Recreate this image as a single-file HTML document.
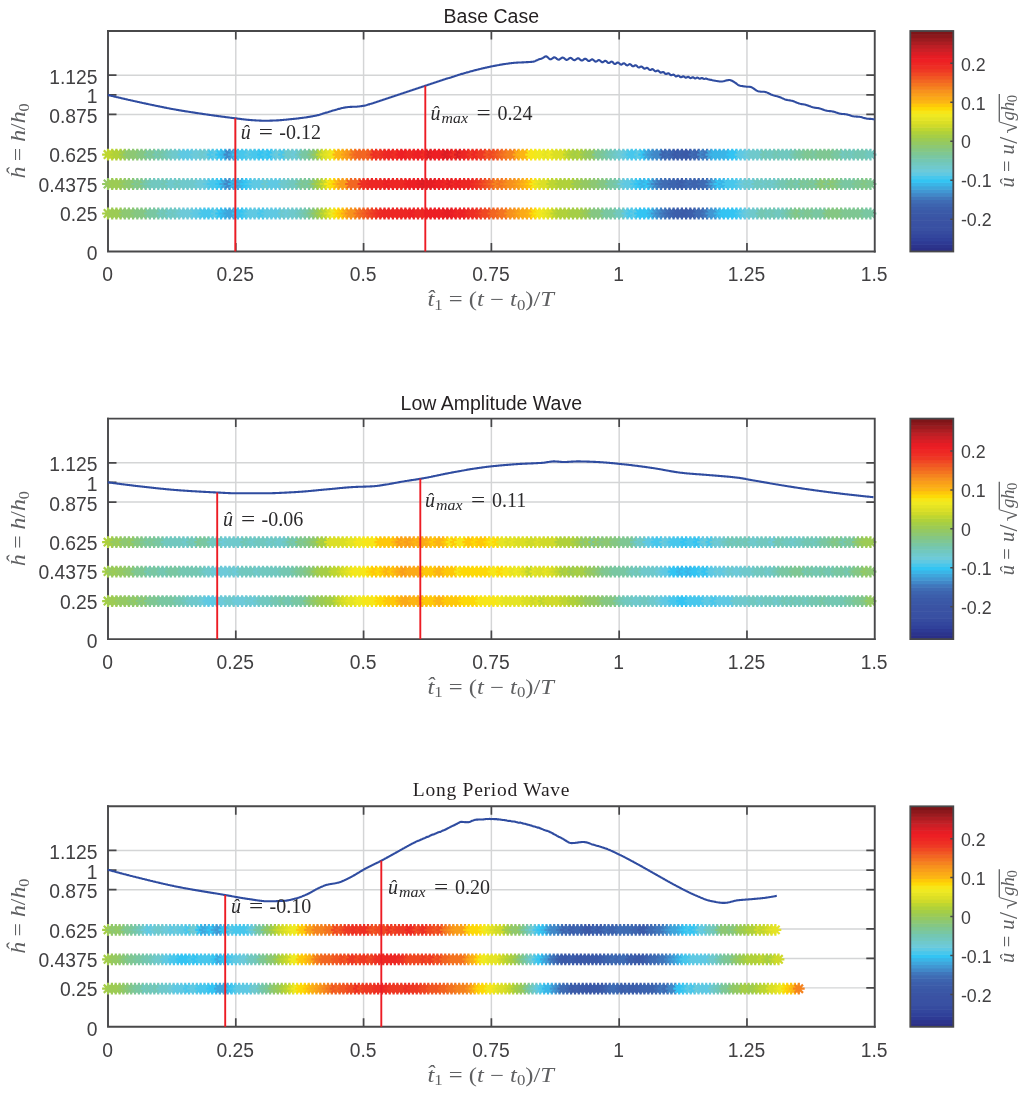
<!DOCTYPE html>
<html lang="en"><head><meta charset="utf-8"><title>Wave velocity profiles</title>
<style>html,body{margin:0;padding:0;background:#fff}svg{display:block}</style></head>
<body>
<svg width="1024" height="1093" viewBox="0 0 1024 1093">
<rect width="1024" height="1093" fill="#ffffff"/>
<g>
<path d="M235.79,31.0V251.5M363.58,31.0V251.5M491.38,31.0V251.5M619.17,31.0V251.5M746.96,31.0V251.5M108.0,212.55H874.8M108.0,183.11H874.8M108.0,153.68H874.8M108.0,114.43H874.8M108.0,94.80H874.8M108.0,75.18H874.8" stroke="#d4d5d6" stroke-width="1.45" fill="none"/>
<path d="M235.79,251.5v-8.5M235.79,31.0v8.5M363.58,251.5v-8.5M363.58,31.0v8.5M491.38,251.5v-8.5M491.38,31.0v8.5M619.17,251.5v-8.5M619.17,31.0v8.5M746.96,251.5v-8.5M746.96,31.0v8.5M108.0,212.55h8.5M874.8,212.55h-8.5M108.0,183.11h8.5M874.8,183.11h-8.5M108.0,153.68h8.5M874.8,153.68h-8.5M108.0,114.43h8.5M874.8,114.43h-8.5M108.0,94.80h8.5M874.8,94.80h-8.5M108.0,75.18h8.5M874.8,75.18h-8.5" stroke="#48484a" stroke-width="1.7" fill="none"/>
<path d="M108.00,31.00V251.50H874.75" fill="none" stroke="#48484a" stroke-width="1.9" stroke-linecap="square"/>
<g fill="none" stroke-width="2.2" stroke-linecap="butt">
<path stroke="#bed631" d="M102.1,154.6H113.9M108.0,148.7V160.5M103.8,150.4L112.2,158.7M103.8,158.7L112.2,150.4"/>
<path stroke="#bed631" d="M106.3,154.6H118.1M112.2,148.7V160.5M108.0,150.4L116.4,158.7M108.0,158.7L116.4,150.4"/>
<path stroke="#b0d13a" d="M110.5,154.6H122.3M116.4,148.7V160.5M112.2,150.4L120.6,158.7M112.2,158.7L120.6,150.4"/>
<path stroke="#b0d13a" d="M114.7,154.6H126.5M120.6,148.7V160.5M116.4,150.4L124.7,158.7M116.4,158.7L124.7,150.4"/>
<path stroke="#9ccb54" d="M118.9,154.6H130.7M124.8,148.7V160.5M120.6,150.4L128.9,158.7M120.6,158.7L128.9,150.4"/>
<path stroke="#8dc873" d="M123.0,154.6H134.8M128.9,148.7V160.5M124.8,150.4L133.1,158.7M124.8,158.7L133.1,150.4"/>
<path stroke="#8dc873" d="M127.2,154.6H139.0M133.1,148.7V160.5M129.0,150.4L137.3,158.7M129.0,158.7L137.3,150.4"/>
<path stroke="#8dc873" d="M131.4,154.6H143.2M137.3,148.7V160.5M133.2,150.4L141.5,158.7M133.2,158.7L141.5,150.4"/>
<path stroke="#85c783" d="M135.6,154.6H147.4M141.5,148.7V160.5M137.3,150.4L145.7,158.7M137.3,158.7L145.7,150.4"/>
<path stroke="#85c783" d="M139.8,154.6H151.6M145.7,148.7V160.5M141.5,150.4L149.9,158.7M141.5,158.7L149.9,150.4"/>
<path stroke="#79c7a2" d="M144.0,154.6H155.8M149.9,148.7V160.5M145.7,150.4L154.1,158.7M145.7,158.7L154.1,150.4"/>
<path stroke="#7fc793" d="M148.2,154.6H160.0M154.1,148.7V160.5M149.9,150.4L158.3,158.7M149.9,158.7L158.3,150.4"/>
<path stroke="#74c7b2" d="M152.4,154.6H164.2M158.3,148.7V160.5M154.1,150.4L162.4,158.7M154.1,158.7L162.4,150.4"/>
<path stroke="#79c7a2" d="M156.6,154.6H168.4M162.5,148.7V160.5M158.3,150.4L166.6,158.7M158.3,158.7L166.6,150.4"/>
<path stroke="#74c7b2" d="M160.8,154.6H172.6M166.7,148.7V160.5M162.5,150.4L170.8,158.7M162.5,158.7L170.8,150.4"/>
<path stroke="#71c8bf" d="M164.9,154.6H176.7M170.8,148.7V160.5M166.7,150.4L175.0,158.7M166.7,158.7L175.0,150.4"/>
<path stroke="#6fc9cc" d="M169.1,154.6H180.9M175.0,148.7V160.5M170.9,150.4L179.2,158.7M170.9,158.7L179.2,150.4"/>
<path stroke="#6fc9cc" d="M173.3,154.6H185.1M179.2,148.7V160.5M175.0,150.4L183.4,158.7M175.0,158.7L183.4,150.4"/>
<path stroke="#5fc9e3" d="M177.5,154.6H189.3M183.4,148.7V160.5M179.2,150.4L187.6,158.7M179.2,158.7L187.6,150.4"/>
<path stroke="#5fc9e3" d="M181.7,154.6H193.5M187.6,148.7V160.5M183.4,150.4L191.8,158.7M183.4,158.7L191.8,150.4"/>
<path stroke="#5fc9e3" d="M185.9,154.6H197.7M191.8,148.7V160.5M187.6,150.4L196.0,158.7M187.6,158.7L196.0,150.4"/>
<path stroke="#6dcad9" d="M190.1,154.6H201.9M196.0,148.7V160.5M191.8,150.4L200.1,158.7M191.8,158.7L200.1,150.4"/>
<path stroke="#6dcad9" d="M194.3,154.6H206.1M200.2,148.7V160.5M196.0,150.4L204.3,158.7M196.0,158.7L204.3,150.4"/>
<path stroke="#6fc9cc" d="M198.5,154.6H210.3M204.4,148.7V160.5M200.2,150.4L208.5,158.7M200.2,158.7L208.5,150.4"/>
<path stroke="#6dcad9" d="M202.6,154.6H214.4M208.5,148.7V160.5M204.4,150.4L212.7,158.7M204.4,158.7L212.7,150.4"/>
<path stroke="#48c7ec" d="M206.8,154.6H218.6M212.7,148.7V160.5M208.6,150.4L216.9,158.7M208.6,158.7L216.9,150.4"/>
<path stroke="#5fc9e3" d="M211.0,154.6H222.8M216.9,148.7V160.5M212.7,150.4L221.1,158.7M212.7,158.7L221.1,150.4"/>
<path stroke="#33c4f3" d="M215.2,154.6H227.0M221.1,148.7V160.5M216.9,150.4L225.3,158.7M216.9,158.7L225.3,150.4"/>
<path stroke="#3ab5e7" d="M219.4,154.6H231.2M225.3,148.7V160.5M221.1,150.4L229.5,158.7M221.1,158.7L229.5,150.4"/>
<path stroke="#4188c8" d="M223.6,154.6H235.4M229.5,148.7V160.5M225.3,150.4L233.7,158.7M225.3,158.7L233.7,150.4"/>
<path stroke="#3fa6dc" d="M227.8,154.6H239.6M233.7,148.7V160.5M229.5,150.4L237.9,158.7M229.5,158.7L237.9,150.4"/>
<path stroke="#33c4f3" d="M232.0,154.6H243.8M237.9,148.7V160.5M233.7,150.4L242.0,158.7M233.7,158.7L242.0,150.4"/>
<path stroke="#48c7ec" d="M236.2,154.6H248.0M242.1,148.7V160.5M237.9,150.4L246.2,158.7M237.9,158.7L246.2,150.4"/>
<path stroke="#48c7ec" d="M240.3,154.6H252.1M246.2,148.7V160.5M242.1,150.4L250.4,158.7M242.1,158.7L250.4,150.4"/>
<path stroke="#5fc9e3" d="M244.5,154.6H256.3M250.4,148.7V160.5M246.3,150.4L254.6,158.7M246.3,158.7L254.6,150.4"/>
<path stroke="#48c7ec" d="M248.7,154.6H260.5M254.6,148.7V160.5M250.5,150.4L258.8,158.7M250.5,158.7L258.8,150.4"/>
<path stroke="#48c7ec" d="M252.9,154.6H264.7M258.8,148.7V160.5M254.6,150.4L263.0,158.7M254.6,158.7L263.0,150.4"/>
<path stroke="#33c4f3" d="M257.1,154.6H268.9M263.0,148.7V160.5M258.8,150.4L267.2,158.7M258.8,158.7L267.2,150.4"/>
<path stroke="#48c7ec" d="M261.3,154.6H273.1M267.2,148.7V160.5M263.0,150.4L271.4,158.7M263.0,158.7L271.4,150.4"/>
<path stroke="#33c4f3" d="M265.5,154.6H277.3M271.4,148.7V160.5M267.2,150.4L275.6,158.7M267.2,158.7L275.6,150.4"/>
<path stroke="#5fc9e3" d="M269.7,154.6H281.5M275.6,148.7V160.5M271.4,150.4L279.7,158.7M271.4,158.7L279.7,150.4"/>
<path stroke="#6dcad9" d="M273.9,154.6H285.7M279.8,148.7V160.5M275.6,150.4L283.9,158.7M275.6,158.7L283.9,150.4"/>
<path stroke="#48c7ec" d="M278.1,154.6H289.9M284.0,148.7V160.5M279.8,150.4L288.1,158.7M279.8,158.7L288.1,150.4"/>
<path stroke="#6fc9cc" d="M282.2,154.6H294.0M288.1,148.7V160.5M284.0,150.4L292.3,158.7M284.0,158.7L292.3,150.4"/>
<path stroke="#6fc9cc" d="M286.4,154.6H298.2M292.3,148.7V160.5M288.2,150.4L296.5,158.7M288.2,158.7L296.5,150.4"/>
<path stroke="#6dcad9" d="M290.6,154.6H302.4M296.5,148.7V160.5M292.3,150.4L300.7,158.7M292.3,158.7L300.7,150.4"/>
<path stroke="#71c8bf" d="M294.8,154.6H306.6M300.7,148.7V160.5M296.5,150.4L304.9,158.7M296.5,158.7L304.9,150.4"/>
<path stroke="#79c7a2" d="M299.0,154.6H310.8M304.9,148.7V160.5M300.7,150.4L309.1,158.7M300.7,158.7L309.1,150.4"/>
<path stroke="#79c7a2" d="M303.2,154.6H315.0M309.1,148.7V160.5M304.9,150.4L313.3,158.7M304.9,158.7L313.3,150.4"/>
<path stroke="#85c783" d="M307.4,154.6H319.2M313.3,148.7V160.5M309.1,150.4L317.4,158.7M309.1,158.7L317.4,150.4"/>
<path stroke="#94c963" d="M311.6,154.6H323.4M317.5,148.7V160.5M313.3,150.4L321.6,158.7M313.3,158.7L321.6,150.4"/>
<path stroke="#bed631" d="M315.8,154.6H327.6M321.7,148.7V160.5M317.5,150.4L325.8,158.7M317.5,158.7L325.8,150.4"/>
<path stroke="#dbdf26" d="M319.9,154.6H331.7M325.8,148.7V160.5M321.7,150.4L330.0,158.7M321.7,158.7L330.0,150.4"/>
<path stroke="#e5e424" d="M324.1,154.6H335.9M330.0,148.7V160.5M325.9,150.4L334.2,158.7M325.9,158.7L334.2,150.4"/>
<path stroke="#f7e618" d="M328.3,154.6H340.1M334.2,148.7V160.5M330.0,150.4L338.4,158.7M330.0,158.7L338.4,150.4"/>
<path stroke="#fcb514" d="M332.5,154.6H344.3M338.4,148.7V160.5M334.2,150.4L342.6,158.7M334.2,158.7L342.6,150.4"/>
<path stroke="#fcb514" d="M336.7,154.6H348.5M342.6,148.7V160.5M338.4,150.4L346.8,158.7M338.4,158.7L346.8,150.4"/>
<path stroke="#f99e1a" d="M340.9,154.6H352.7M346.8,148.7V160.5M342.6,150.4L351.0,158.7M342.6,158.7L351.0,150.4"/>
<path stroke="#f7921d" d="M345.1,154.6H356.9M351.0,148.7V160.5M346.8,150.4L355.2,158.7M346.8,158.7L355.2,150.4"/>
<path stroke="#f47420" d="M349.3,154.6H361.1M355.2,148.7V160.5M351.0,150.4L359.3,158.7M351.0,158.7L359.3,150.4"/>
<path stroke="#f26622" d="M353.5,154.6H365.3M359.4,148.7V160.5M355.2,150.4L363.5,158.7M355.2,158.7L363.5,150.4"/>
<path stroke="#f26622" d="M357.6,154.6H369.4M363.5,148.7V160.5M359.4,150.4L367.7,158.7M359.4,158.7L367.7,150.4"/>
<path stroke="#f26622" d="M361.8,154.6H373.6M367.7,148.7V160.5M363.6,150.4L371.9,158.7M363.6,158.7L371.9,150.4"/>
<path stroke="#f15723" d="M366.0,154.6H377.8M371.9,148.7V160.5M367.8,150.4L376.1,158.7M367.8,158.7L376.1,150.4"/>
<path stroke="#ee2f24" d="M370.2,154.6H382.0M376.1,148.7V160.5M371.9,150.4L380.3,158.7M371.9,158.7L380.3,150.4"/>
<path stroke="#ee3924" d="M374.4,154.6H386.2M380.3,148.7V160.5M376.1,150.4L384.5,158.7M376.1,158.7L384.5,150.4"/>
<path stroke="#ee2f24" d="M378.6,154.6H390.4M384.5,148.7V160.5M380.3,150.4L388.7,158.7M380.3,158.7L388.7,150.4"/>
<path stroke="#ed2724" d="M382.8,154.6H394.6M388.7,148.7V160.5M384.5,150.4L392.9,158.7M384.5,158.7L392.9,150.4"/>
<path stroke="#ed2724" d="M387.0,154.6H398.8M392.9,148.7V160.5M388.7,150.4L397.0,158.7M388.7,158.7L397.0,150.4"/>
<path stroke="#ee2f24" d="M391.2,154.6H403.0M397.1,148.7V160.5M392.9,150.4L401.2,158.7M392.9,158.7L401.2,150.4"/>
<path stroke="#ed1f24" d="M395.4,154.6H407.2M401.3,148.7V160.5M397.1,150.4L405.4,158.7M397.1,158.7L405.4,150.4"/>
<path stroke="#ed1f24" d="M399.5,154.6H411.3M405.4,148.7V160.5M401.3,150.4L409.6,158.7M401.3,158.7L409.6,150.4"/>
<path stroke="#ed2724" d="M403.7,154.6H415.5M409.6,148.7V160.5M405.5,150.4L413.8,158.7M405.5,158.7L413.8,150.4"/>
<path stroke="#ed2724" d="M407.9,154.6H419.7M413.8,148.7V160.5M409.6,150.4L418.0,158.7M409.6,158.7L418.0,150.4"/>
<path stroke="#ed1f24" d="M412.1,154.6H423.9M418.0,148.7V160.5M413.8,150.4L422.2,158.7M413.8,158.7L422.2,150.4"/>
<path stroke="#ed1f24" d="M416.3,154.6H428.1M422.2,148.7V160.5M418.0,150.4L426.4,158.7M418.0,158.7L426.4,150.4"/>
<path stroke="#ee2f24" d="M420.5,154.6H432.3M426.4,148.7V160.5M422.2,150.4L430.6,158.7M422.2,158.7L430.6,150.4"/>
<path stroke="#d91e25" d="M424.7,154.6H436.5M430.6,148.7V160.5M426.4,150.4L434.7,158.7M426.4,158.7L434.7,150.4"/>
<path stroke="#ed1f24" d="M428.9,154.6H440.7M434.8,148.7V160.5M430.6,150.4L438.9,158.7M430.6,158.7L438.9,150.4"/>
<path stroke="#ed1f24" d="M433.1,154.6H444.9M439.0,148.7V160.5M434.8,150.4L443.1,158.7M434.8,158.7L443.1,150.4"/>
<path stroke="#ed1f24" d="M437.2,154.6H449.0M443.1,148.7V160.5M439.0,150.4L447.3,158.7M439.0,158.7L447.3,150.4"/>
<path stroke="#d91e25" d="M441.4,154.6H453.2M447.3,148.7V160.5M443.2,150.4L451.5,158.7M443.2,158.7L451.5,150.4"/>
<path stroke="#e61d24" d="M445.6,154.6H457.4M451.5,148.7V160.5M447.3,150.4L455.7,158.7M447.3,158.7L455.7,150.4"/>
<path stroke="#ee2f24" d="M449.8,154.6H461.6M455.7,148.7V160.5M451.5,150.4L459.9,158.7M451.5,158.7L459.9,150.4"/>
<path stroke="#d91e25" d="M454.0,154.6H465.8M459.9,148.7V160.5M455.7,150.4L464.1,158.7M455.7,158.7L464.1,150.4"/>
<path stroke="#ed2724" d="M458.2,154.6H470.0M464.1,148.7V160.5M459.9,150.4L468.3,158.7M459.9,158.7L468.3,150.4"/>
<path stroke="#ed2724" d="M462.4,154.6H474.2M468.3,148.7V160.5M464.1,150.4L472.5,158.7M464.1,158.7L472.5,150.4"/>
<path stroke="#ee3924" d="M466.6,154.6H478.4M472.5,148.7V160.5M468.3,150.4L476.6,158.7M468.3,158.7L476.6,150.4"/>
<path stroke="#ed2724" d="M470.8,154.6H482.6M476.7,148.7V160.5M472.5,150.4L480.8,158.7M472.5,158.7L480.8,150.4"/>
<path stroke="#ee3924" d="M474.9,154.6H486.7M480.8,148.7V160.5M476.7,150.4L485.0,158.7M476.7,158.7L485.0,150.4"/>
<path stroke="#ee3924" d="M479.1,154.6H490.9M485.0,148.7V160.5M480.9,150.4L489.2,158.7M480.9,158.7L489.2,150.4"/>
<path stroke="#f15723" d="M483.3,154.6H495.1M489.2,148.7V160.5M485.1,150.4L493.4,158.7M485.1,158.7L493.4,150.4"/>
<path stroke="#f04823" d="M487.5,154.6H499.3M493.4,148.7V160.5M489.2,150.4L497.6,158.7M489.2,158.7L497.6,150.4"/>
<path stroke="#f15723" d="M491.7,154.6H503.5M497.6,148.7V160.5M493.4,150.4L501.8,158.7M493.4,158.7L501.8,150.4"/>
<path stroke="#f26622" d="M495.9,154.6H507.7M501.8,148.7V160.5M497.6,150.4L506.0,158.7M497.6,158.7L506.0,150.4"/>
<path stroke="#f47420" d="M500.1,154.6H511.9M506.0,148.7V160.5M501.8,150.4L510.2,158.7M501.8,158.7L510.2,150.4"/>
<path stroke="#f5831f" d="M504.3,154.6H516.1M510.2,148.7V160.5M506.0,150.4L514.3,158.7M506.0,158.7L514.3,150.4"/>
<path stroke="#f5831f" d="M508.5,154.6H520.3M514.4,148.7V160.5M510.2,150.4L518.5,158.7M510.2,158.7L518.5,150.4"/>
<path stroke="#fbaa17" d="M512.7,154.6H524.5M518.6,148.7V160.5M514.4,150.4L522.7,158.7M514.4,158.7L522.7,150.4"/>
<path stroke="#fcb514" d="M516.8,154.6H528.6M522.7,148.7V160.5M518.6,150.4L526.9,158.7M518.6,158.7L526.9,150.4"/>
<path stroke="#fcb514" d="M521.0,154.6H532.8M526.9,148.7V160.5M522.8,150.4L531.1,158.7M522.8,158.7L531.1,150.4"/>
<path stroke="#f7e618" d="M525.2,154.6H537.0M531.1,148.7V160.5M526.9,150.4L535.3,158.7M526.9,158.7L535.3,150.4"/>
<path stroke="#f7e618" d="M529.4,154.6H541.2M535.3,148.7V160.5M531.1,150.4L539.5,158.7M531.1,158.7L539.5,150.4"/>
<path stroke="#efe921" d="M533.6,154.6H545.4M539.5,148.7V160.5M535.3,150.4L543.7,158.7M535.3,158.7L543.7,150.4"/>
<path stroke="#efe921" d="M537.8,154.6H549.6M543.7,148.7V160.5M539.5,150.4L547.9,158.7M539.5,158.7L547.9,150.4"/>
<path stroke="#e5e424" d="M542.0,154.6H553.8M547.9,148.7V160.5M543.7,150.4L552.0,158.7M543.7,158.7L552.0,150.4"/>
<path stroke="#efe921" d="M546.2,154.6H558.0M552.1,148.7V160.5M547.9,150.4L556.2,158.7M547.9,158.7L556.2,150.4"/>
<path stroke="#dbdf26" d="M550.4,154.6H562.2M556.3,148.7V160.5M552.1,150.4L560.4,158.7M552.1,158.7L560.4,150.4"/>
<path stroke="#dbdf26" d="M554.5,154.6H566.3M560.4,148.7V160.5M556.3,150.4L564.6,158.7M556.3,158.7L564.6,150.4"/>
<path stroke="#dbdf26" d="M558.7,154.6H570.5M564.6,148.7V160.5M560.5,150.4L568.8,158.7M560.5,158.7L568.8,150.4"/>
<path stroke="#bed631" d="M562.9,154.6H574.7M568.8,148.7V160.5M564.6,150.4L573.0,158.7M564.6,158.7L573.0,150.4"/>
<path stroke="#b0d13a" d="M567.1,154.6H578.9M573.0,148.7V160.5M568.8,150.4L577.2,158.7M568.8,158.7L577.2,150.4"/>
<path stroke="#a5ce46" d="M571.3,154.6H583.1M577.2,148.7V160.5M573.0,150.4L581.4,158.7M573.0,158.7L581.4,150.4"/>
<path stroke="#b0d13a" d="M575.5,154.6H587.3M581.4,148.7V160.5M577.2,150.4L585.6,158.7M577.2,158.7L585.6,150.4"/>
<path stroke="#9ccb54" d="M579.7,154.6H591.5M585.6,148.7V160.5M581.4,150.4L589.8,158.7M581.4,158.7L589.8,150.4"/>
<path stroke="#94c963" d="M583.9,154.6H595.7M589.8,148.7V160.5M585.6,150.4L593.9,158.7M585.6,158.7L593.9,150.4"/>
<path stroke="#94c963" d="M588.1,154.6H599.9M594.0,148.7V160.5M589.8,150.4L598.1,158.7M589.8,158.7L598.1,150.4"/>
<path stroke="#7fc793" d="M592.2,154.6H604.0M598.1,148.7V160.5M594.0,150.4L602.3,158.7M594.0,158.7L602.3,150.4"/>
<path stroke="#7fc793" d="M596.4,154.6H608.2M602.3,148.7V160.5M598.2,150.4L606.5,158.7M598.2,158.7L606.5,150.4"/>
<path stroke="#79c7a2" d="M600.6,154.6H612.4M606.5,148.7V160.5M602.4,150.4L610.7,158.7M602.4,158.7L610.7,150.4"/>
<path stroke="#74c7b2" d="M604.8,154.6H616.6M610.7,148.7V160.5M606.5,150.4L614.9,158.7M606.5,158.7L614.9,150.4"/>
<path stroke="#71c8bf" d="M609.0,154.6H620.8M614.9,148.7V160.5M610.7,150.4L619.1,158.7M610.7,158.7L619.1,150.4"/>
<path stroke="#6fc9cc" d="M613.2,154.6H625.0M619.1,148.7V160.5M614.9,150.4L623.3,158.7M614.9,158.7L623.3,150.4"/>
<path stroke="#6dcad9" d="M617.4,154.6H629.2M623.3,148.7V160.5M619.1,150.4L627.5,158.7M619.1,158.7L627.5,150.4"/>
<path stroke="#5fc9e3" d="M621.6,154.6H633.4M627.5,148.7V160.5M623.3,150.4L631.6,158.7M623.3,158.7L631.6,150.4"/>
<path stroke="#48c7ec" d="M625.8,154.6H637.6M631.7,148.7V160.5M627.5,150.4L635.8,158.7M627.5,158.7L635.8,150.4"/>
<path stroke="#48c7ec" d="M630.0,154.6H641.8M635.9,148.7V160.5M631.7,150.4L640.0,158.7M631.7,158.7L640.0,150.4"/>
<path stroke="#5fc9e3" d="M634.1,154.6H645.9M640.0,148.7V160.5M635.9,150.4L644.2,158.7M635.9,158.7L644.2,150.4"/>
<path stroke="#33c4f3" d="M638.3,154.6H650.1M644.2,148.7V160.5M640.1,150.4L648.4,158.7M640.1,158.7L648.4,150.4"/>
<path stroke="#3fa6dc" d="M642.5,154.6H654.3M648.4,148.7V160.5M644.2,150.4L652.6,158.7M644.2,158.7L652.6,150.4"/>
<path stroke="#4197d3" d="M646.7,154.6H658.5M652.6,148.7V160.5M648.4,150.4L656.8,158.7M648.4,158.7L656.8,150.4"/>
<path stroke="#4188c8" d="M650.9,154.6H662.7M656.8,148.7V160.5M652.6,150.4L661.0,158.7M652.6,158.7L661.0,150.4"/>
<path stroke="#4188c8" d="M655.1,154.6H666.9M661.0,148.7V160.5M656.8,150.4L665.2,158.7M656.8,158.7L665.2,150.4"/>
<path stroke="#3d64af" d="M659.3,154.6H671.1M665.2,148.7V160.5M661.0,150.4L669.3,158.7M661.0,158.7L669.3,150.4"/>
<path stroke="#3f6cb4" d="M663.5,154.6H675.3M669.4,148.7V160.5M665.2,150.4L673.5,158.7M665.2,158.7L673.5,150.4"/>
<path stroke="#3d64af" d="M667.7,154.6H679.5M673.6,148.7V160.5M669.4,150.4L677.7,158.7M669.4,158.7L677.7,150.4"/>
<path stroke="#3b5aa8" d="M671.8,154.6H683.6M677.7,148.7V160.5M673.6,150.4L681.9,158.7M673.6,158.7L681.9,150.4"/>
<path stroke="#3c5eab" d="M676.0,154.6H687.8M681.9,148.7V160.5M677.8,150.4L686.1,158.7M677.8,158.7L686.1,150.4"/>
<path stroke="#3b5aa8" d="M680.2,154.6H692.0M686.1,148.7V160.5M681.9,150.4L690.3,158.7M681.9,158.7L690.3,150.4"/>
<path stroke="#3b5aa8" d="M684.4,154.6H696.2M690.3,148.7V160.5M686.1,150.4L694.5,158.7M686.1,158.7L694.5,150.4"/>
<path stroke="#3f6cb4" d="M688.6,154.6H700.4M694.5,148.7V160.5M690.3,150.4L698.7,158.7M690.3,158.7L698.7,150.4"/>
<path stroke="#3d64af" d="M692.8,154.6H704.6M698.7,148.7V160.5M694.5,150.4L702.9,158.7M694.5,158.7L702.9,150.4"/>
<path stroke="#4188c8" d="M697.0,154.6H708.8M702.9,148.7V160.5M698.7,150.4L707.1,158.7M698.7,158.7L707.1,150.4"/>
<path stroke="#4077bc" d="M701.2,154.6H713.0M707.1,148.7V160.5M702.9,150.4L711.2,158.7M702.9,158.7L711.2,150.4"/>
<path stroke="#3fa6dc" d="M705.4,154.6H717.2M711.3,148.7V160.5M707.1,150.4L715.4,158.7M707.1,158.7L715.4,150.4"/>
<path stroke="#3ab5e7" d="M709.5,154.6H721.3M715.4,148.7V160.5M711.3,150.4L719.6,158.7M711.3,158.7L719.6,150.4"/>
<path stroke="#3ab5e7" d="M713.7,154.6H725.5M719.6,148.7V160.5M715.5,150.4L723.8,158.7M715.5,158.7L723.8,150.4"/>
<path stroke="#3ab5e7" d="M717.9,154.6H729.7M723.8,148.7V160.5M719.7,150.4L728.0,158.7M719.7,158.7L728.0,150.4"/>
<path stroke="#3ab5e7" d="M722.1,154.6H733.9M728.0,148.7V160.5M723.8,150.4L732.2,158.7M723.8,158.7L732.2,150.4"/>
<path stroke="#33c4f3" d="M726.3,154.6H738.1M732.2,148.7V160.5M728.0,150.4L736.4,158.7M728.0,158.7L736.4,150.4"/>
<path stroke="#33c4f3" d="M730.5,154.6H742.3M736.4,148.7V160.5M732.2,150.4L740.6,158.7M732.2,158.7L740.6,150.4"/>
<path stroke="#5fc9e3" d="M734.7,154.6H746.5M740.6,148.7V160.5M736.4,150.4L744.8,158.7M736.4,158.7L744.8,150.4"/>
<path stroke="#5fc9e3" d="M738.9,154.6H750.7M744.8,148.7V160.5M740.6,150.4L748.9,158.7M740.6,158.7L748.9,150.4"/>
<path stroke="#6dcad9" d="M743.1,154.6H754.9M749.0,148.7V160.5M744.8,150.4L753.1,158.7M744.8,158.7L753.1,150.4"/>
<path stroke="#6fc9cc" d="M747.3,154.6H759.1M753.2,148.7V160.5M749.0,150.4L757.3,158.7M749.0,158.7L757.3,150.4"/>
<path stroke="#6fc9cc" d="M751.4,154.6H763.2M757.3,148.7V160.5M753.2,150.4L761.5,158.7M753.2,158.7L761.5,150.4"/>
<path stroke="#6fc9cc" d="M755.6,154.6H767.4M761.5,148.7V160.5M757.4,150.4L765.7,158.7M757.4,158.7L765.7,150.4"/>
<path stroke="#74c7b2" d="M759.8,154.6H771.6M765.7,148.7V160.5M761.5,150.4L769.9,158.7M761.5,158.7L769.9,150.4"/>
<path stroke="#71c8bf" d="M764.0,154.6H775.8M769.9,148.7V160.5M765.7,150.4L774.1,158.7M765.7,158.7L774.1,150.4"/>
<path stroke="#71c8bf" d="M768.2,154.6H780.0M774.1,148.7V160.5M769.9,150.4L778.3,158.7M769.9,158.7L778.3,150.4"/>
<path stroke="#74c7b2" d="M772.4,154.6H784.2M778.3,148.7V160.5M774.1,150.4L782.5,158.7M774.1,158.7L782.5,150.4"/>
<path stroke="#71c8bf" d="M776.6,154.6H788.4M782.5,148.7V160.5M778.3,150.4L786.6,158.7M778.3,158.7L786.6,150.4"/>
<path stroke="#71c8bf" d="M780.8,154.6H792.6M786.7,148.7V160.5M782.5,150.4L790.8,158.7M782.5,158.7L790.8,150.4"/>
<path stroke="#71c8bf" d="M785.0,154.6H796.8M790.9,148.7V160.5M786.7,150.4L795.0,158.7M786.7,158.7L795.0,150.4"/>
<path stroke="#74c7b2" d="M789.1,154.6H800.9M795.0,148.7V160.5M790.9,150.4L799.2,158.7M790.9,158.7L799.2,150.4"/>
<path stroke="#79c7a2" d="M793.3,154.6H805.1M799.2,148.7V160.5M795.1,150.4L803.4,158.7M795.1,158.7L803.4,150.4"/>
<path stroke="#79c7a2" d="M797.5,154.6H809.3M803.4,148.7V160.5M799.2,150.4L807.6,158.7M799.2,158.7L807.6,150.4"/>
<path stroke="#7fc793" d="M801.7,154.6H813.5M807.6,148.7V160.5M803.4,150.4L811.8,158.7M803.4,158.7L811.8,150.4"/>
<path stroke="#7fc793" d="M805.9,154.6H817.7M811.8,148.7V160.5M807.6,150.4L816.0,158.7M807.6,158.7L816.0,150.4"/>
<path stroke="#79c7a2" d="M810.1,154.6H821.9M816.0,148.7V160.5M811.8,150.4L820.2,158.7M811.8,158.7L820.2,150.4"/>
<path stroke="#7fc793" d="M814.3,154.6H826.1M820.2,148.7V160.5M816.0,150.4L824.4,158.7M816.0,158.7L824.4,150.4"/>
<path stroke="#7fc793" d="M818.5,154.6H830.3M824.4,148.7V160.5M820.2,150.4L828.5,158.7M820.2,158.7L828.5,150.4"/>
<path stroke="#7fc793" d="M822.7,154.6H834.5M828.6,148.7V160.5M824.4,150.4L832.7,158.7M824.4,158.7L832.7,150.4"/>
<path stroke="#7fc793" d="M826.8,154.6H838.6M832.7,148.7V160.5M828.6,150.4L836.9,158.7M828.6,158.7L836.9,150.4"/>
<path stroke="#79c7a2" d="M831.0,154.6H842.8M836.9,148.7V160.5M832.8,150.4L841.1,158.7M832.8,158.7L841.1,150.4"/>
<path stroke="#79c7a2" d="M835.2,154.6H847.0M841.1,148.7V160.5M837.0,150.4L845.3,158.7M837.0,158.7L845.3,150.4"/>
<path stroke="#71c8bf" d="M839.4,154.6H851.2M845.3,148.7V160.5M841.1,150.4L849.5,158.7M841.1,158.7L849.5,150.4"/>
<path stroke="#74c7b2" d="M843.6,154.6H855.4M849.5,148.7V160.5M845.3,150.4L853.7,158.7M845.3,158.7L853.7,150.4"/>
<path stroke="#71c8bf" d="M847.8,154.6H859.6M853.7,148.7V160.5M849.5,150.4L857.9,158.7M849.5,158.7L857.9,150.4"/>
<path stroke="#74c7b2" d="M852.0,154.6H863.8M857.9,148.7V160.5M853.7,150.4L862.1,158.7M853.7,158.7L862.1,150.4"/>
<path stroke="#74c7b2" d="M856.2,154.6H868.0M862.1,148.7V160.5M857.9,150.4L866.2,158.7M857.9,158.7L866.2,150.4"/>
<path stroke="#74c7b2" d="M860.4,154.6H872.2M866.3,148.7V160.5M862.1,150.4L870.4,158.7M862.1,158.7L870.4,150.4"/>
<path stroke="#71c8bf" d="M864.6,154.6H876.4M870.5,148.7V160.5M866.3,150.4L874.6,158.7M866.3,158.7L874.6,150.4"/>
<path stroke="#94c963" d="M102.1,184.0H113.9M108.0,178.1V189.9M103.8,179.8L112.2,188.2M103.8,188.2L112.2,179.8"/>
<path stroke="#9ccb54" d="M106.3,184.0H118.1M112.2,178.1V189.9M108.0,179.8L116.4,188.2M108.0,188.2L116.4,179.8"/>
<path stroke="#9ccb54" d="M110.5,184.0H122.3M116.4,178.1V189.9M112.2,179.8L120.6,188.2M112.2,188.2L120.6,179.8"/>
<path stroke="#9ccb54" d="M114.7,184.0H126.5M120.6,178.1V189.9M116.4,179.8L124.7,188.2M116.4,188.2L124.7,179.8"/>
<path stroke="#94c963" d="M118.9,184.0H130.7M124.8,178.1V189.9M120.6,179.8L128.9,188.2M120.6,188.2L128.9,179.8"/>
<path stroke="#8dc873" d="M123.0,184.0H134.8M128.9,178.1V189.9M124.8,179.8L133.1,188.2M124.8,188.2L133.1,179.8"/>
<path stroke="#8dc873" d="M127.2,184.0H139.0M133.1,178.1V189.9M129.0,179.8L137.3,188.2M129.0,188.2L137.3,179.8"/>
<path stroke="#7fc793" d="M131.4,184.0H143.2M137.3,178.1V189.9M133.2,179.8L141.5,188.2M133.2,188.2L141.5,179.8"/>
<path stroke="#85c783" d="M135.6,184.0H147.4M141.5,178.1V189.9M137.3,179.8L145.7,188.2M137.3,188.2L145.7,179.8"/>
<path stroke="#79c7a2" d="M139.8,184.0H151.6M145.7,178.1V189.9M141.5,179.8L149.9,188.2M141.5,188.2L149.9,179.8"/>
<path stroke="#74c7b2" d="M144.0,184.0H155.8M149.9,178.1V189.9M145.7,179.8L154.1,188.2M145.7,188.2L154.1,179.8"/>
<path stroke="#71c8bf" d="M148.2,184.0H160.0M154.1,178.1V189.9M149.9,179.8L158.3,188.2M149.9,188.2L158.3,179.8"/>
<path stroke="#71c8bf" d="M152.4,184.0H164.2M158.3,178.1V189.9M154.1,179.8L162.4,188.2M154.1,188.2L162.4,179.8"/>
<path stroke="#71c8bf" d="M156.6,184.0H168.4M162.5,178.1V189.9M158.3,179.8L166.6,188.2M158.3,188.2L166.6,179.8"/>
<path stroke="#74c7b2" d="M160.8,184.0H172.6M166.7,178.1V189.9M162.5,179.8L170.8,188.2M162.5,188.2L170.8,179.8"/>
<path stroke="#6fc9cc" d="M164.9,184.0H176.7M170.8,178.1V189.9M166.7,179.8L175.0,188.2M166.7,188.2L175.0,179.8"/>
<path stroke="#6fc9cc" d="M169.1,184.0H180.9M175.0,178.1V189.9M170.9,179.8L179.2,188.2M170.9,188.2L179.2,179.8"/>
<path stroke="#71c8bf" d="M173.3,184.0H185.1M179.2,178.1V189.9M175.0,179.8L183.4,188.2M175.0,188.2L183.4,179.8"/>
<path stroke="#6fc9cc" d="M177.5,184.0H189.3M183.4,178.1V189.9M179.2,179.8L187.6,188.2M179.2,188.2L187.6,179.8"/>
<path stroke="#6fc9cc" d="M181.7,184.0H193.5M187.6,178.1V189.9M183.4,179.8L191.8,188.2M183.4,188.2L191.8,179.8"/>
<path stroke="#6fc9cc" d="M185.9,184.0H197.7M191.8,178.1V189.9M187.6,179.8L196.0,188.2M187.6,188.2L196.0,179.8"/>
<path stroke="#6fc9cc" d="M190.1,184.0H201.9M196.0,178.1V189.9M191.8,179.8L200.1,188.2M191.8,188.2L200.1,179.8"/>
<path stroke="#6dcad9" d="M194.3,184.0H206.1M200.2,178.1V189.9M196.0,179.8L204.3,188.2M196.0,188.2L204.3,179.8"/>
<path stroke="#6dcad9" d="M198.5,184.0H210.3M204.4,178.1V189.9M200.2,179.8L208.5,188.2M200.2,188.2L208.5,179.8"/>
<path stroke="#5fc9e3" d="M202.6,184.0H214.4M208.5,178.1V189.9M204.4,179.8L212.7,188.2M204.4,188.2L212.7,179.8"/>
<path stroke="#48c7ec" d="M206.8,184.0H218.6M212.7,178.1V189.9M208.6,179.8L216.9,188.2M208.6,188.2L216.9,179.8"/>
<path stroke="#48c7ec" d="M211.0,184.0H222.8M216.9,178.1V189.9M212.7,179.8L221.1,188.2M212.7,188.2L221.1,179.8"/>
<path stroke="#33c4f3" d="M215.2,184.0H227.0M221.1,178.1V189.9M216.9,179.8L225.3,188.2M216.9,188.2L225.3,179.8"/>
<path stroke="#3fa6dc" d="M219.4,184.0H231.2M225.3,178.1V189.9M221.1,179.8L229.5,188.2M221.1,188.2L229.5,179.8"/>
<path stroke="#4188c8" d="M223.6,184.0H235.4M229.5,178.1V189.9M225.3,179.8L233.7,188.2M225.3,188.2L233.7,179.8"/>
<path stroke="#3ab5e7" d="M227.8,184.0H239.6M233.7,178.1V189.9M229.5,179.8L237.9,188.2M229.5,188.2L237.9,179.8"/>
<path stroke="#3fa6dc" d="M232.0,184.0H243.8M237.9,178.1V189.9M233.7,179.8L242.0,188.2M233.7,188.2L242.0,179.8"/>
<path stroke="#3ab5e7" d="M236.2,184.0H248.0M242.1,178.1V189.9M237.9,179.8L246.2,188.2M237.9,188.2L246.2,179.8"/>
<path stroke="#33c4f3" d="M240.3,184.0H252.1M246.2,178.1V189.9M242.1,179.8L250.4,188.2M242.1,188.2L250.4,179.8"/>
<path stroke="#48c7ec" d="M244.5,184.0H256.3M250.4,178.1V189.9M246.3,179.8L254.6,188.2M246.3,188.2L254.6,179.8"/>
<path stroke="#5fc9e3" d="M248.7,184.0H260.5M254.6,178.1V189.9M250.5,179.8L258.8,188.2M250.5,188.2L258.8,179.8"/>
<path stroke="#5fc9e3" d="M252.9,184.0H264.7M258.8,178.1V189.9M254.6,179.8L263.0,188.2M254.6,188.2L263.0,179.8"/>
<path stroke="#5fc9e3" d="M257.1,184.0H268.9M263.0,178.1V189.9M258.8,179.8L267.2,188.2M258.8,188.2L267.2,179.8"/>
<path stroke="#6fc9cc" d="M261.3,184.0H273.1M267.2,178.1V189.9M263.0,179.8L271.4,188.2M263.0,188.2L271.4,179.8"/>
<path stroke="#5fc9e3" d="M265.5,184.0H277.3M271.4,178.1V189.9M267.2,179.8L275.6,188.2M267.2,188.2L275.6,179.8"/>
<path stroke="#5fc9e3" d="M269.7,184.0H281.5M275.6,178.1V189.9M271.4,179.8L279.7,188.2M271.4,188.2L279.7,179.8"/>
<path stroke="#5fc9e3" d="M273.9,184.0H285.7M279.8,178.1V189.9M275.6,179.8L283.9,188.2M275.6,188.2L283.9,179.8"/>
<path stroke="#6fc9cc" d="M278.1,184.0H289.9M284.0,178.1V189.9M279.8,179.8L288.1,188.2M279.8,188.2L288.1,179.8"/>
<path stroke="#6fc9cc" d="M282.2,184.0H294.0M288.1,178.1V189.9M284.0,179.8L292.3,188.2M284.0,188.2L292.3,179.8"/>
<path stroke="#71c8bf" d="M286.4,184.0H298.2M292.3,178.1V189.9M288.2,179.8L296.5,188.2M288.2,188.2L296.5,179.8"/>
<path stroke="#71c8bf" d="M290.6,184.0H302.4M296.5,178.1V189.9M292.3,179.8L300.7,188.2M292.3,188.2L300.7,179.8"/>
<path stroke="#79c7a2" d="M294.8,184.0H306.6M300.7,178.1V189.9M296.5,179.8L304.9,188.2M296.5,188.2L304.9,179.8"/>
<path stroke="#7fc793" d="M299.0,184.0H310.8M304.9,178.1V189.9M300.7,179.8L309.1,188.2M300.7,188.2L309.1,179.8"/>
<path stroke="#79c7a2" d="M303.2,184.0H315.0M309.1,178.1V189.9M304.9,179.8L313.3,188.2M304.9,188.2L313.3,179.8"/>
<path stroke="#85c783" d="M307.4,184.0H319.2M313.3,178.1V189.9M309.1,179.8L317.4,188.2M309.1,188.2L317.4,179.8"/>
<path stroke="#9ccb54" d="M311.6,184.0H323.4M317.5,178.1V189.9M313.3,179.8L321.6,188.2M313.3,188.2L321.6,179.8"/>
<path stroke="#b0d13a" d="M315.8,184.0H327.6M321.7,178.1V189.9M317.5,179.8L325.8,188.2M317.5,188.2L325.8,179.8"/>
<path stroke="#cfda2a" d="M319.9,184.0H331.7M325.8,178.1V189.9M321.7,179.8L330.0,188.2M321.7,188.2L330.0,179.8"/>
<path stroke="#f7e618" d="M324.1,184.0H335.9M330.0,178.1V189.9M325.9,179.8L334.2,188.2M325.9,188.2L334.2,179.8"/>
<path stroke="#fdd907" d="M328.3,184.0H340.1M334.2,178.1V189.9M330.0,179.8L338.4,188.2M330.0,188.2L338.4,179.8"/>
<path stroke="#fcb514" d="M332.5,184.0H344.3M338.4,178.1V189.9M334.2,179.8L342.6,188.2M334.2,188.2L342.6,179.8"/>
<path stroke="#f99e1a" d="M336.7,184.0H348.5M342.6,178.1V189.9M338.4,179.8L346.8,188.2M338.4,188.2L346.8,179.8"/>
<path stroke="#f99e1a" d="M340.9,184.0H352.7M346.8,178.1V189.9M342.6,179.8L351.0,188.2M342.6,188.2L351.0,179.8"/>
<path stroke="#f26622" d="M345.1,184.0H356.9M351.0,178.1V189.9M346.8,179.8L355.2,188.2M346.8,188.2L355.2,179.8"/>
<path stroke="#f26622" d="M349.3,184.0H361.1M355.2,178.1V189.9M351.0,179.8L359.3,188.2M351.0,188.2L359.3,179.8"/>
<path stroke="#f26622" d="M353.5,184.0H365.3M359.4,178.1V189.9M355.2,179.8L363.5,188.2M355.2,188.2L363.5,179.8"/>
<path stroke="#ee2f24" d="M357.6,184.0H369.4M363.5,178.1V189.9M359.4,179.8L367.7,188.2M359.4,188.2L367.7,179.8"/>
<path stroke="#ee2f24" d="M361.8,184.0H373.6M367.7,178.1V189.9M363.6,179.8L371.9,188.2M363.6,188.2L371.9,179.8"/>
<path stroke="#ed2724" d="M366.0,184.0H377.8M371.9,178.1V189.9M367.8,179.8L376.1,188.2M367.8,188.2L376.1,179.8"/>
<path stroke="#ed2724" d="M370.2,184.0H382.0M376.1,178.1V189.9M371.9,179.8L380.3,188.2M371.9,188.2L380.3,179.8"/>
<path stroke="#ed2724" d="M374.4,184.0H386.2M380.3,178.1V189.9M376.1,179.8L384.5,188.2M376.1,188.2L384.5,179.8"/>
<path stroke="#ed2724" d="M378.6,184.0H390.4M384.5,178.1V189.9M380.3,179.8L388.7,188.2M380.3,188.2L388.7,179.8"/>
<path stroke="#ed1f24" d="M382.8,184.0H394.6M388.7,178.1V189.9M384.5,179.8L392.9,188.2M384.5,188.2L392.9,179.8"/>
<path stroke="#ed2724" d="M387.0,184.0H398.8M392.9,178.1V189.9M388.7,179.8L397.0,188.2M388.7,188.2L397.0,179.8"/>
<path stroke="#ed2724" d="M391.2,184.0H403.0M397.1,178.1V189.9M392.9,179.8L401.2,188.2M392.9,188.2L401.2,179.8"/>
<path stroke="#ed2724" d="M395.4,184.0H407.2M401.3,178.1V189.9M397.1,179.8L405.4,188.2M397.1,188.2L405.4,179.8"/>
<path stroke="#ed2724" d="M399.5,184.0H411.3M405.4,178.1V189.9M401.3,179.8L409.6,188.2M401.3,188.2L409.6,179.8"/>
<path stroke="#ed1f24" d="M403.7,184.0H415.5M409.6,178.1V189.9M405.5,179.8L413.8,188.2M405.5,188.2L413.8,179.8"/>
<path stroke="#ed1f24" d="M407.9,184.0H419.7M413.8,178.1V189.9M409.6,179.8L418.0,188.2M409.6,188.2L418.0,179.8"/>
<path stroke="#ed1f24" d="M412.1,184.0H423.9M418.0,178.1V189.9M413.8,179.8L422.2,188.2M413.8,188.2L422.2,179.8"/>
<path stroke="#e61d24" d="M416.3,184.0H428.1M422.2,178.1V189.9M418.0,179.8L426.4,188.2M418.0,188.2L426.4,179.8"/>
<path stroke="#d91e25" d="M420.5,184.0H432.3M426.4,178.1V189.9M422.2,179.8L430.6,188.2M422.2,188.2L430.6,179.8"/>
<path stroke="#e61d24" d="M424.7,184.0H436.5M430.6,178.1V189.9M426.4,179.8L434.7,188.2M426.4,188.2L434.7,179.8"/>
<path stroke="#e61d24" d="M428.9,184.0H440.7M434.8,178.1V189.9M430.6,179.8L438.9,188.2M430.6,188.2L438.9,179.8"/>
<path stroke="#ed1f24" d="M433.1,184.0H444.9M439.0,178.1V189.9M434.8,179.8L443.1,188.2M434.8,188.2L443.1,179.8"/>
<path stroke="#ed1f24" d="M437.2,184.0H449.0M443.1,178.1V189.9M439.0,179.8L447.3,188.2M439.0,188.2L447.3,179.8"/>
<path stroke="#ed2724" d="M441.4,184.0H453.2M447.3,178.1V189.9M443.2,179.8L451.5,188.2M443.2,188.2L451.5,179.8"/>
<path stroke="#e61d24" d="M445.6,184.0H457.4M451.5,178.1V189.9M447.3,179.8L455.7,188.2M447.3,188.2L455.7,179.8"/>
<path stroke="#ed2724" d="M449.8,184.0H461.6M455.7,178.1V189.9M451.5,179.8L459.9,188.2M451.5,188.2L459.9,179.8"/>
<path stroke="#ed1f24" d="M454.0,184.0H465.8M459.9,178.1V189.9M455.7,179.8L464.1,188.2M455.7,188.2L464.1,179.8"/>
<path stroke="#ed2724" d="M458.2,184.0H470.0M464.1,178.1V189.9M459.9,179.8L468.3,188.2M459.9,188.2L468.3,179.8"/>
<path stroke="#ed2724" d="M462.4,184.0H474.2M468.3,178.1V189.9M464.1,179.8L472.5,188.2M464.1,188.2L472.5,179.8"/>
<path stroke="#ed2724" d="M466.6,184.0H478.4M472.5,178.1V189.9M468.3,179.8L476.6,188.2M468.3,188.2L476.6,179.8"/>
<path stroke="#ee2f24" d="M470.8,184.0H482.6M476.7,178.1V189.9M472.5,179.8L480.8,188.2M472.5,188.2L480.8,179.8"/>
<path stroke="#ee3924" d="M474.9,184.0H486.7M480.8,178.1V189.9M476.7,179.8L485.0,188.2M476.7,188.2L485.0,179.8"/>
<path stroke="#f04823" d="M479.1,184.0H490.9M485.0,178.1V189.9M480.9,179.8L489.2,188.2M480.9,188.2L489.2,179.8"/>
<path stroke="#f15723" d="M483.3,184.0H495.1M489.2,178.1V189.9M485.1,179.8L493.4,188.2M485.1,188.2L493.4,179.8"/>
<path stroke="#f26622" d="M487.5,184.0H499.3M493.4,178.1V189.9M489.2,179.8L497.6,188.2M489.2,188.2L497.6,179.8"/>
<path stroke="#f5831f" d="M491.7,184.0H503.5M497.6,178.1V189.9M493.4,179.8L501.8,188.2M493.4,188.2L501.8,179.8"/>
<path stroke="#f47420" d="M495.9,184.0H507.7M501.8,178.1V189.9M497.6,179.8L506.0,188.2M497.6,188.2L506.0,179.8"/>
<path stroke="#f5831f" d="M500.1,184.0H511.9M506.0,178.1V189.9M501.8,179.8L510.2,188.2M501.8,188.2L510.2,179.8"/>
<path stroke="#f7921d" d="M504.3,184.0H516.1M510.2,178.1V189.9M506.0,179.8L514.3,188.2M506.0,188.2L514.3,179.8"/>
<path stroke="#f7921d" d="M508.5,184.0H520.3M514.4,178.1V189.9M510.2,179.8L518.5,188.2M510.2,188.2L518.5,179.8"/>
<path stroke="#f99e1a" d="M512.7,184.0H524.5M518.6,178.1V189.9M514.4,179.8L522.7,188.2M514.4,188.2L522.7,179.8"/>
<path stroke="#fbaa17" d="M516.8,184.0H528.6M522.7,178.1V189.9M518.6,179.8L526.9,188.2M518.6,188.2L526.9,179.8"/>
<path stroke="#fcb514" d="M521.0,184.0H532.8M526.9,178.1V189.9M522.8,179.8L531.1,188.2M522.8,188.2L531.1,179.8"/>
<path stroke="#fec809" d="M525.2,184.0H537.0M531.1,178.1V189.9M526.9,179.8L535.3,188.2M526.9,188.2L535.3,179.8"/>
<path stroke="#f7e618" d="M529.4,184.0H541.2M535.3,178.1V189.9M531.1,179.8L539.5,188.2M531.1,188.2L539.5,179.8"/>
<path stroke="#e5e424" d="M533.6,184.0H545.4M539.5,178.1V189.9M535.3,179.8L543.7,188.2M535.3,188.2L543.7,179.8"/>
<path stroke="#dbdf26" d="M537.8,184.0H549.6M543.7,178.1V189.9M539.5,179.8L547.9,188.2M539.5,188.2L547.9,179.8"/>
<path stroke="#dbdf26" d="M542.0,184.0H553.8M547.9,178.1V189.9M543.7,179.8L552.0,188.2M543.7,188.2L552.0,179.8"/>
<path stroke="#bed631" d="M546.2,184.0H558.0M552.1,178.1V189.9M547.9,179.8L556.2,188.2M547.9,188.2L556.2,179.8"/>
<path stroke="#bed631" d="M550.4,184.0H562.2M556.3,178.1V189.9M552.1,179.8L560.4,188.2M552.1,188.2L560.4,179.8"/>
<path stroke="#b0d13a" d="M554.5,184.0H566.3M560.4,178.1V189.9M556.3,179.8L564.6,188.2M556.3,188.2L564.6,179.8"/>
<path stroke="#b0d13a" d="M558.7,184.0H570.5M564.6,178.1V189.9M560.5,179.8L568.8,188.2M560.5,188.2L568.8,179.8"/>
<path stroke="#b0d13a" d="M562.9,184.0H574.7M568.8,178.1V189.9M564.6,179.8L573.0,188.2M564.6,188.2L573.0,179.8"/>
<path stroke="#b0d13a" d="M567.1,184.0H578.9M573.0,178.1V189.9M568.8,179.8L577.2,188.2M568.8,188.2L577.2,179.8"/>
<path stroke="#9ccb54" d="M571.3,184.0H583.1M577.2,178.1V189.9M573.0,179.8L581.4,188.2M573.0,188.2L581.4,179.8"/>
<path stroke="#9ccb54" d="M575.5,184.0H587.3M581.4,178.1V189.9M577.2,179.8L585.6,188.2M577.2,188.2L585.6,179.8"/>
<path stroke="#94c963" d="M579.7,184.0H591.5M585.6,178.1V189.9M581.4,179.8L589.8,188.2M581.4,188.2L589.8,179.8"/>
<path stroke="#94c963" d="M583.9,184.0H595.7M589.8,178.1V189.9M585.6,179.8L593.9,188.2M585.6,188.2L593.9,179.8"/>
<path stroke="#8dc873" d="M588.1,184.0H599.9M594.0,178.1V189.9M589.8,179.8L598.1,188.2M589.8,188.2L598.1,179.8"/>
<path stroke="#8dc873" d="M592.2,184.0H604.0M598.1,178.1V189.9M594.0,179.8L602.3,188.2M594.0,188.2L602.3,179.8"/>
<path stroke="#85c783" d="M596.4,184.0H608.2M602.3,178.1V189.9M598.2,179.8L606.5,188.2M598.2,188.2L606.5,179.8"/>
<path stroke="#85c783" d="M600.6,184.0H612.4M606.5,178.1V189.9M602.4,179.8L610.7,188.2M602.4,188.2L610.7,179.8"/>
<path stroke="#79c7a2" d="M604.8,184.0H616.6M610.7,178.1V189.9M606.5,179.8L614.9,188.2M606.5,188.2L614.9,179.8"/>
<path stroke="#79c7a2" d="M609.0,184.0H620.8M614.9,178.1V189.9M610.7,179.8L619.1,188.2M610.7,188.2L619.1,179.8"/>
<path stroke="#74c7b2" d="M613.2,184.0H625.0M619.1,178.1V189.9M614.9,179.8L623.3,188.2M614.9,188.2L623.3,179.8"/>
<path stroke="#6dcad9" d="M617.4,184.0H629.2M623.3,178.1V189.9M619.1,179.8L627.5,188.2M619.1,188.2L627.5,179.8"/>
<path stroke="#5fc9e3" d="M621.6,184.0H633.4M627.5,178.1V189.9M623.3,179.8L631.6,188.2M623.3,188.2L631.6,179.8"/>
<path stroke="#5fc9e3" d="M625.8,184.0H637.6M631.7,178.1V189.9M627.5,179.8L635.8,188.2M627.5,188.2L635.8,179.8"/>
<path stroke="#48c7ec" d="M630.0,184.0H641.8M635.9,178.1V189.9M631.7,179.8L640.0,188.2M631.7,188.2L640.0,179.8"/>
<path stroke="#33c4f3" d="M634.1,184.0H645.9M640.0,178.1V189.9M635.9,179.8L644.2,188.2M635.9,188.2L644.2,179.8"/>
<path stroke="#3ab5e7" d="M638.3,184.0H650.1M644.2,178.1V189.9M640.1,179.8L648.4,188.2M640.1,188.2L648.4,179.8"/>
<path stroke="#33c4f3" d="M642.5,184.0H654.3M648.4,178.1V189.9M644.2,179.8L652.6,188.2M644.2,188.2L652.6,179.8"/>
<path stroke="#3fa6dc" d="M646.7,184.0H658.5M652.6,178.1V189.9M648.4,179.8L656.8,188.2M648.4,188.2L656.8,179.8"/>
<path stroke="#4188c8" d="M650.9,184.0H662.7M656.8,178.1V189.9M652.6,179.8L661.0,188.2M652.6,188.2L661.0,179.8"/>
<path stroke="#4077bc" d="M655.1,184.0H666.9M661.0,178.1V189.9M656.8,179.8L665.2,188.2M656.8,188.2L665.2,179.8"/>
<path stroke="#3f6cb4" d="M659.3,184.0H671.1M665.2,178.1V189.9M661.0,179.8L669.3,188.2M661.0,188.2L669.3,179.8"/>
<path stroke="#3f6cb4" d="M663.5,184.0H675.3M669.4,178.1V189.9M665.2,179.8L673.5,188.2M665.2,188.2L673.5,179.8"/>
<path stroke="#3d64af" d="M667.7,184.0H679.5M673.6,178.1V189.9M669.4,179.8L677.7,188.2M669.4,188.2L677.7,179.8"/>
<path stroke="#3d64af" d="M671.8,184.0H683.6M677.7,178.1V189.9M673.6,179.8L681.9,188.2M673.6,188.2L681.9,179.8"/>
<path stroke="#3c5eab" d="M676.0,184.0H687.8M681.9,178.1V189.9M677.8,179.8L686.1,188.2M677.8,188.2L686.1,179.8"/>
<path stroke="#3d64af" d="M680.2,184.0H692.0M686.1,178.1V189.9M681.9,179.8L690.3,188.2M681.9,188.2L690.3,179.8"/>
<path stroke="#3f6cb4" d="M684.4,184.0H696.2M690.3,178.1V189.9M686.1,179.8L694.5,188.2M686.1,188.2L694.5,179.8"/>
<path stroke="#3d64af" d="M688.6,184.0H700.4M694.5,178.1V189.9M690.3,179.8L698.7,188.2M690.3,188.2L698.7,179.8"/>
<path stroke="#3d64af" d="M692.8,184.0H704.6M698.7,178.1V189.9M694.5,179.8L702.9,188.2M694.5,188.2L702.9,179.8"/>
<path stroke="#3f6cb4" d="M697.0,184.0H708.8M702.9,178.1V189.9M698.7,179.8L707.1,188.2M698.7,188.2L707.1,179.8"/>
<path stroke="#3f6cb4" d="M701.2,184.0H713.0M707.1,178.1V189.9M702.9,179.8L711.2,188.2M702.9,188.2L711.2,179.8"/>
<path stroke="#4188c8" d="M705.4,184.0H717.2M711.3,178.1V189.9M707.1,179.8L715.4,188.2M707.1,188.2L715.4,179.8"/>
<path stroke="#3fa6dc" d="M709.5,184.0H721.3M715.4,178.1V189.9M711.3,179.8L719.6,188.2M711.3,188.2L719.6,179.8"/>
<path stroke="#33c4f3" d="M713.7,184.0H725.5M719.6,178.1V189.9M715.5,179.8L723.8,188.2M715.5,188.2L723.8,179.8"/>
<path stroke="#3ab5e7" d="M717.9,184.0H729.7M723.8,178.1V189.9M719.7,179.8L728.0,188.2M719.7,188.2L728.0,179.8"/>
<path stroke="#48c7ec" d="M722.1,184.0H733.9M728.0,178.1V189.9M723.8,179.8L732.2,188.2M723.8,188.2L732.2,179.8"/>
<path stroke="#48c7ec" d="M726.3,184.0H738.1M732.2,178.1V189.9M728.0,179.8L736.4,188.2M728.0,188.2L736.4,179.8"/>
<path stroke="#48c7ec" d="M730.5,184.0H742.3M736.4,178.1V189.9M732.2,179.8L740.6,188.2M732.2,188.2L740.6,179.8"/>
<path stroke="#5fc9e3" d="M734.7,184.0H746.5M740.6,178.1V189.9M736.4,179.8L744.8,188.2M736.4,188.2L744.8,179.8"/>
<path stroke="#6dcad9" d="M738.9,184.0H750.7M744.8,178.1V189.9M740.6,179.8L748.9,188.2M740.6,188.2L748.9,179.8"/>
<path stroke="#6fc9cc" d="M743.1,184.0H754.9M749.0,178.1V189.9M744.8,179.8L753.1,188.2M744.8,188.2L753.1,179.8"/>
<path stroke="#6dcad9" d="M747.3,184.0H759.1M753.2,178.1V189.9M749.0,179.8L757.3,188.2M749.0,188.2L757.3,179.8"/>
<path stroke="#71c8bf" d="M751.4,184.0H763.2M757.3,178.1V189.9M753.2,179.8L761.5,188.2M753.2,188.2L761.5,179.8"/>
<path stroke="#71c8bf" d="M755.6,184.0H767.4M761.5,178.1V189.9M757.4,179.8L765.7,188.2M757.4,188.2L765.7,179.8"/>
<path stroke="#6fc9cc" d="M759.8,184.0H771.6M765.7,178.1V189.9M761.5,179.8L769.9,188.2M761.5,188.2L769.9,179.8"/>
<path stroke="#71c8bf" d="M764.0,184.0H775.8M769.9,178.1V189.9M765.7,179.8L774.1,188.2M765.7,188.2L774.1,179.8"/>
<path stroke="#6fc9cc" d="M768.2,184.0H780.0M774.1,178.1V189.9M769.9,179.8L778.3,188.2M769.9,188.2L778.3,179.8"/>
<path stroke="#71c8bf" d="M772.4,184.0H784.2M778.3,178.1V189.9M774.1,179.8L782.5,188.2M774.1,188.2L782.5,179.8"/>
<path stroke="#74c7b2" d="M776.6,184.0H788.4M782.5,178.1V189.9M778.3,179.8L786.6,188.2M778.3,188.2L786.6,179.8"/>
<path stroke="#74c7b2" d="M780.8,184.0H792.6M786.7,178.1V189.9M782.5,179.8L790.8,188.2M782.5,188.2L790.8,179.8"/>
<path stroke="#79c7a2" d="M785.0,184.0H796.8M790.9,178.1V189.9M786.7,179.8L795.0,188.2M786.7,188.2L795.0,179.8"/>
<path stroke="#79c7a2" d="M789.1,184.0H800.9M795.0,178.1V189.9M790.9,179.8L799.2,188.2M790.9,188.2L799.2,179.8"/>
<path stroke="#74c7b2" d="M793.3,184.0H805.1M799.2,178.1V189.9M795.1,179.8L803.4,188.2M795.1,188.2L803.4,179.8"/>
<path stroke="#7fc793" d="M797.5,184.0H809.3M803.4,178.1V189.9M799.2,179.8L807.6,188.2M799.2,188.2L807.6,179.8"/>
<path stroke="#79c7a2" d="M801.7,184.0H813.5M807.6,178.1V189.9M803.4,179.8L811.8,188.2M803.4,188.2L811.8,179.8"/>
<path stroke="#7fc793" d="M805.9,184.0H817.7M811.8,178.1V189.9M807.6,179.8L816.0,188.2M807.6,188.2L816.0,179.8"/>
<path stroke="#79c7a2" d="M810.1,184.0H821.9M816.0,178.1V189.9M811.8,179.8L820.2,188.2M811.8,188.2L820.2,179.8"/>
<path stroke="#85c783" d="M814.3,184.0H826.1M820.2,178.1V189.9M816.0,179.8L824.4,188.2M816.0,188.2L824.4,179.8"/>
<path stroke="#8dc873" d="M818.5,184.0H830.3M824.4,178.1V189.9M820.2,179.8L828.5,188.2M820.2,188.2L828.5,179.8"/>
<path stroke="#7fc793" d="M822.7,184.0H834.5M828.6,178.1V189.9M824.4,179.8L832.7,188.2M824.4,188.2L832.7,179.8"/>
<path stroke="#8dc873" d="M826.8,184.0H838.6M832.7,178.1V189.9M828.6,179.8L836.9,188.2M828.6,188.2L836.9,179.8"/>
<path stroke="#85c783" d="M831.0,184.0H842.8M836.9,178.1V189.9M832.8,179.8L841.1,188.2M832.8,188.2L841.1,179.8"/>
<path stroke="#7fc793" d="M835.2,184.0H847.0M841.1,178.1V189.9M837.0,179.8L845.3,188.2M837.0,188.2L845.3,179.8"/>
<path stroke="#79c7a2" d="M839.4,184.0H851.2M845.3,178.1V189.9M841.1,179.8L849.5,188.2M841.1,188.2L849.5,179.8"/>
<path stroke="#79c7a2" d="M843.6,184.0H855.4M849.5,178.1V189.9M845.3,179.8L853.7,188.2M845.3,188.2L853.7,179.8"/>
<path stroke="#79c7a2" d="M847.8,184.0H859.6M853.7,178.1V189.9M849.5,179.8L857.9,188.2M849.5,188.2L857.9,179.8"/>
<path stroke="#7fc793" d="M852.0,184.0H863.8M857.9,178.1V189.9M853.7,179.8L862.1,188.2M853.7,188.2L862.1,179.8"/>
<path stroke="#7fc793" d="M856.2,184.0H868.0M862.1,178.1V189.9M857.9,179.8L866.2,188.2M857.9,188.2L866.2,179.8"/>
<path stroke="#85c783" d="M860.4,184.0H872.2M866.3,178.1V189.9M862.1,179.8L870.4,188.2M862.1,188.2L870.4,179.8"/>
<path stroke="#7fc793" d="M864.6,184.0H876.4M870.5,178.1V189.9M866.3,179.8L874.6,188.2M866.3,188.2L874.6,179.8"/>
<path stroke="#a5ce46" d="M102.1,213.5H113.9M108.0,207.6V219.4M103.8,209.3L112.2,217.6M103.8,217.6L112.2,209.3"/>
<path stroke="#9ccb54" d="M106.3,213.5H118.1M112.2,207.6V219.4M108.0,209.3L116.4,217.6M108.0,217.6L116.4,209.3"/>
<path stroke="#9ccb54" d="M110.5,213.5H122.3M116.4,207.6V219.4M112.2,209.3L120.6,217.6M112.2,217.6L120.6,209.3"/>
<path stroke="#9ccb54" d="M114.7,213.5H126.5M120.6,207.6V219.4M116.4,209.3L124.7,217.6M116.4,217.6L124.7,209.3"/>
<path stroke="#8dc873" d="M118.9,213.5H130.7M124.8,207.6V219.4M120.6,209.3L128.9,217.6M120.6,217.6L128.9,209.3"/>
<path stroke="#8dc873" d="M123.0,213.5H134.8M128.9,207.6V219.4M124.8,209.3L133.1,217.6M124.8,217.6L133.1,209.3"/>
<path stroke="#8dc873" d="M127.2,213.5H139.0M133.1,207.6V219.4M129.0,209.3L137.3,217.6M129.0,217.6L137.3,209.3"/>
<path stroke="#85c783" d="M131.4,213.5H143.2M137.3,207.6V219.4M133.2,209.3L141.5,217.6M133.2,217.6L141.5,209.3"/>
<path stroke="#85c783" d="M135.6,213.5H147.4M141.5,207.6V219.4M137.3,209.3L145.7,217.6M137.3,217.6L145.7,209.3"/>
<path stroke="#85c783" d="M139.8,213.5H151.6M145.7,207.6V219.4M141.5,209.3L149.9,217.6M141.5,217.6L149.9,209.3"/>
<path stroke="#79c7a2" d="M144.0,213.5H155.8M149.9,207.6V219.4M145.7,209.3L154.1,217.6M145.7,217.6L154.1,209.3"/>
<path stroke="#79c7a2" d="M148.2,213.5H160.0M154.1,207.6V219.4M149.9,209.3L158.3,217.6M149.9,217.6L158.3,209.3"/>
<path stroke="#79c7a2" d="M152.4,213.5H164.2M158.3,207.6V219.4M154.1,209.3L162.4,217.6M154.1,217.6L162.4,209.3"/>
<path stroke="#71c8bf" d="M156.6,213.5H168.4M162.5,207.6V219.4M158.3,209.3L166.6,217.6M158.3,217.6L166.6,209.3"/>
<path stroke="#74c7b2" d="M160.8,213.5H172.6M166.7,207.6V219.4M162.5,209.3L170.8,217.6M162.5,217.6L170.8,209.3"/>
<path stroke="#6fc9cc" d="M164.9,213.5H176.7M170.8,207.6V219.4M166.7,209.3L175.0,217.6M166.7,217.6L175.0,209.3"/>
<path stroke="#71c8bf" d="M169.1,213.5H180.9M175.0,207.6V219.4M170.9,209.3L179.2,217.6M170.9,217.6L179.2,209.3"/>
<path stroke="#6fc9cc" d="M173.3,213.5H185.1M179.2,207.6V219.4M175.0,209.3L183.4,217.6M175.0,217.6L183.4,209.3"/>
<path stroke="#6dcad9" d="M177.5,213.5H189.3M183.4,207.6V219.4M179.2,209.3L187.6,217.6M179.2,217.6L187.6,209.3"/>
<path stroke="#6dcad9" d="M181.7,213.5H193.5M187.6,207.6V219.4M183.4,209.3L191.8,217.6M183.4,217.6L191.8,209.3"/>
<path stroke="#6dcad9" d="M185.9,213.5H197.7M191.8,207.6V219.4M187.6,209.3L196.0,217.6M187.6,217.6L196.0,209.3"/>
<path stroke="#5fc9e3" d="M190.1,213.5H201.9M196.0,207.6V219.4M191.8,209.3L200.1,217.6M191.8,217.6L200.1,209.3"/>
<path stroke="#5fc9e3" d="M194.3,213.5H206.1M200.2,207.6V219.4M196.0,209.3L204.3,217.6M196.0,217.6L204.3,209.3"/>
<path stroke="#48c7ec" d="M198.5,213.5H210.3M204.4,207.6V219.4M200.2,209.3L208.5,217.6M200.2,217.6L208.5,209.3"/>
<path stroke="#48c7ec" d="M202.6,213.5H214.4M208.5,207.6V219.4M204.4,209.3L212.7,217.6M204.4,217.6L212.7,209.3"/>
<path stroke="#48c7ec" d="M206.8,213.5H218.6M212.7,207.6V219.4M208.6,209.3L216.9,217.6M208.6,217.6L216.9,209.3"/>
<path stroke="#5fc9e3" d="M211.0,213.5H222.8M216.9,207.6V219.4M212.7,209.3L221.1,217.6M212.7,217.6L221.1,209.3"/>
<path stroke="#33c4f3" d="M215.2,213.5H227.0M221.1,207.6V219.4M216.9,209.3L225.3,217.6M216.9,217.6L225.3,209.3"/>
<path stroke="#3ab5e7" d="M219.4,213.5H231.2M225.3,207.6V219.4M221.1,209.3L229.5,217.6M221.1,217.6L229.5,209.3"/>
<path stroke="#3fa6dc" d="M223.6,213.5H235.4M229.5,207.6V219.4M225.3,209.3L233.7,217.6M225.3,217.6L233.7,209.3"/>
<path stroke="#3fa6dc" d="M227.8,213.5H239.6M233.7,207.6V219.4M229.5,209.3L237.9,217.6M229.5,217.6L237.9,209.3"/>
<path stroke="#33c4f3" d="M232.0,213.5H243.8M237.9,207.6V219.4M233.7,209.3L242.0,217.6M233.7,217.6L242.0,209.3"/>
<path stroke="#33c4f3" d="M236.2,213.5H248.0M242.1,207.6V219.4M237.9,209.3L246.2,217.6M237.9,217.6L246.2,209.3"/>
<path stroke="#48c7ec" d="M240.3,213.5H252.1M246.2,207.6V219.4M242.1,209.3L250.4,217.6M242.1,217.6L250.4,209.3"/>
<path stroke="#5fc9e3" d="M244.5,213.5H256.3M250.4,207.6V219.4M246.3,209.3L254.6,217.6M246.3,217.6L254.6,209.3"/>
<path stroke="#5fc9e3" d="M248.7,213.5H260.5M254.6,207.6V219.4M250.5,209.3L258.8,217.6M250.5,217.6L258.8,209.3"/>
<path stroke="#5fc9e3" d="M252.9,213.5H264.7M258.8,207.6V219.4M254.6,209.3L263.0,217.6M254.6,217.6L263.0,209.3"/>
<path stroke="#48c7ec" d="M257.1,213.5H268.9M263.0,207.6V219.4M258.8,209.3L267.2,217.6M258.8,217.6L267.2,209.3"/>
<path stroke="#5fc9e3" d="M261.3,213.5H273.1M267.2,207.6V219.4M263.0,209.3L271.4,217.6M263.0,217.6L271.4,209.3"/>
<path stroke="#5fc9e3" d="M265.5,213.5H277.3M271.4,207.6V219.4M267.2,209.3L275.6,217.6M267.2,217.6L275.6,209.3"/>
<path stroke="#5fc9e3" d="M269.7,213.5H281.5M275.6,207.6V219.4M271.4,209.3L279.7,217.6M271.4,217.6L279.7,209.3"/>
<path stroke="#5fc9e3" d="M273.9,213.5H285.7M279.8,207.6V219.4M275.6,209.3L283.9,217.6M275.6,217.6L283.9,209.3"/>
<path stroke="#6fc9cc" d="M278.1,213.5H289.9M284.0,207.6V219.4M279.8,209.3L288.1,217.6M279.8,217.6L288.1,209.3"/>
<path stroke="#6dcad9" d="M282.2,213.5H294.0M288.1,207.6V219.4M284.0,209.3L292.3,217.6M284.0,217.6L292.3,209.3"/>
<path stroke="#6fc9cc" d="M286.4,213.5H298.2M292.3,207.6V219.4M288.2,209.3L296.5,217.6M288.2,217.6L296.5,209.3"/>
<path stroke="#6fc9cc" d="M290.6,213.5H302.4M296.5,207.6V219.4M292.3,209.3L300.7,217.6M292.3,217.6L300.7,209.3"/>
<path stroke="#71c8bf" d="M294.8,213.5H306.6M300.7,207.6V219.4M296.5,209.3L304.9,217.6M296.5,217.6L304.9,209.3"/>
<path stroke="#74c7b2" d="M299.0,213.5H310.8M304.9,207.6V219.4M300.7,209.3L309.1,217.6M300.7,217.6L309.1,209.3"/>
<path stroke="#79c7a2" d="M303.2,213.5H315.0M309.1,207.6V219.4M304.9,209.3L313.3,217.6M304.9,217.6L313.3,209.3"/>
<path stroke="#85c783" d="M307.4,213.5H319.2M313.3,207.6V219.4M309.1,209.3L317.4,217.6M309.1,217.6L317.4,209.3"/>
<path stroke="#94c963" d="M311.6,213.5H323.4M317.5,207.6V219.4M313.3,209.3L321.6,217.6M313.3,217.6L321.6,209.3"/>
<path stroke="#a5ce46" d="M315.8,213.5H327.6M321.7,207.6V219.4M317.5,209.3L325.8,217.6M317.5,217.6L325.8,209.3"/>
<path stroke="#bed631" d="M319.9,213.5H331.7M325.8,207.6V219.4M321.7,209.3L330.0,217.6M321.7,217.6L330.0,209.3"/>
<path stroke="#dbdf26" d="M324.1,213.5H335.9M330.0,207.6V219.4M325.9,209.3L334.2,217.6M325.9,217.6L334.2,209.3"/>
<path stroke="#efe921" d="M328.3,213.5H340.1M334.2,207.6V219.4M330.0,209.3L338.4,217.6M330.0,217.6L338.4,209.3"/>
<path stroke="#fdd907" d="M332.5,213.5H344.3M338.4,207.6V219.4M334.2,209.3L342.6,217.6M334.2,217.6L342.6,209.3"/>
<path stroke="#fec809" d="M336.7,213.5H348.5M342.6,207.6V219.4M338.4,209.3L346.8,217.6M338.4,217.6L346.8,209.3"/>
<path stroke="#fbaa17" d="M340.9,213.5H352.7M346.8,207.6V219.4M342.6,209.3L351.0,217.6M342.6,217.6L351.0,209.3"/>
<path stroke="#f7921d" d="M345.1,213.5H356.9M351.0,207.6V219.4M346.8,209.3L355.2,217.6M346.8,217.6L355.2,209.3"/>
<path stroke="#f7921d" d="M349.3,213.5H361.1M355.2,207.6V219.4M351.0,209.3L359.3,217.6M351.0,217.6L359.3,209.3"/>
<path stroke="#f47420" d="M353.5,213.5H365.3M359.4,207.6V219.4M355.2,209.3L363.5,217.6M355.2,217.6L363.5,209.3"/>
<path stroke="#f26622" d="M357.6,213.5H369.4M363.5,207.6V219.4M359.4,209.3L367.7,217.6M359.4,217.6L367.7,209.3"/>
<path stroke="#f15723" d="M361.8,213.5H373.6M367.7,207.6V219.4M363.6,209.3L371.9,217.6M363.6,217.6L371.9,209.3"/>
<path stroke="#f04823" d="M366.0,213.5H377.8M371.9,207.6V219.4M367.8,209.3L376.1,217.6M367.8,217.6L376.1,209.3"/>
<path stroke="#ee3924" d="M370.2,213.5H382.0M376.1,207.6V219.4M371.9,209.3L380.3,217.6M371.9,217.6L380.3,209.3"/>
<path stroke="#ee2f24" d="M374.4,213.5H386.2M380.3,207.6V219.4M376.1,209.3L384.5,217.6M376.1,217.6L384.5,209.3"/>
<path stroke="#ed2724" d="M378.6,213.5H390.4M384.5,207.6V219.4M380.3,209.3L388.7,217.6M380.3,217.6L388.7,209.3"/>
<path stroke="#ed2724" d="M382.8,213.5H394.6M388.7,207.6V219.4M384.5,209.3L392.9,217.6M384.5,217.6L392.9,209.3"/>
<path stroke="#ed2724" d="M387.0,213.5H398.8M392.9,207.6V219.4M388.7,209.3L397.0,217.6M388.7,217.6L397.0,209.3"/>
<path stroke="#ed2724" d="M391.2,213.5H403.0M397.1,207.6V219.4M392.9,209.3L401.2,217.6M392.9,217.6L401.2,209.3"/>
<path stroke="#ed2724" d="M395.4,213.5H407.2M401.3,207.6V219.4M397.1,209.3L405.4,217.6M397.1,217.6L405.4,209.3"/>
<path stroke="#ed2724" d="M399.5,213.5H411.3M405.4,207.6V219.4M401.3,209.3L409.6,217.6M401.3,217.6L409.6,209.3"/>
<path stroke="#ed2724" d="M403.7,213.5H415.5M409.6,207.6V219.4M405.5,209.3L413.8,217.6M405.5,217.6L413.8,209.3"/>
<path stroke="#ed1f24" d="M407.9,213.5H419.7M413.8,207.6V219.4M409.6,209.3L418.0,217.6M409.6,217.6L418.0,209.3"/>
<path stroke="#ed2724" d="M412.1,213.5H423.9M418.0,207.6V219.4M413.8,209.3L422.2,217.6M413.8,217.6L422.2,209.3"/>
<path stroke="#ed2724" d="M416.3,213.5H428.1M422.2,207.6V219.4M418.0,209.3L426.4,217.6M418.0,217.6L426.4,209.3"/>
<path stroke="#ed2724" d="M420.5,213.5H432.3M426.4,207.6V219.4M422.2,209.3L430.6,217.6M422.2,217.6L430.6,209.3"/>
<path stroke="#ed1f24" d="M424.7,213.5H436.5M430.6,207.6V219.4M426.4,209.3L434.7,217.6M426.4,217.6L434.7,209.3"/>
<path stroke="#ed1f24" d="M428.9,213.5H440.7M434.8,207.6V219.4M430.6,209.3L438.9,217.6M430.6,217.6L438.9,209.3"/>
<path stroke="#ed1f24" d="M433.1,213.5H444.9M439.0,207.6V219.4M434.8,209.3L443.1,217.6M434.8,217.6L443.1,209.3"/>
<path stroke="#ed1f24" d="M437.2,213.5H449.0M443.1,207.6V219.4M439.0,209.3L447.3,217.6M439.0,217.6L447.3,209.3"/>
<path stroke="#e61d24" d="M441.4,213.5H453.2M447.3,207.6V219.4M443.2,209.3L451.5,217.6M443.2,217.6L451.5,209.3"/>
<path stroke="#e61d24" d="M445.6,213.5H457.4M451.5,207.6V219.4M447.3,209.3L455.7,217.6M447.3,217.6L455.7,209.3"/>
<path stroke="#ed1f24" d="M449.8,213.5H461.6M455.7,207.6V219.4M451.5,209.3L459.9,217.6M451.5,217.6L459.9,209.3"/>
<path stroke="#ed2724" d="M454.0,213.5H465.8M459.9,207.6V219.4M455.7,209.3L464.1,217.6M455.7,217.6L464.1,209.3"/>
<path stroke="#ed1f24" d="M458.2,213.5H470.0M464.1,207.6V219.4M459.9,209.3L468.3,217.6M459.9,217.6L468.3,209.3"/>
<path stroke="#ed2724" d="M462.4,213.5H474.2M468.3,207.6V219.4M464.1,209.3L472.5,217.6M464.1,217.6L472.5,209.3"/>
<path stroke="#ee2f24" d="M466.6,213.5H478.4M472.5,207.6V219.4M468.3,209.3L476.6,217.6M468.3,217.6L476.6,209.3"/>
<path stroke="#ee2f24" d="M470.8,213.5H482.6M476.7,207.6V219.4M472.5,209.3L480.8,217.6M472.5,217.6L480.8,209.3"/>
<path stroke="#ee3924" d="M474.9,213.5H486.7M480.8,207.6V219.4M476.7,209.3L485.0,217.6M476.7,217.6L485.0,209.3"/>
<path stroke="#f04823" d="M479.1,213.5H490.9M485.0,207.6V219.4M480.9,209.3L489.2,217.6M480.9,217.6L489.2,209.3"/>
<path stroke="#f04823" d="M483.3,213.5H495.1M489.2,207.6V219.4M485.1,209.3L493.4,217.6M485.1,217.6L493.4,209.3"/>
<path stroke="#f26622" d="M487.5,213.5H499.3M493.4,207.6V219.4M489.2,209.3L497.6,217.6M489.2,217.6L497.6,209.3"/>
<path stroke="#f26622" d="M491.7,213.5H503.5M497.6,207.6V219.4M493.4,209.3L501.8,217.6M493.4,217.6L501.8,209.3"/>
<path stroke="#f47420" d="M495.9,213.5H507.7M501.8,207.6V219.4M497.6,209.3L506.0,217.6M497.6,217.6L506.0,209.3"/>
<path stroke="#f47420" d="M500.1,213.5H511.9M506.0,207.6V219.4M501.8,209.3L510.2,217.6M501.8,217.6L510.2,209.3"/>
<path stroke="#f7921d" d="M504.3,213.5H516.1M510.2,207.6V219.4M506.0,209.3L514.3,217.6M506.0,217.6L514.3,209.3"/>
<path stroke="#f7921d" d="M508.5,213.5H520.3M514.4,207.6V219.4M510.2,209.3L518.5,217.6M510.2,217.6L518.5,209.3"/>
<path stroke="#f99e1a" d="M512.7,213.5H524.5M518.6,207.6V219.4M514.4,209.3L522.7,217.6M514.4,217.6L522.7,209.3"/>
<path stroke="#fbaa17" d="M516.8,213.5H528.6M522.7,207.6V219.4M518.6,209.3L526.9,217.6M518.6,217.6L526.9,209.3"/>
<path stroke="#fbaa17" d="M521.0,213.5H532.8M526.9,207.6V219.4M522.8,209.3L531.1,217.6M522.8,217.6L531.1,209.3"/>
<path stroke="#fcb514" d="M525.2,213.5H537.0M531.1,207.6V219.4M526.9,209.3L535.3,217.6M526.9,217.6L535.3,209.3"/>
<path stroke="#fdd907" d="M529.4,213.5H541.2M535.3,207.6V219.4M531.1,209.3L539.5,217.6M531.1,217.6L539.5,209.3"/>
<path stroke="#f7e618" d="M533.6,213.5H545.4M539.5,207.6V219.4M535.3,209.3L543.7,217.6M535.3,217.6L543.7,209.3"/>
<path stroke="#efe921" d="M537.8,213.5H549.6M543.7,207.6V219.4M539.5,209.3L547.9,217.6M539.5,217.6L547.9,209.3"/>
<path stroke="#e5e424" d="M542.0,213.5H553.8M547.9,207.6V219.4M543.7,209.3L552.0,217.6M543.7,217.6L552.0,209.3"/>
<path stroke="#dbdf26" d="M546.2,213.5H558.0M552.1,207.6V219.4M547.9,209.3L556.2,217.6M547.9,217.6L556.2,209.3"/>
<path stroke="#bed631" d="M550.4,213.5H562.2M556.3,207.6V219.4M552.1,209.3L560.4,217.6M552.1,217.6L560.4,209.3"/>
<path stroke="#b0d13a" d="M554.5,213.5H566.3M560.4,207.6V219.4M556.3,209.3L564.6,217.6M556.3,217.6L564.6,209.3"/>
<path stroke="#b0d13a" d="M558.7,213.5H570.5M564.6,207.6V219.4M560.5,209.3L568.8,217.6M560.5,217.6L568.8,209.3"/>
<path stroke="#b0d13a" d="M562.9,213.5H574.7M568.8,207.6V219.4M564.6,209.3L573.0,217.6M564.6,217.6L573.0,209.3"/>
<path stroke="#a5ce46" d="M567.1,213.5H578.9M573.0,207.6V219.4M568.8,209.3L577.2,217.6M568.8,217.6L577.2,209.3"/>
<path stroke="#a5ce46" d="M571.3,213.5H583.1M577.2,207.6V219.4M573.0,209.3L581.4,217.6M573.0,217.6L581.4,209.3"/>
<path stroke="#a5ce46" d="M575.5,213.5H587.3M581.4,207.6V219.4M577.2,209.3L585.6,217.6M577.2,217.6L585.6,209.3"/>
<path stroke="#9ccb54" d="M579.7,213.5H591.5M585.6,207.6V219.4M581.4,209.3L589.8,217.6M581.4,217.6L589.8,209.3"/>
<path stroke="#94c963" d="M583.9,213.5H595.7M589.8,207.6V219.4M585.6,209.3L593.9,217.6M585.6,217.6L593.9,209.3"/>
<path stroke="#85c783" d="M588.1,213.5H599.9M594.0,207.6V219.4M589.8,209.3L598.1,217.6M589.8,217.6L598.1,209.3"/>
<path stroke="#85c783" d="M592.2,213.5H604.0M598.1,207.6V219.4M594.0,209.3L602.3,217.6M594.0,217.6L602.3,209.3"/>
<path stroke="#85c783" d="M596.4,213.5H608.2M602.3,207.6V219.4M598.2,209.3L606.5,217.6M598.2,217.6L606.5,209.3"/>
<path stroke="#79c7a2" d="M600.6,213.5H612.4M606.5,207.6V219.4M602.4,209.3L610.7,217.6M602.4,217.6L610.7,209.3"/>
<path stroke="#79c7a2" d="M604.8,213.5H616.6M610.7,207.6V219.4M606.5,209.3L614.9,217.6M606.5,217.6L614.9,209.3"/>
<path stroke="#79c7a2" d="M609.0,213.5H620.8M614.9,207.6V219.4M610.7,209.3L619.1,217.6M610.7,217.6L619.1,209.3"/>
<path stroke="#71c8bf" d="M613.2,213.5H625.0M619.1,207.6V219.4M614.9,209.3L623.3,217.6M614.9,217.6L623.3,209.3"/>
<path stroke="#71c8bf" d="M617.4,213.5H629.2M623.3,207.6V219.4M619.1,209.3L627.5,217.6M619.1,217.6L627.5,209.3"/>
<path stroke="#5fc9e3" d="M621.6,213.5H633.4M627.5,207.6V219.4M623.3,209.3L631.6,217.6M623.3,217.6L631.6,209.3"/>
<path stroke="#48c7ec" d="M625.8,213.5H637.6M631.7,207.6V219.4M627.5,209.3L635.8,217.6M627.5,217.6L635.8,209.3"/>
<path stroke="#5fc9e3" d="M630.0,213.5H641.8M635.9,207.6V219.4M631.7,209.3L640.0,217.6M631.7,217.6L640.0,209.3"/>
<path stroke="#33c4f3" d="M634.1,213.5H645.9M640.0,207.6V219.4M635.9,209.3L644.2,217.6M635.9,217.6L644.2,209.3"/>
<path stroke="#33c4f3" d="M638.3,213.5H650.1M644.2,207.6V219.4M640.1,209.3L648.4,217.6M640.1,217.6L648.4,209.3"/>
<path stroke="#33c4f3" d="M642.5,213.5H654.3M648.4,207.6V219.4M644.2,209.3L652.6,217.6M644.2,217.6L652.6,209.3"/>
<path stroke="#3ab5e7" d="M646.7,213.5H658.5M652.6,207.6V219.4M648.4,209.3L656.8,217.6M648.4,217.6L656.8,209.3"/>
<path stroke="#4197d3" d="M650.9,213.5H662.7M656.8,207.6V219.4M652.6,209.3L661.0,217.6M652.6,217.6L661.0,209.3"/>
<path stroke="#4188c8" d="M655.1,213.5H666.9M661.0,207.6V219.4M656.8,209.3L665.2,217.6M656.8,217.6L665.2,209.3"/>
<path stroke="#4077bc" d="M659.3,213.5H671.1M665.2,207.6V219.4M661.0,209.3L669.3,217.6M661.0,217.6L669.3,209.3"/>
<path stroke="#3f6cb4" d="M663.5,213.5H675.3M669.4,207.6V219.4M665.2,209.3L673.5,217.6M665.2,217.6L673.5,209.3"/>
<path stroke="#3d64af" d="M667.7,213.5H679.5M673.6,207.6V219.4M669.4,209.3L677.7,217.6M669.4,217.6L677.7,209.3"/>
<path stroke="#3c5eab" d="M671.8,213.5H683.6M677.7,207.6V219.4M673.6,209.3L681.9,217.6M673.6,217.6L681.9,209.3"/>
<path stroke="#3c5eab" d="M676.0,213.5H687.8M681.9,207.6V219.4M677.8,209.3L686.1,217.6M677.8,217.6L686.1,209.3"/>
<path stroke="#3b5aa8" d="M680.2,213.5H692.0M686.1,207.6V219.4M681.9,209.3L690.3,217.6M681.9,217.6L690.3,209.3"/>
<path stroke="#3c5eab" d="M684.4,213.5H696.2M690.3,207.6V219.4M686.1,209.3L694.5,217.6M686.1,217.6L694.5,209.3"/>
<path stroke="#3c5eab" d="M688.6,213.5H700.4M694.5,207.6V219.4M690.3,209.3L698.7,217.6M690.3,217.6L698.7,209.3"/>
<path stroke="#3f6cb4" d="M692.8,213.5H704.6M698.7,207.6V219.4M694.5,209.3L702.9,217.6M694.5,217.6L702.9,209.3"/>
<path stroke="#3f6cb4" d="M697.0,213.5H708.8M702.9,207.6V219.4M698.7,209.3L707.1,217.6M698.7,217.6L707.1,209.3"/>
<path stroke="#4077bc" d="M701.2,213.5H713.0M707.1,207.6V219.4M702.9,209.3L711.2,217.6M702.9,217.6L711.2,209.3"/>
<path stroke="#4197d3" d="M705.4,213.5H717.2M711.3,207.6V219.4M707.1,209.3L715.4,217.6M707.1,217.6L715.4,209.3"/>
<path stroke="#4197d3" d="M709.5,213.5H721.3M715.4,207.6V219.4M711.3,209.3L719.6,217.6M711.3,217.6L719.6,209.3"/>
<path stroke="#3ab5e7" d="M713.7,213.5H725.5M719.6,207.6V219.4M715.5,209.3L723.8,217.6M715.5,217.6L723.8,209.3"/>
<path stroke="#33c4f3" d="M717.9,213.5H729.7M723.8,207.6V219.4M719.7,209.3L728.0,217.6M719.7,217.6L728.0,209.3"/>
<path stroke="#33c4f3" d="M722.1,213.5H733.9M728.0,207.6V219.4M723.8,209.3L732.2,217.6M723.8,217.6L732.2,209.3"/>
<path stroke="#33c4f3" d="M726.3,213.5H738.1M732.2,207.6V219.4M728.0,209.3L736.4,217.6M728.0,217.6L736.4,209.3"/>
<path stroke="#33c4f3" d="M730.5,213.5H742.3M736.4,207.6V219.4M732.2,209.3L740.6,217.6M732.2,217.6L740.6,209.3"/>
<path stroke="#48c7ec" d="M734.7,213.5H746.5M740.6,207.6V219.4M736.4,209.3L744.8,217.6M736.4,217.6L744.8,209.3"/>
<path stroke="#5fc9e3" d="M738.9,213.5H750.7M744.8,207.6V219.4M740.6,209.3L748.9,217.6M740.6,217.6L748.9,209.3"/>
<path stroke="#6dcad9" d="M743.1,213.5H754.9M749.0,207.6V219.4M744.8,209.3L753.1,217.6M744.8,217.6L753.1,209.3"/>
<path stroke="#6fc9cc" d="M747.3,213.5H759.1M753.2,207.6V219.4M749.0,209.3L757.3,217.6M749.0,217.6L757.3,209.3"/>
<path stroke="#6fc9cc" d="M751.4,213.5H763.2M757.3,207.6V219.4M753.2,209.3L761.5,217.6M753.2,217.6L761.5,209.3"/>
<path stroke="#74c7b2" d="M755.6,213.5H767.4M761.5,207.6V219.4M757.4,209.3L765.7,217.6M757.4,217.6L765.7,209.3"/>
<path stroke="#74c7b2" d="M759.8,213.5H771.6M765.7,207.6V219.4M761.5,209.3L769.9,217.6M761.5,217.6L769.9,209.3"/>
<path stroke="#71c8bf" d="M764.0,213.5H775.8M769.9,207.6V219.4M765.7,209.3L774.1,217.6M765.7,217.6L774.1,209.3"/>
<path stroke="#74c7b2" d="M768.2,213.5H780.0M774.1,207.6V219.4M769.9,209.3L778.3,217.6M769.9,217.6L778.3,209.3"/>
<path stroke="#71c8bf" d="M772.4,213.5H784.2M778.3,207.6V219.4M774.1,209.3L782.5,217.6M774.1,217.6L782.5,209.3"/>
<path stroke="#71c8bf" d="M776.6,213.5H788.4M782.5,207.6V219.4M778.3,209.3L786.6,217.6M778.3,217.6L786.6,209.3"/>
<path stroke="#74c7b2" d="M780.8,213.5H792.6M786.7,207.6V219.4M782.5,209.3L790.8,217.6M782.5,217.6L790.8,209.3"/>
<path stroke="#79c7a2" d="M785.0,213.5H796.8M790.9,207.6V219.4M786.7,209.3L795.0,217.6M786.7,217.6L795.0,209.3"/>
<path stroke="#7fc793" d="M789.1,213.5H800.9M795.0,207.6V219.4M790.9,209.3L799.2,217.6M790.9,217.6L799.2,209.3"/>
<path stroke="#85c783" d="M793.3,213.5H805.1M799.2,207.6V219.4M795.1,209.3L803.4,217.6M795.1,217.6L803.4,209.3"/>
<path stroke="#79c7a2" d="M797.5,213.5H809.3M803.4,207.6V219.4M799.2,209.3L807.6,217.6M799.2,217.6L807.6,209.3"/>
<path stroke="#7fc793" d="M801.7,213.5H813.5M807.6,207.6V219.4M803.4,209.3L811.8,217.6M803.4,217.6L811.8,209.3"/>
<path stroke="#7fc793" d="M805.9,213.5H817.7M811.8,207.6V219.4M807.6,209.3L816.0,217.6M807.6,217.6L816.0,209.3"/>
<path stroke="#79c7a2" d="M810.1,213.5H821.9M816.0,207.6V219.4M811.8,209.3L820.2,217.6M811.8,217.6L820.2,209.3"/>
<path stroke="#79c7a2" d="M814.3,213.5H826.1M820.2,207.6V219.4M816.0,209.3L824.4,217.6M816.0,217.6L824.4,209.3"/>
<path stroke="#79c7a2" d="M818.5,213.5H830.3M824.4,207.6V219.4M820.2,209.3L828.5,217.6M820.2,217.6L828.5,209.3"/>
<path stroke="#85c783" d="M822.7,213.5H834.5M828.6,207.6V219.4M824.4,209.3L832.7,217.6M824.4,217.6L832.7,209.3"/>
<path stroke="#85c783" d="M826.8,213.5H838.6M832.7,207.6V219.4M828.6,209.3L836.9,217.6M828.6,217.6L836.9,209.3"/>
<path stroke="#85c783" d="M831.0,213.5H842.8M836.9,207.6V219.4M832.8,209.3L841.1,217.6M832.8,217.6L841.1,209.3"/>
<path stroke="#85c783" d="M835.2,213.5H847.0M841.1,207.6V219.4M837.0,209.3L845.3,217.6M837.0,217.6L845.3,209.3"/>
<path stroke="#7fc793" d="M839.4,213.5H851.2M845.3,207.6V219.4M841.1,209.3L849.5,217.6M841.1,217.6L849.5,209.3"/>
<path stroke="#7fc793" d="M843.6,213.5H855.4M849.5,207.6V219.4M845.3,209.3L853.7,217.6M845.3,217.6L853.7,209.3"/>
<path stroke="#7fc793" d="M847.8,213.5H859.6M853.7,207.6V219.4M849.5,209.3L857.9,217.6M849.5,217.6L857.9,209.3"/>
<path stroke="#7fc793" d="M852.0,213.5H863.8M857.9,207.6V219.4M853.7,209.3L862.1,217.6M853.7,217.6L862.1,209.3"/>
<path stroke="#7fc793" d="M856.2,213.5H868.0M862.1,207.6V219.4M857.9,209.3L866.2,217.6M857.9,217.6L866.2,209.3"/>
<path stroke="#79c7a2" d="M860.4,213.5H872.2M866.3,207.6V219.4M862.1,209.3L870.4,217.6M862.1,217.6L870.4,209.3"/>
<path stroke="#79c7a2" d="M864.6,213.5H876.4M870.5,207.6V219.4M866.3,209.3L874.6,217.6M866.3,217.6L874.6,209.3"/>
</g>
<path d="M108.00,31.00H874.75V251.50" fill="none" stroke="#48484a" stroke-width="1.9" stroke-linecap="square"/>
<path d="M108.0,95.00 L108.8,95.18 L109.5,95.36 L110.2,95.54 L111.0,95.72 L111.8,95.90 L112.5,96.08 L113.2,96.26 L114.0,96.44 L114.8,96.62 L115.5,96.79 L116.2,96.97 L117.0,97.15 L117.8,97.32 L118.5,97.50 L119.2,97.67 L120.0,97.85 L120.8,98.02 L121.5,98.20 L122.2,98.37 L123.0,98.54 L123.8,98.71 L124.5,98.89 L125.2,99.06 L126.0,99.23 L126.8,99.40 L127.5,99.57 L128.2,99.74 L129.0,99.91 L129.8,100.08 L130.5,100.25 L131.2,100.41 L132.0,100.58 L132.8,100.75 L133.5,100.92 L134.2,101.09 L135.0,101.25 L135.8,101.42 L136.5,101.59 L137.2,101.75 L138.0,101.92 L138.8,102.08 L139.5,102.25 L140.2,102.41 L141.0,102.57 L141.8,102.74 L142.5,102.90 L143.2,103.06 L144.0,103.22 L144.8,103.39 L145.5,103.55 L146.2,103.71 L147.0,103.87 L147.8,104.03 L148.5,104.18 L149.2,104.34 L150.0,104.50 L150.8,104.66 L151.5,104.81 L152.2,104.97 L153.0,105.13 L153.8,105.29 L154.5,105.44 L155.2,105.60 L156.0,105.76 L156.8,105.91 L157.5,106.07 L158.2,106.23 L159.0,106.38 L159.8,106.54 L160.5,106.69 L161.2,106.84 L162.0,107.00 L162.8,107.15 L163.5,107.30 L164.2,107.45 L165.0,107.60 L165.8,107.75 L166.5,107.90 L167.2,108.05 L168.0,108.19 L168.8,108.34 L169.5,108.48 L170.2,108.63 L171.0,108.77 L171.8,108.91 L172.5,109.05 L173.2,109.18 L174.0,109.32 L174.8,109.46 L175.5,109.59 L176.2,109.72 L177.0,109.85 L177.8,109.98 L178.5,110.11 L179.2,110.24 L180.0,110.37 L180.8,110.49 L181.5,110.62 L182.2,110.74 L183.0,110.86 L183.8,110.99 L184.5,111.11 L185.2,111.23 L186.0,111.35 L186.8,111.47 L187.5,111.59 L188.2,111.71 L189.0,111.82 L189.8,111.94 L190.5,112.06 L191.2,112.17 L192.0,112.29 L192.8,112.41 L193.5,112.52 L194.2,112.63 L195.0,112.75 L195.8,112.86 L196.5,112.98 L197.2,113.09 L198.0,113.20 L198.8,113.31 L199.5,113.43 L200.2,113.54 L201.0,113.65 L201.8,113.76 L202.5,113.87 L203.2,113.98 L204.0,114.09 L204.8,114.20 L205.5,114.31 L206.2,114.42 L207.0,114.53 L207.8,114.63 L208.5,114.74 L209.2,114.85 L210.0,114.96 L210.8,115.06 L211.5,115.17 L212.2,115.27 L213.0,115.38 L213.8,115.48 L214.5,115.59 L215.2,115.69 L216.0,115.79 L216.8,115.90 L217.5,116.00 L218.2,116.10 L219.0,116.20 L219.8,116.30 L220.5,116.40 L221.2,116.50 L222.0,116.60 L222.8,116.70 L223.5,116.80 L224.2,116.90 L225.0,117.00 L225.8,117.10 L226.5,117.19 L227.2,117.29 L228.0,117.39 L228.8,117.48 L229.5,117.58 L230.2,117.67 L231.0,117.76 L231.8,117.85 L232.5,117.95 L233.2,118.04 L234.0,118.13 L234.8,118.22 L235.5,118.31 L236.2,118.40 L237.0,118.50 L237.8,118.60 L238.5,118.70 L239.2,118.80 L240.0,118.89 L240.8,118.99 L241.5,119.09 L242.2,119.19 L243.0,119.28 L243.8,119.38 L244.5,119.47 L245.2,119.55 L246.0,119.64 L246.8,119.72 L247.5,119.79 L248.2,119.86 L249.0,119.92 L249.8,119.98 L250.5,120.04 L251.2,120.09 L252.0,120.14 L252.8,120.19 L253.5,120.25 L254.2,120.30 L255.0,120.35 L255.8,120.40 L256.5,120.45 L257.2,120.49 L258.0,120.53 L258.8,120.57 L259.5,120.61 L260.2,120.64 L261.0,120.67 L261.8,120.70 L262.5,120.72 L263.2,120.73 L264.0,120.74 L264.8,120.75 L265.5,120.75 L266.2,120.74 L267.0,120.74 L267.8,120.72 L268.5,120.71 L269.2,120.69 L270.0,120.67 L270.8,120.65 L271.5,120.63 L272.2,120.60 L273.0,120.57 L273.8,120.55 L274.5,120.52 L275.2,120.49 L276.0,120.46 L276.8,120.42 L277.5,120.38 L278.2,120.33 L279.0,120.28 L279.8,120.22 L280.5,120.16 L281.2,120.10 L282.0,120.03 L282.8,119.96 L283.5,119.89 L284.2,119.82 L285.0,119.75 L285.8,119.67 L286.5,119.60 L287.2,119.52 L288.0,119.45 L288.8,119.37 L289.5,119.30 L290.2,119.23 L291.0,119.15 L291.8,119.08 L292.5,119.00 L293.2,118.92 L294.0,118.85 L294.8,118.77 L295.5,118.68 L296.2,118.60 L297.0,118.52 L297.8,118.43 L298.5,118.34 L299.2,118.25 L300.0,118.16 L300.8,118.07 L301.5,117.97 L302.2,117.88 L303.0,117.78 L303.8,117.67 L304.5,117.57 L305.2,117.46 L306.0,117.36 L306.8,117.24 L307.5,117.13 L308.2,117.01 L309.0,116.89 L309.8,116.77 L310.5,116.64 L311.2,116.51 L312.0,116.38 L312.8,116.24 L313.5,116.09 L314.2,115.95 L315.0,115.79 L315.8,115.64 L316.5,115.47 L317.2,115.31 L318.0,115.13 L318.8,114.94 L319.5,114.73 L320.2,114.50 L321.0,114.27 L321.8,114.03 L322.5,113.79 L323.2,113.55 L324.0,113.31 L324.8,113.08 L325.5,112.85 L326.2,112.62 L327.0,112.39 L327.8,112.16 L328.5,111.93 L329.2,111.70 L330.0,111.47 L330.8,111.24 L331.5,111.01 L332.2,110.79 L333.0,110.57 L333.8,110.35 L334.5,110.14 L335.2,109.93 L336.0,109.72 L336.8,109.51 L337.5,109.30 L338.2,109.09 L339.0,108.88 L339.8,108.67 L340.5,108.47 L341.2,108.28 L342.0,108.10 L342.8,107.93 L343.5,107.77 L344.2,107.63 L345.0,107.50 L345.8,107.38 L346.5,107.27 L347.2,107.17 L348.0,107.07 L348.8,106.99 L349.5,106.93 L350.2,106.89 L351.0,106.86 L351.8,106.83 L352.5,106.81 L353.2,106.79 L354.0,106.77 L354.8,106.75 L355.5,106.72 L356.2,106.69 L357.0,106.64 L357.8,106.57 L358.5,106.50 L359.2,106.42 L360.0,106.32 L360.8,106.22 L361.5,106.11 L362.2,106.00 L363.0,105.88 L363.8,105.75 L364.5,105.61 L365.2,105.44 L366.0,105.26 L366.8,105.05 L367.5,104.84 L368.2,104.61 L369.0,104.37 L369.8,104.13 L370.5,103.88 L371.2,103.64 L372.0,103.40 L372.8,103.17 L373.5,102.94 L374.2,102.71 L375.0,102.48 L375.8,102.24 L376.5,102.00 L377.2,101.76 L378.0,101.51 L378.8,101.27 L379.5,101.02 L380.2,100.77 L381.0,100.52 L381.8,100.27 L382.5,100.02 L383.2,99.76 L384.0,99.51 L384.8,99.26 L385.5,99.01 L386.2,98.75 L387.0,98.50 L387.8,98.25 L388.5,98.00 L389.2,97.75 L390.0,97.50 L390.8,97.25 L391.5,97.00 L392.2,96.75 L393.0,96.51 L393.8,96.26 L394.5,96.01 L395.2,95.76 L396.0,95.51 L396.8,95.26 L397.5,95.01 L398.2,94.76 L399.0,94.51 L399.8,94.26 L400.5,94.01 L401.2,93.76 L402.0,93.50 L402.8,93.25 L403.5,93.00 L404.2,92.75 L405.0,92.50 L405.8,92.25 L406.5,92.00 L407.2,91.74 L408.0,91.49 L408.8,91.24 L409.5,90.98 L410.2,90.73 L411.0,90.47 L411.8,90.22 L412.5,89.96 L413.2,89.71 L414.0,89.45 L414.8,89.20 L415.5,88.94 L416.2,88.69 L417.0,88.44 L417.8,88.18 L418.5,87.93 L419.2,87.67 L420.0,87.42 L420.8,87.17 L421.5,86.92 L422.2,86.67 L423.0,86.42 L423.8,86.17 L424.5,85.92 L425.2,85.67 L426.0,85.42 L426.8,85.17 L427.5,84.92 L428.2,84.68 L429.0,84.43 L429.8,84.18 L430.5,83.94 L431.2,83.69 L432.0,83.45 L432.8,83.20 L433.5,82.96 L434.2,82.71 L435.0,82.47 L435.8,82.23 L436.5,81.98 L437.2,81.74 L438.0,81.50 L438.8,81.25 L439.5,81.01 L440.2,80.77 L441.0,80.53 L441.8,80.29 L442.5,80.05 L443.2,79.81 L444.0,79.57 L444.8,79.33 L445.5,79.09 L446.2,78.85 L447.0,78.61 L447.8,78.37 L448.5,78.13 L449.2,77.89 L450.0,77.65 L450.8,77.40 L451.5,77.16 L452.2,76.92 L453.0,76.68 L453.8,76.44 L454.5,76.20 L455.2,75.97 L456.0,75.73 L456.8,75.49 L457.5,75.26 L458.2,75.02 L459.0,74.79 L459.8,74.56 L460.5,74.33 L461.2,74.10 L462.0,73.88 L462.8,73.66 L463.5,73.43 L464.2,73.22 L465.0,73.00 L465.8,72.79 L466.5,72.57 L467.2,72.36 L468.0,72.15 L468.8,71.94 L469.5,71.73 L470.2,71.53 L471.0,71.32 L471.8,71.12 L472.5,70.92 L473.2,70.72 L474.0,70.52 L474.8,70.32 L475.5,70.13 L476.2,69.94 L477.0,69.74 L477.8,69.56 L478.5,69.37 L479.2,69.18 L480.0,69.00 L480.8,68.82 L481.5,68.64 L482.2,68.46 L483.0,68.29 L483.8,68.11 L484.5,67.94 L485.2,67.77 L486.0,67.60 L486.8,67.44 L487.5,67.27 L488.2,67.11 L489.0,66.96 L489.8,66.80 L490.5,66.65 L491.2,66.50 L492.0,66.34 L492.8,66.19 L493.5,66.04 L494.2,65.90 L495.0,65.75 L495.8,65.60 L496.5,65.46 L497.2,65.32 L498.0,65.18 L498.8,65.04 L499.5,64.90 L500.2,64.77 L501.0,64.64 L501.8,64.51 L502.5,64.39 L503.2,64.27 L504.0,64.15 L504.8,64.04 L505.5,63.93 L506.2,63.82 L507.0,63.70 L507.8,63.60 L508.5,63.49 L509.2,63.38 L510.0,63.28 L510.8,63.18 L511.5,63.09 L512.2,63.00 L513.0,62.92 L513.8,62.85 L514.5,62.79 L515.2,62.73 L516.0,62.68 L516.8,62.64 L517.5,62.60 L518.2,62.56 L519.0,62.53 L519.8,62.49 L520.5,62.46 L521.2,62.43 L522.0,62.40 L522.8,62.36 L523.5,62.33 L524.2,62.29 L525.0,62.25 L525.8,62.21 L526.5,62.17 L527.2,62.13 L528.0,62.09 L528.8,62.05 L529.5,62.01 L530.2,61.96 L531.0,61.90 L531.8,61.83 L532.5,61.75 L533.2,61.62 L534.0,61.42 L534.8,61.17 L535.5,60.87 L536.2,60.55 L537.0,60.22 L537.8,59.90 L538.5,59.56 L539.2,59.30 L540.0,59.08 L540.8,58.88 L541.5,58.64 L542.2,58.32 L543.0,57.88 L543.8,57.35 L544.5,56.83 L545.2,56.46 L546.0,56.34 L546.8,56.55 L547.5,57.08 L548.2,57.84 L549.0,58.60 L549.8,59.14 L550.5,59.34 L551.2,59.17 L552.0,58.70 L552.8,58.11 L553.5,57.60 L554.2,57.36 L555.0,57.45 L555.8,57.87 L556.5,58.48 L557.2,59.11 L558.0,59.55 L558.8,59.68 L559.5,59.45 L560.2,58.95 L561.0,58.34 L561.8,57.82 L562.5,57.58 L563.2,57.70 L564.0,58.16 L564.8,58.81 L565.5,59.44 L566.2,59.84 L567.0,59.88 L567.8,59.55 L568.5,58.98 L569.2,58.37 L570.0,57.96 L570.8,57.90 L571.5,58.23 L572.2,58.84 L573.0,59.52 L573.8,60.03 L574.5,60.19 L575.2,59.95 L576.0,59.41 L576.8,58.79 L577.5,58.34 L578.2,58.25 L579.0,58.58 L579.8,59.21 L580.5,59.91 L581.2,60.42 L582.0,60.55 L582.8,60.25 L583.5,59.67 L584.2,59.08 L585.0,58.73 L585.8,58.80 L586.5,59.30 L587.2,60.02 L588.0,60.70 L588.8,61.05 L589.5,60.95 L590.2,60.46 L591.0,59.84 L591.8,59.39 L592.5,59.35 L593.2,59.78 L594.0,60.51 L594.8,61.23 L595.5,61.65 L596.2,61.58 L597.0,61.10 L597.8,60.47 L598.5,60.04 L599.2,60.06 L600.0,60.56 L600.8,61.34 L601.5,62.03 L602.2,62.33 L603.0,62.13 L603.8,61.58 L604.5,61.00 L605.2,60.75 L606.0,60.99 L606.8,61.66 L607.5,62.45 L608.2,63.00 L609.0,63.07 L609.8,62.68 L610.5,62.09 L611.2,61.67 L612.0,61.70 L612.8,62.22 L613.5,63.00 L614.2,63.67 L615.0,63.91 L615.8,63.66 L616.5,63.09 L617.2,62.58 L618.0,62.47 L618.8,62.87 L619.5,63.61 L620.2,64.31 L621.0,64.65 L621.8,64.47 L622.5,63.94 L623.2,63.41 L624.0,63.26 L624.8,63.61 L625.5,64.34 L626.2,65.06 L627.0,65.41 L627.8,65.25 L628.5,64.74 L629.2,64.26 L630.0,64.15 L630.8,64.57 L631.5,65.32 L632.2,66.04 L633.0,66.35 L633.8,66.16 L634.5,65.67 L635.2,65.27 L636.0,65.31 L636.8,65.86 L637.5,66.66 L638.2,67.31 L639.0,67.49 L639.8,67.19 L640.5,66.71 L641.2,66.47 L642.0,66.72 L642.8,67.41 L643.5,68.19 L644.2,68.67 L645.0,68.62 L645.8,68.21 L646.5,67.82 L647.2,67.83 L648.0,68.36 L648.8,69.16 L649.5,69.82 L650.2,70.00 L651.0,69.71 L651.8,69.28 L652.5,69.14 L653.2,69.52 L654.0,70.28 L654.8,71.01 L655.5,71.33 L656.2,71.15 L657.0,70.73 L657.8,70.53 L658.5,70.82 L659.2,71.54 L660.0,72.31 L660.8,72.70 L661.5,72.58 L662.2,72.18 L663.0,71.96 L663.8,72.23 L664.5,72.94 L665.2,73.69 L666.0,74.05 L666.8,73.90 L667.5,73.48 L668.2,73.28 L669.0,73.59 L669.8,74.32 L670.5,75.03 L671.2,75.30 L672.0,75.07 L672.8,74.67 L673.5,74.57 L674.2,75.00 L675.0,75.75 L675.8,76.34 L676.5,76.42 L677.2,76.05 L678.0,75.67 L678.8,75.71 L679.5,76.25 L680.2,76.93 L681.0,77.25 L681.8,77.04 L682.5,76.55 L683.2,76.29 L684.0,76.57 L684.8,77.20 L685.5,77.70 L686.2,77.69 L687.0,77.24 L687.8,76.83 L688.5,76.88 L689.2,77.41 L690.0,78.00 L690.8,78.15 L691.5,77.79 L692.2,77.32 L693.0,77.23 L693.8,77.67 L694.5,78.28 L695.2,78.52 L696.0,78.22 L696.8,77.72 L697.5,77.55 L698.2,77.93 L699.0,78.52 L699.8,78.80 L700.5,78.52 L701.2,78.07 L702.0,77.96 L702.8,78.30 L703.5,78.77 L704.2,78.97 L705.0,78.83 L705.8,78.63 L706.5,78.67 L707.2,78.97 L708.0,79.32 L708.8,79.53 L709.5,79.61 L710.2,79.69 L711.0,79.88 L711.8,80.10 L712.5,80.27 L713.2,80.44 L714.0,80.58 L714.8,80.71 L715.5,80.83 L716.2,80.95 L717.0,81.07 L717.8,81.19 L718.5,81.29 L719.2,81.38 L720.0,81.45 L720.8,81.49 L721.5,81.50 L722.2,81.44 L723.0,81.33 L723.8,81.17 L724.5,80.99 L725.2,80.78 L726.0,80.58 L726.8,80.39 L727.5,80.22 L728.2,80.09 L729.0,80.02 L729.8,80.01 L730.5,80.16 L731.2,80.44 L732.0,80.80 L732.8,81.22 L733.5,81.62 L734.2,82.02 L735.0,82.52 L735.8,83.08 L736.5,83.67 L737.2,84.25 L738.0,84.79 L738.8,85.26 L739.5,85.60 L740.2,85.80 L741.0,85.95 L741.8,86.06 L742.5,86.16 L743.2,86.26 L744.0,86.36 L744.8,86.46 L745.5,86.55 L746.2,86.62 L747.0,86.68 L747.8,86.73 L748.5,86.77 L749.2,86.81 L750.0,86.86 L750.8,86.99 L751.5,87.23 L752.2,87.58 L753.0,88.04 L753.8,88.57 L754.5,89.13 L755.2,89.69 L756.0,90.21 L756.8,90.66 L757.5,91.01 L758.2,91.25 L759.0,91.44 L759.8,91.56 L760.5,91.64 L761.2,91.68 L762.0,91.70 L762.8,91.72 L763.5,91.75 L764.2,91.82 L765.0,91.95 L765.8,92.13 L766.5,92.36 L767.2,92.65 L768.0,92.97 L768.8,93.33 L769.5,93.70 L770.2,94.06 L771.0,94.42 L771.8,94.75 L772.5,95.04 L773.2,95.31 L774.0,95.54 L774.8,95.74 L775.5,95.92 L776.2,96.10 L777.0,96.28 L777.8,96.48 L778.5,96.70 L779.2,96.94 L780.0,97.21 L780.8,97.52 L781.5,97.84 L782.2,98.18 L783.0,98.52 L783.8,98.85 L784.5,99.16 L785.2,99.43 L786.0,99.67 L786.8,99.87 L787.5,100.03 L788.2,100.17 L789.0,100.29 L789.8,100.40 L790.5,100.52 L791.2,100.66 L792.0,100.83 L792.8,101.04 L793.5,101.28 L794.2,101.56 L795.0,101.86 L795.8,102.18 L796.5,102.51 L797.2,102.82 L798.0,103.12 L798.8,103.38 L799.5,103.61 L800.2,103.81 L801.0,103.96 L801.8,104.09 L802.5,104.21 L803.2,104.32 L804.0,104.43 L804.8,104.57 L805.5,104.73 L806.2,104.93 L807.0,105.16 L807.8,105.42 L808.5,105.71 L809.2,106.01 L810.0,106.32 L810.8,106.61 L811.5,106.89 L812.2,107.13 L813.0,107.33 L813.8,107.50 L814.5,107.64 L815.2,107.75 L816.0,107.84 L816.8,107.92 L817.5,108.01 L818.2,108.13 L819.0,108.26 L819.8,108.44 L820.5,108.64 L821.2,108.88 L822.0,109.15 L822.8,109.43 L823.5,109.71 L824.2,109.98 L825.0,110.24 L825.8,110.46 L826.5,110.65 L827.2,110.80 L828.0,110.92 L828.8,111.01 L829.5,111.09 L830.2,111.16 L831.0,111.23 L831.8,111.33 L832.5,111.45 L833.2,111.61 L834.0,111.80 L834.8,112.02 L835.5,112.26 L836.2,112.52 L837.0,112.78 L837.8,113.03 L838.5,113.27 L839.2,113.47 L840.0,113.64 L840.8,113.77 L841.5,113.87 L842.2,113.95 L843.0,114.00 L843.8,114.06 L844.5,114.12 L845.2,114.20 L846.0,114.30 L846.8,114.44 L847.5,114.61 L848.2,114.82 L849.0,115.04 L849.8,115.29 L850.5,115.53 L851.2,115.76 L852.0,115.98 L852.8,116.16 L853.5,116.31 L854.2,116.43 L855.0,116.51 L855.8,116.56 L856.5,116.60 L857.2,116.64 L858.0,116.68 L858.8,116.74 L859.5,116.82 L860.2,116.94 L861.0,117.09 L861.8,117.28 L862.5,117.48 L863.2,117.70 L864.0,117.93 L864.8,118.14 L865.5,118.33 L866.2,118.50 L867.0,118.63 L867.8,118.73 L868.5,118.79 L869.2,118.83 L870.0,118.86 L870.8,118.88 L871.5,118.95 L872.2,119.04 L873.0,119.17 L873.8,119.32 L874.5,119.47" stroke="#2f4ca0" stroke-width="2.1" fill="none" stroke-linejoin="round"/>
<path d="M235.3,118.3V251.5" stroke="#ed1c24" stroke-width="1.9" fill="none"/>
<path d="M425.3,85.8V251.5" stroke="#ed1c24" stroke-width="1.9" fill="none"/>
<text x="107.5" y="281.3" font-family='"Liberation Sans", Arial, Helvetica, sans-serif' font-size="19.3" fill="#414042" text-anchor="middle" >0</text>
<text x="235.3" y="281.3" font-family='"Liberation Sans", Arial, Helvetica, sans-serif' font-size="19.3" fill="#414042" text-anchor="middle" >0.25</text>
<text x="363.1" y="281.3" font-family='"Liberation Sans", Arial, Helvetica, sans-serif' font-size="19.3" fill="#414042" text-anchor="middle" >0.5</text>
<text x="490.9" y="281.3" font-family='"Liberation Sans", Arial, Helvetica, sans-serif' font-size="19.3" fill="#414042" text-anchor="middle" >0.75</text>
<text x="618.7" y="281.3" font-family='"Liberation Sans", Arial, Helvetica, sans-serif' font-size="19.3" fill="#414042" text-anchor="middle" >1</text>
<text x="746.5" y="281.3" font-family='"Liberation Sans", Arial, Helvetica, sans-serif' font-size="19.3" fill="#414042" text-anchor="middle" >1.25</text>
<text x="874.2" y="281.3" font-family='"Liberation Sans", Arial, Helvetica, sans-serif' font-size="19.3" fill="#414042" text-anchor="middle" >1.5</text>
<text x="97.5" y="260.3" font-family='"Liberation Sans", Arial, Helvetica, sans-serif' font-size="19.3" fill="#414042" text-anchor="end" >0</text>
<text x="97.5" y="221.1" font-family='"Liberation Sans", Arial, Helvetica, sans-serif' font-size="19.3" fill="#414042" text-anchor="end" >0.25</text>
<text x="97.5" y="191.6" font-family='"Liberation Sans", Arial, Helvetica, sans-serif' font-size="19.3" fill="#414042" text-anchor="end" >0.4375</text>
<text x="97.5" y="162.2" font-family='"Liberation Sans", Arial, Helvetica, sans-serif' font-size="19.3" fill="#414042" text-anchor="end" >0.625</text>
<text x="97.5" y="122.9" font-family='"Liberation Sans", Arial, Helvetica, sans-serif' font-size="19.3" fill="#414042" text-anchor="end" >0.875</text>
<text x="97.5" y="103.3" font-family='"Liberation Sans", Arial, Helvetica, sans-serif' font-size="19.3" fill="#414042" text-anchor="end" >1</text>
<text x="97.5" y="83.7" font-family='"Liberation Sans", Arial, Helvetica, sans-serif' font-size="19.3" fill="#414042" text-anchor="end" >1.125</text>
<text x="491.3" y="22.8" font-family='"Liberation Sans", Arial, Helvetica, sans-serif' font-size="19.5" fill="#231f20" text-anchor="middle" >Base Case</text>
<text x="427.5" y="306.2" font-family='"Liberation Serif", "Times New Roman", serif' font-size="20.5" fill="#5f6062" textLength="126.5" lengthAdjust="spacingAndGlyphs"><tspan font-style="italic">t&#x302;</tspan><tspan font-size="14" dy="3.5">1</tspan><tspan dy="-3.5"> = (</tspan><tspan font-style="italic">t</tspan> &#x2212; <tspan font-style="italic">t</tspan><tspan font-size="14" dy="3.5">0</tspan><tspan dy="-3.5">)/</tspan><tspan font-style="italic">T</tspan></text>
<g transform="translate(25.2,141.2) rotate(-90)">
<text x="-37.8" y="0" font-family='"Liberation Serif", "Times New Roman", serif' font-size="20.5" fill="#5f6062" textLength="75.7" lengthAdjust="spacingAndGlyphs"><tspan font-style="italic">h&#x302;</tspan> = <tspan font-style="italic">h</tspan>/<tspan font-style="italic">h</tspan><tspan font-size="14" dy="3.5">0</tspan></text>
</g>
<text font-family='"Liberation Serif", "Times New Roman", serif' font-size="20.0" fill="#2b2a2c"><tspan x="240.7" y="138.7" font-style="italic">û</tspan><tspan x="258.7" y="138.7" textLength="14.2" lengthAdjust="spacingAndGlyphs">=</tspan><tspan x="279.3" y="138.7">-0.12</tspan></text>
<text font-family='"Liberation Serif", "Times New Roman", serif' font-size="20.0" fill="#2b2a2c"><tspan x="430.5" y="119.5" font-style="italic">û</tspan><tspan x="441.5" y="122.8" font-style="italic" font-size="15.2" textLength="26.5" lengthAdjust="spacingAndGlyphs">max</tspan><tspan x="476.5" y="119.5" textLength="14.2" lengthAdjust="spacingAndGlyphs">=</tspan><tspan x="497.5" y="119.5">0.24</tspan></text>
<rect x="910.3" y="247.75" width="43.0" height="4.05" fill="#2b2f87"/>
<rect x="910.3" y="244.31" width="43.0" height="4.05" fill="#2c348c"/>
<rect x="910.3" y="240.86" width="43.0" height="4.05" fill="#2e3a94"/>
<rect x="910.3" y="237.42" width="43.0" height="4.05" fill="#30419a"/>
<rect x="910.3" y="233.97" width="43.0" height="4.05" fill="#33469d"/>
<rect x="910.3" y="230.53" width="43.0" height="4.05" fill="#364b9f"/>
<rect x="910.3" y="227.08" width="43.0" height="4.05" fill="#3950a2"/>
<rect x="910.3" y="223.64" width="43.0" height="4.05" fill="#3951a3"/>
<rect x="910.3" y="220.19" width="43.0" height="4.05" fill="#3a52a3"/>
<rect x="910.3" y="216.75" width="43.0" height="4.05" fill="#3a54a4"/>
<rect x="910.3" y="213.30" width="43.0" height="4.05" fill="#3a57a6"/>
<rect x="910.3" y="209.86" width="43.0" height="4.05" fill="#3b5aa8"/>
<rect x="910.3" y="206.41" width="43.0" height="4.05" fill="#3c5eab"/>
<rect x="910.3" y="202.97" width="43.0" height="4.05" fill="#3d64af"/>
<rect x="910.3" y="199.52" width="43.0" height="4.05" fill="#3f6cb4"/>
<rect x="910.3" y="196.07" width="43.0" height="4.05" fill="#4077bc"/>
<rect x="910.3" y="192.63" width="43.0" height="4.05" fill="#4188c8"/>
<rect x="910.3" y="189.18" width="43.0" height="4.05" fill="#4197d3"/>
<rect x="910.3" y="185.74" width="43.0" height="4.05" fill="#3fa6dc"/>
<rect x="910.3" y="182.29" width="43.0" height="4.05" fill="#3ab5e7"/>
<rect x="910.3" y="178.85" width="43.0" height="4.05" fill="#33c4f3"/>
<rect x="910.3" y="175.40" width="43.0" height="4.05" fill="#48c7ec"/>
<rect x="910.3" y="171.96" width="43.0" height="4.05" fill="#5fc9e3"/>
<rect x="910.3" y="168.51" width="43.0" height="4.05" fill="#6dcad9"/>
<rect x="910.3" y="165.07" width="43.0" height="4.05" fill="#6fc9cc"/>
<rect x="910.3" y="161.62" width="43.0" height="4.05" fill="#71c8bf"/>
<rect x="910.3" y="158.18" width="43.0" height="4.05" fill="#74c7b2"/>
<rect x="910.3" y="154.73" width="43.0" height="4.05" fill="#79c7a2"/>
<rect x="910.3" y="151.29" width="43.0" height="4.05" fill="#7fc793"/>
<rect x="910.3" y="147.84" width="43.0" height="4.05" fill="#85c783"/>
<rect x="910.3" y="144.40" width="43.0" height="4.05" fill="#8dc873"/>
<rect x="910.3" y="140.95" width="43.0" height="4.05" fill="#94c963"/>
<rect x="910.3" y="137.50" width="43.0" height="4.05" fill="#9ccb54"/>
<rect x="910.3" y="134.06" width="43.0" height="4.05" fill="#a5ce46"/>
<rect x="910.3" y="130.61" width="43.0" height="4.05" fill="#b0d13a"/>
<rect x="910.3" y="127.17" width="43.0" height="4.05" fill="#bed631"/>
<rect x="910.3" y="123.72" width="43.0" height="4.05" fill="#cfda2a"/>
<rect x="910.3" y="120.28" width="43.0" height="4.05" fill="#dbdf26"/>
<rect x="910.3" y="116.83" width="43.0" height="4.05" fill="#e5e424"/>
<rect x="910.3" y="113.39" width="43.0" height="4.05" fill="#efe921"/>
<rect x="910.3" y="109.94" width="43.0" height="4.05" fill="#f7e618"/>
<rect x="910.3" y="106.50" width="43.0" height="4.05" fill="#fdd907"/>
<rect x="910.3" y="103.05" width="43.0" height="4.05" fill="#fec809"/>
<rect x="910.3" y="99.61" width="43.0" height="4.05" fill="#fcb514"/>
<rect x="910.3" y="96.16" width="43.0" height="4.05" fill="#fbaa17"/>
<rect x="910.3" y="92.72" width="43.0" height="4.05" fill="#f99e1a"/>
<rect x="910.3" y="89.27" width="43.0" height="4.05" fill="#f7921d"/>
<rect x="910.3" y="85.83" width="43.0" height="4.05" fill="#f5831f"/>
<rect x="910.3" y="82.38" width="43.0" height="4.05" fill="#f47420"/>
<rect x="910.3" y="78.93" width="43.0" height="4.05" fill="#f26622"/>
<rect x="910.3" y="75.49" width="43.0" height="4.05" fill="#f15723"/>
<rect x="910.3" y="72.04" width="43.0" height="4.05" fill="#f04823"/>
<rect x="910.3" y="68.60" width="43.0" height="4.05" fill="#ee3924"/>
<rect x="910.3" y="65.15" width="43.0" height="4.05" fill="#ee2f24"/>
<rect x="910.3" y="61.71" width="43.0" height="4.05" fill="#ed2724"/>
<rect x="910.3" y="58.26" width="43.0" height="4.05" fill="#ed1f24"/>
<rect x="910.3" y="54.82" width="43.0" height="4.05" fill="#e61d24"/>
<rect x="910.3" y="51.37" width="43.0" height="4.05" fill="#d91e25"/>
<rect x="910.3" y="47.93" width="43.0" height="4.05" fill="#cb1f26"/>
<rect x="910.3" y="44.48" width="43.0" height="4.05" fill="#bd1f25"/>
<rect x="910.3" y="41.04" width="43.0" height="4.05" fill="#ac1d22"/>
<rect x="910.3" y="37.59" width="43.0" height="4.05" fill="#9b1b1f"/>
<rect x="910.3" y="34.15" width="43.0" height="4.05" fill="#8c181c"/>
<rect x="910.3" y="30.70" width="43.0" height="4.05" fill="#7e1518"/>
<text x="960.9" y="226.4" font-family='"Liberation Sans", Arial, Helvetica, sans-serif' font-size="17.8" fill="#414042" text-anchor="start" >-0.2</text>
<text x="960.9" y="187.4" font-family='"Liberation Sans", Arial, Helvetica, sans-serif' font-size="17.8" fill="#414042" text-anchor="start" >-0.1</text>
<text x="960.9" y="148.4" font-family='"Liberation Sans", Arial, Helvetica, sans-serif' font-size="17.8" fill="#414042" text-anchor="start" >0</text>
<text x="960.9" y="109.5" font-family='"Liberation Sans", Arial, Helvetica, sans-serif' font-size="17.8" fill="#414042" text-anchor="start" >0.1</text>
<text x="960.9" y="70.5" font-family='"Liberation Sans", Arial, Helvetica, sans-serif' font-size="17.8" fill="#414042" text-anchor="start" >0.2</text>
<path d="M953.3,219.17h-3M953.3,180.21h-3M953.3,141.25h-3M953.3,102.29h-3M953.3,63.33h-3" stroke="#48484a" stroke-width="1.5" fill="none"/>
<rect x="910.30" y="31.00" width="43.00" height="220.50" fill="none" stroke="#48484a" stroke-width="1.8"/>
<g transform="translate(1013.6,141.2) rotate(-90)">
<text font-family='"Liberation Serif", "Times New Roman", serif' font-size="20.5" fill="#5f6062"><tspan x="-46.4" y="0" font-style="italic">u&#x302;</tspan><tspan x="-30.8" y="0">=</tspan><tspan x="-13.2" y="0" font-style="italic">u</tspan><tspan x="-2.6" y="3.2" font-size="25.5">/</tspan><tspan x="7.6" y="3.0" font-size="22">&#x221A;</tspan><tspan x="20.8" y="0" font-size="18.8" font-style="italic">g</tspan><tspan x="29.9" y="0" font-size="18.8" font-style="italic">h</tspan><tspan x="39.0" y="3.5" font-size="14.5">0</tspan></text>
<path d="M19.4,-14.3H47.2" stroke="#5f6062" stroke-width="1.3" fill="none"/>
</g>
</g>
<g>
<path d="M235.79,418.6V639.1M363.58,418.6V639.1M491.38,418.6V639.1M619.17,418.6V639.1M746.96,418.6V639.1M108.0,600.15H874.8M108.0,570.71H874.8M108.0,541.28H874.8M108.0,502.03H874.8M108.0,482.40H874.8M108.0,462.78H874.8" stroke="#d4d5d6" stroke-width="1.45" fill="none"/>
<path d="M235.79,639.1v-8.5M235.79,418.6v8.5M363.58,639.1v-8.5M363.58,418.6v8.5M491.38,639.1v-8.5M491.38,418.6v8.5M619.17,639.1v-8.5M619.17,418.6v8.5M746.96,639.1v-8.5M746.96,418.6v8.5M108.0,600.15h8.5M874.8,600.15h-8.5M108.0,570.71h8.5M874.8,570.71h-8.5M108.0,541.28h8.5M874.8,541.28h-8.5M108.0,502.03h8.5M874.8,502.03h-8.5M108.0,482.40h8.5M874.8,482.40h-8.5M108.0,462.78h8.5M874.8,462.78h-8.5" stroke="#48484a" stroke-width="1.7" fill="none"/>
<path d="M108.00,418.60V639.10H874.75" fill="none" stroke="#48484a" stroke-width="1.9" stroke-linecap="square"/>
<g fill="none" stroke-width="2.2" stroke-linecap="butt">
<path stroke="#b0d13a" d="M102.1,542.2H113.9M108.0,536.3V548.1M103.8,538.0L112.2,546.3M103.8,546.3L112.2,538.0"/>
<path stroke="#a5ce46" d="M106.3,542.2H118.1M112.2,536.3V548.1M108.0,538.0L116.4,546.3M108.0,546.3L116.4,538.0"/>
<path stroke="#94c963" d="M110.5,542.2H122.3M116.4,536.3V548.1M112.2,538.0L120.6,546.3M112.2,546.3L120.6,538.0"/>
<path stroke="#9ccb54" d="M114.7,542.2H126.5M120.6,536.3V548.1M116.4,538.0L124.7,546.3M116.4,546.3L124.7,538.0"/>
<path stroke="#8dc873" d="M118.9,542.2H130.7M124.8,536.3V548.1M120.6,538.0L128.9,546.3M120.6,546.3L128.9,538.0"/>
<path stroke="#8dc873" d="M123.0,542.2H134.8M128.9,536.3V548.1M124.8,538.0L133.1,546.3M124.8,546.3L133.1,538.0"/>
<path stroke="#94c963" d="M127.2,542.2H139.0M133.1,536.3V548.1M129.0,538.0L137.3,546.3M129.0,546.3L137.3,538.0"/>
<path stroke="#85c783" d="M131.4,542.2H143.2M137.3,536.3V548.1M133.2,538.0L141.5,546.3M133.2,546.3L141.5,538.0"/>
<path stroke="#85c783" d="M135.6,542.2H147.4M141.5,536.3V548.1M137.3,538.0L145.7,546.3M137.3,546.3L145.7,538.0"/>
<path stroke="#7fc793" d="M139.8,542.2H151.6M145.7,536.3V548.1M141.5,538.0L149.9,546.3M141.5,546.3L149.9,538.0"/>
<path stroke="#79c7a2" d="M144.0,542.2H155.8M149.9,536.3V548.1M145.7,538.0L154.1,546.3M145.7,546.3L154.1,538.0"/>
<path stroke="#7fc793" d="M148.2,542.2H160.0M154.1,536.3V548.1M149.9,538.0L158.3,546.3M149.9,546.3L158.3,538.0"/>
<path stroke="#79c7a2" d="M152.4,542.2H164.2M158.3,536.3V548.1M154.1,538.0L162.4,546.3M154.1,546.3L162.4,538.0"/>
<path stroke="#79c7a2" d="M156.6,542.2H168.4M162.5,536.3V548.1M158.3,538.0L166.6,546.3M158.3,546.3L166.6,538.0"/>
<path stroke="#71c8bf" d="M160.8,542.2H172.6M166.7,536.3V548.1M162.5,538.0L170.8,546.3M162.5,546.3L170.8,538.0"/>
<path stroke="#71c8bf" d="M164.9,542.2H176.7M170.8,536.3V548.1M166.7,538.0L175.0,546.3M166.7,546.3L175.0,538.0"/>
<path stroke="#71c8bf" d="M169.1,542.2H180.9M175.0,536.3V548.1M170.9,538.0L179.2,546.3M170.9,546.3L179.2,538.0"/>
<path stroke="#71c8bf" d="M173.3,542.2H185.1M179.2,536.3V548.1M175.0,538.0L183.4,546.3M175.0,546.3L183.4,538.0"/>
<path stroke="#71c8bf" d="M177.5,542.2H189.3M183.4,536.3V548.1M179.2,538.0L187.6,546.3M179.2,546.3L187.6,538.0"/>
<path stroke="#6fc9cc" d="M181.7,542.2H193.5M187.6,536.3V548.1M183.4,538.0L191.8,546.3M183.4,546.3L191.8,538.0"/>
<path stroke="#74c7b2" d="M185.9,542.2H197.7M191.8,536.3V548.1M187.6,538.0L196.0,546.3M187.6,546.3L196.0,538.0"/>
<path stroke="#71c8bf" d="M190.1,542.2H201.9M196.0,536.3V548.1M191.8,538.0L200.1,546.3M191.8,546.3L200.1,538.0"/>
<path stroke="#7fc793" d="M194.3,542.2H206.1M200.2,536.3V548.1M196.0,538.0L204.3,546.3M196.0,546.3L204.3,538.0"/>
<path stroke="#79c7a2" d="M198.5,542.2H210.3M204.4,536.3V548.1M200.2,538.0L208.5,546.3M200.2,546.3L208.5,538.0"/>
<path stroke="#79c7a2" d="M202.6,542.2H214.4M208.5,536.3V548.1M204.4,538.0L212.7,546.3M204.4,546.3L212.7,538.0"/>
<path stroke="#71c8bf" d="M206.8,542.2H218.6M212.7,536.3V548.1M208.6,538.0L216.9,546.3M208.6,546.3L216.9,538.0"/>
<path stroke="#71c8bf" d="M211.0,542.2H222.8M216.9,536.3V548.1M212.7,538.0L221.1,546.3M212.7,546.3L221.1,538.0"/>
<path stroke="#71c8bf" d="M215.2,542.2H227.0M221.1,536.3V548.1M216.9,538.0L225.3,546.3M216.9,546.3L225.3,538.0"/>
<path stroke="#6dcad9" d="M219.4,542.2H231.2M225.3,536.3V548.1M221.1,538.0L229.5,546.3M221.1,546.3L229.5,538.0"/>
<path stroke="#6fc9cc" d="M223.6,542.2H235.4M229.5,536.3V548.1M225.3,538.0L233.7,546.3M225.3,546.3L233.7,538.0"/>
<path stroke="#6fc9cc" d="M227.8,542.2H239.6M233.7,536.3V548.1M229.5,538.0L237.9,546.3M229.5,546.3L237.9,538.0"/>
<path stroke="#6fc9cc" d="M232.0,542.2H243.8M237.9,536.3V548.1M233.7,538.0L242.0,546.3M233.7,546.3L242.0,538.0"/>
<path stroke="#6fc9cc" d="M236.2,542.2H248.0M242.1,536.3V548.1M237.9,538.0L246.2,546.3M237.9,546.3L246.2,538.0"/>
<path stroke="#74c7b2" d="M240.3,542.2H252.1M246.2,536.3V548.1M242.1,538.0L250.4,546.3M242.1,546.3L250.4,538.0"/>
<path stroke="#71c8bf" d="M244.5,542.2H256.3M250.4,536.3V548.1M246.3,538.0L254.6,546.3M246.3,546.3L254.6,538.0"/>
<path stroke="#6fc9cc" d="M248.7,542.2H260.5M254.6,536.3V548.1M250.5,538.0L258.8,546.3M250.5,546.3L258.8,538.0"/>
<path stroke="#71c8bf" d="M252.9,542.2H264.7M258.8,536.3V548.1M254.6,538.0L263.0,546.3M254.6,546.3L263.0,538.0"/>
<path stroke="#71c8bf" d="M257.1,542.2H268.9M263.0,536.3V548.1M258.8,538.0L267.2,546.3M258.8,546.3L267.2,538.0"/>
<path stroke="#71c8bf" d="M261.3,542.2H273.1M267.2,536.3V548.1M263.0,538.0L271.4,546.3M263.0,546.3L271.4,538.0"/>
<path stroke="#6fc9cc" d="M265.5,542.2H277.3M271.4,536.3V548.1M267.2,538.0L275.6,546.3M267.2,546.3L275.6,538.0"/>
<path stroke="#71c8bf" d="M269.7,542.2H281.5M275.6,536.3V548.1M271.4,538.0L279.7,546.3M271.4,546.3L279.7,538.0"/>
<path stroke="#6fc9cc" d="M273.9,542.2H285.7M279.8,536.3V548.1M275.6,538.0L283.9,546.3M275.6,546.3L283.9,538.0"/>
<path stroke="#6fc9cc" d="M278.1,542.2H289.9M284.0,536.3V548.1M279.8,538.0L288.1,546.3M279.8,546.3L288.1,538.0"/>
<path stroke="#71c8bf" d="M282.2,542.2H294.0M288.1,536.3V548.1M284.0,538.0L292.3,546.3M284.0,546.3L292.3,538.0"/>
<path stroke="#79c7a2" d="M286.4,542.2H298.2M292.3,536.3V548.1M288.2,538.0L296.5,546.3M288.2,546.3L296.5,538.0"/>
<path stroke="#74c7b2" d="M290.6,542.2H302.4M296.5,536.3V548.1M292.3,538.0L300.7,546.3M292.3,546.3L300.7,538.0"/>
<path stroke="#85c783" d="M294.8,542.2H306.6M300.7,536.3V548.1M296.5,538.0L304.9,546.3M296.5,546.3L304.9,538.0"/>
<path stroke="#7fc793" d="M299.0,542.2H310.8M304.9,536.3V548.1M300.7,538.0L309.1,546.3M300.7,546.3L309.1,538.0"/>
<path stroke="#85c783" d="M303.2,542.2H315.0M309.1,536.3V548.1M304.9,538.0L313.3,546.3M304.9,546.3L313.3,538.0"/>
<path stroke="#8dc873" d="M307.4,542.2H319.2M313.3,536.3V548.1M309.1,538.0L317.4,546.3M309.1,546.3L317.4,538.0"/>
<path stroke="#94c963" d="M311.6,542.2H323.4M317.5,536.3V548.1M313.3,538.0L321.6,546.3M313.3,546.3L321.6,538.0"/>
<path stroke="#b0d13a" d="M315.8,542.2H327.6M321.7,536.3V548.1M317.5,538.0L325.8,546.3M317.5,546.3L325.8,538.0"/>
<path stroke="#a5ce46" d="M319.9,542.2H331.7M325.8,536.3V548.1M321.7,538.0L330.0,546.3M321.7,546.3L330.0,538.0"/>
<path stroke="#dbdf26" d="M324.1,542.2H335.9M330.0,536.3V548.1M325.9,538.0L334.2,546.3M325.9,546.3L334.2,538.0"/>
<path stroke="#dbdf26" d="M328.3,542.2H340.1M334.2,536.3V548.1M330.0,538.0L338.4,546.3M330.0,546.3L338.4,538.0"/>
<path stroke="#dbdf26" d="M332.5,542.2H344.3M338.4,536.3V548.1M334.2,538.0L342.6,546.3M334.2,546.3L342.6,538.0"/>
<path stroke="#dbdf26" d="M336.7,542.2H348.5M342.6,536.3V548.1M338.4,538.0L346.8,546.3M338.4,546.3L346.8,538.0"/>
<path stroke="#dbdf26" d="M340.9,542.2H352.7M346.8,536.3V548.1M342.6,538.0L351.0,546.3M342.6,546.3L351.0,538.0"/>
<path stroke="#e5e424" d="M345.1,542.2H356.9M351.0,536.3V548.1M346.8,538.0L355.2,546.3M346.8,546.3L355.2,538.0"/>
<path stroke="#e5e424" d="M349.3,542.2H361.1M355.2,536.3V548.1M351.0,538.0L359.3,546.3M351.0,546.3L359.3,538.0"/>
<path stroke="#f7e618" d="M353.5,542.2H365.3M359.4,536.3V548.1M355.2,538.0L363.5,546.3M355.2,546.3L363.5,538.0"/>
<path stroke="#efe921" d="M357.6,542.2H369.4M363.5,536.3V548.1M359.4,538.0L367.7,546.3M359.4,546.3L367.7,538.0"/>
<path stroke="#f7e618" d="M361.8,542.2H373.6M367.7,536.3V548.1M363.6,538.0L371.9,546.3M363.6,546.3L371.9,538.0"/>
<path stroke="#f7e618" d="M366.0,542.2H377.8M371.9,536.3V548.1M367.8,538.0L376.1,546.3M367.8,546.3L376.1,538.0"/>
<path stroke="#f7e618" d="M370.2,542.2H382.0M376.1,536.3V548.1M371.9,538.0L380.3,546.3M371.9,546.3L380.3,538.0"/>
<path stroke="#fec809" d="M374.4,542.2H386.2M380.3,536.3V548.1M376.1,538.0L384.5,546.3M376.1,546.3L384.5,538.0"/>
<path stroke="#fec809" d="M378.6,542.2H390.4M384.5,536.3V548.1M380.3,538.0L388.7,546.3M380.3,546.3L388.7,538.0"/>
<path stroke="#fec809" d="M382.8,542.2H394.6M388.7,536.3V548.1M384.5,538.0L392.9,546.3M384.5,546.3L392.9,538.0"/>
<path stroke="#fec809" d="M387.0,542.2H398.8M392.9,536.3V548.1M388.7,538.0L397.0,546.3M388.7,546.3L397.0,538.0"/>
<path stroke="#fcb514" d="M391.2,542.2H403.0M397.1,536.3V548.1M392.9,538.0L401.2,546.3M392.9,546.3L401.2,538.0"/>
<path stroke="#f99e1a" d="M395.4,542.2H407.2M401.3,536.3V548.1M397.1,538.0L405.4,546.3M397.1,546.3L405.4,538.0"/>
<path stroke="#fbaa17" d="M399.5,542.2H411.3M405.4,536.3V548.1M401.3,538.0L409.6,546.3M401.3,546.3L409.6,538.0"/>
<path stroke="#f99e1a" d="M403.7,542.2H415.5M409.6,536.3V548.1M405.5,538.0L413.8,546.3M405.5,546.3L413.8,538.0"/>
<path stroke="#fbaa17" d="M407.9,542.2H419.7M413.8,536.3V548.1M409.6,538.0L418.0,546.3M409.6,546.3L418.0,538.0"/>
<path stroke="#fcb514" d="M412.1,542.2H423.9M418.0,536.3V548.1M413.8,538.0L422.2,546.3M413.8,546.3L422.2,538.0"/>
<path stroke="#fbaa17" d="M416.3,542.2H428.1M422.2,536.3V548.1M418.0,538.0L426.4,546.3M418.0,546.3L426.4,538.0"/>
<path stroke="#fbaa17" d="M420.5,542.2H432.3M426.4,536.3V548.1M422.2,538.0L430.6,546.3M422.2,546.3L430.6,538.0"/>
<path stroke="#fcb514" d="M424.7,542.2H436.5M430.6,536.3V548.1M426.4,538.0L434.7,546.3M426.4,546.3L434.7,538.0"/>
<path stroke="#fec809" d="M428.9,542.2H440.7M434.8,536.3V548.1M430.6,538.0L438.9,546.3M430.6,546.3L438.9,538.0"/>
<path stroke="#fcb514" d="M433.1,542.2H444.9M439.0,536.3V548.1M434.8,538.0L443.1,546.3M434.8,546.3L443.1,538.0"/>
<path stroke="#fcb514" d="M437.2,542.2H449.0M443.1,536.3V548.1M439.0,538.0L447.3,546.3M439.0,546.3L447.3,538.0"/>
<path stroke="#fec809" d="M441.4,542.2H453.2M447.3,536.3V548.1M443.2,538.0L451.5,546.3M443.2,546.3L451.5,538.0"/>
<path stroke="#f7e618" d="M445.6,542.2H457.4M451.5,536.3V548.1M447.3,538.0L455.7,546.3M447.3,546.3L455.7,538.0"/>
<path stroke="#fec809" d="M449.8,542.2H461.6M455.7,536.3V548.1M451.5,538.0L459.9,546.3M451.5,546.3L459.9,538.0"/>
<path stroke="#f7e618" d="M454.0,542.2H465.8M459.9,536.3V548.1M455.7,538.0L464.1,546.3M455.7,546.3L464.1,538.0"/>
<path stroke="#f7e618" d="M458.2,542.2H470.0M464.1,536.3V548.1M459.9,538.0L468.3,546.3M459.9,546.3L468.3,538.0"/>
<path stroke="#fec809" d="M462.4,542.2H474.2M468.3,536.3V548.1M464.1,538.0L472.5,546.3M464.1,546.3L472.5,538.0"/>
<path stroke="#fec809" d="M466.6,542.2H478.4M472.5,536.3V548.1M468.3,538.0L476.6,546.3M468.3,546.3L476.6,538.0"/>
<path stroke="#fdd907" d="M470.8,542.2H482.6M476.7,536.3V548.1M472.5,538.0L480.8,546.3M472.5,546.3L480.8,538.0"/>
<path stroke="#fec809" d="M474.9,542.2H486.7M480.8,536.3V548.1M476.7,538.0L485.0,546.3M476.7,546.3L485.0,538.0"/>
<path stroke="#fec809" d="M479.1,542.2H490.9M485.0,536.3V548.1M480.9,538.0L489.2,546.3M480.9,546.3L489.2,538.0"/>
<path stroke="#fdd907" d="M483.3,542.2H495.1M489.2,536.3V548.1M485.1,538.0L493.4,546.3M485.1,546.3L493.4,538.0"/>
<path stroke="#f7e618" d="M487.5,542.2H499.3M493.4,536.3V548.1M489.2,538.0L497.6,546.3M489.2,546.3L497.6,538.0"/>
<path stroke="#fdd907" d="M491.7,542.2H503.5M497.6,536.3V548.1M493.4,538.0L501.8,546.3M493.4,546.3L501.8,538.0"/>
<path stroke="#e5e424" d="M495.9,542.2H507.7M501.8,536.3V548.1M497.6,538.0L506.0,546.3M497.6,546.3L506.0,538.0"/>
<path stroke="#e5e424" d="M500.1,542.2H511.9M506.0,536.3V548.1M501.8,538.0L510.2,546.3M501.8,546.3L510.2,538.0"/>
<path stroke="#dbdf26" d="M504.3,542.2H516.1M510.2,536.3V548.1M506.0,538.0L514.3,546.3M506.0,546.3L514.3,538.0"/>
<path stroke="#e5e424" d="M508.5,542.2H520.3M514.4,536.3V548.1M510.2,538.0L518.5,546.3M510.2,546.3L518.5,538.0"/>
<path stroke="#dbdf26" d="M512.7,542.2H524.5M518.6,536.3V548.1M514.4,538.0L522.7,546.3M514.4,546.3L522.7,538.0"/>
<path stroke="#dbdf26" d="M516.8,542.2H528.6M522.7,536.3V548.1M518.6,538.0L526.9,546.3M518.6,546.3L526.9,538.0"/>
<path stroke="#dbdf26" d="M521.0,542.2H532.8M526.9,536.3V548.1M522.8,538.0L531.1,546.3M522.8,546.3L531.1,538.0"/>
<path stroke="#cfda2a" d="M525.2,542.2H537.0M531.1,536.3V548.1M526.9,538.0L535.3,546.3M526.9,546.3L535.3,538.0"/>
<path stroke="#cfda2a" d="M529.4,542.2H541.2M535.3,536.3V548.1M531.1,538.0L539.5,546.3M531.1,546.3L539.5,538.0"/>
<path stroke="#dbdf26" d="M533.6,542.2H545.4M539.5,536.3V548.1M535.3,538.0L543.7,546.3M535.3,546.3L543.7,538.0"/>
<path stroke="#cfda2a" d="M537.8,542.2H549.6M543.7,536.3V548.1M539.5,538.0L547.9,546.3M539.5,546.3L547.9,538.0"/>
<path stroke="#cfda2a" d="M542.0,542.2H553.8M547.9,536.3V548.1M543.7,538.0L552.0,546.3M543.7,546.3L552.0,538.0"/>
<path stroke="#cfda2a" d="M546.2,542.2H558.0M552.1,536.3V548.1M547.9,538.0L556.2,546.3M547.9,546.3L556.2,538.0"/>
<path stroke="#cfda2a" d="M550.4,542.2H562.2M556.3,536.3V548.1M552.1,538.0L560.4,546.3M552.1,546.3L560.4,538.0"/>
<path stroke="#b0d13a" d="M554.5,542.2H566.3M560.4,536.3V548.1M556.3,538.0L564.6,546.3M556.3,546.3L564.6,538.0"/>
<path stroke="#b0d13a" d="M558.7,542.2H570.5M564.6,536.3V548.1M560.5,538.0L568.8,546.3M560.5,546.3L568.8,538.0"/>
<path stroke="#b0d13a" d="M562.9,542.2H574.7M568.8,536.3V548.1M564.6,538.0L573.0,546.3M564.6,546.3L573.0,538.0"/>
<path stroke="#b0d13a" d="M567.1,542.2H578.9M573.0,536.3V548.1M568.8,538.0L577.2,546.3M568.8,546.3L577.2,538.0"/>
<path stroke="#a5ce46" d="M571.3,542.2H583.1M577.2,536.3V548.1M573.0,538.0L581.4,546.3M573.0,546.3L581.4,538.0"/>
<path stroke="#9ccb54" d="M575.5,542.2H587.3M581.4,536.3V548.1M577.2,538.0L585.6,546.3M577.2,546.3L585.6,538.0"/>
<path stroke="#8dc873" d="M579.7,542.2H591.5M585.6,536.3V548.1M581.4,538.0L589.8,546.3M581.4,546.3L589.8,538.0"/>
<path stroke="#9ccb54" d="M583.9,542.2H595.7M589.8,536.3V548.1M585.6,538.0L593.9,546.3M585.6,546.3L593.9,538.0"/>
<path stroke="#7fc793" d="M588.1,542.2H599.9M594.0,536.3V548.1M589.8,538.0L598.1,546.3M589.8,546.3L598.1,538.0"/>
<path stroke="#94c963" d="M592.2,542.2H604.0M598.1,536.3V548.1M594.0,538.0L602.3,546.3M594.0,546.3L602.3,538.0"/>
<path stroke="#85c783" d="M596.4,542.2H608.2M602.3,536.3V548.1M598.2,538.0L606.5,546.3M598.2,546.3L606.5,538.0"/>
<path stroke="#8dc873" d="M600.6,542.2H612.4M606.5,536.3V548.1M602.4,538.0L610.7,546.3M602.4,546.3L610.7,538.0"/>
<path stroke="#8dc873" d="M604.8,542.2H616.6M610.7,536.3V548.1M606.5,538.0L614.9,546.3M606.5,546.3L614.9,538.0"/>
<path stroke="#85c783" d="M609.0,542.2H620.8M614.9,536.3V548.1M610.7,538.0L619.1,546.3M610.7,546.3L619.1,538.0"/>
<path stroke="#85c783" d="M613.2,542.2H625.0M619.1,536.3V548.1M614.9,538.0L623.3,546.3M614.9,546.3L623.3,538.0"/>
<path stroke="#7fc793" d="M617.4,542.2H629.2M623.3,536.3V548.1M619.1,538.0L627.5,546.3M619.1,546.3L627.5,538.0"/>
<path stroke="#7fc793" d="M621.6,542.2H633.4M627.5,536.3V548.1M623.3,538.0L631.6,546.3M623.3,546.3L631.6,538.0"/>
<path stroke="#7fc793" d="M625.8,542.2H637.6M631.7,536.3V548.1M627.5,538.0L635.8,546.3M627.5,546.3L635.8,538.0"/>
<path stroke="#74c7b2" d="M630.0,542.2H641.8M635.9,536.3V548.1M631.7,538.0L640.0,546.3M631.7,546.3L640.0,538.0"/>
<path stroke="#6fc9cc" d="M634.1,542.2H645.9M640.0,536.3V548.1M635.9,538.0L644.2,546.3M635.9,546.3L644.2,538.0"/>
<path stroke="#71c8bf" d="M638.3,542.2H650.1M644.2,536.3V548.1M640.1,538.0L648.4,546.3M640.1,546.3L648.4,538.0"/>
<path stroke="#5fc9e3" d="M642.5,542.2H654.3M648.4,536.3V548.1M644.2,538.0L652.6,546.3M644.2,546.3L652.6,538.0"/>
<path stroke="#5fc9e3" d="M646.7,542.2H658.5M652.6,536.3V548.1M648.4,538.0L656.8,546.3M648.4,546.3L656.8,538.0"/>
<path stroke="#48c7ec" d="M650.9,542.2H662.7M656.8,536.3V548.1M652.6,538.0L661.0,546.3M652.6,546.3L661.0,538.0"/>
<path stroke="#48c7ec" d="M655.1,542.2H666.9M661.0,536.3V548.1M656.8,538.0L665.2,546.3M656.8,546.3L665.2,538.0"/>
<path stroke="#6dcad9" d="M659.3,542.2H671.1M665.2,536.3V548.1M661.0,538.0L669.3,546.3M661.0,546.3L669.3,538.0"/>
<path stroke="#5fc9e3" d="M663.5,542.2H675.3M669.4,536.3V548.1M665.2,538.0L673.5,546.3M665.2,546.3L673.5,538.0"/>
<path stroke="#48c7ec" d="M667.7,542.2H679.5M673.6,536.3V548.1M669.4,538.0L677.7,546.3M669.4,546.3L677.7,538.0"/>
<path stroke="#48c7ec" d="M671.8,542.2H683.6M677.7,536.3V548.1M673.6,538.0L681.9,546.3M673.6,546.3L681.9,538.0"/>
<path stroke="#48c7ec" d="M676.0,542.2H687.8M681.9,536.3V548.1M677.8,538.0L686.1,546.3M677.8,546.3L686.1,538.0"/>
<path stroke="#33c4f3" d="M680.2,542.2H692.0M686.1,536.3V548.1M681.9,538.0L690.3,546.3M681.9,546.3L690.3,538.0"/>
<path stroke="#48c7ec" d="M684.4,542.2H696.2M690.3,536.3V548.1M686.1,538.0L694.5,546.3M686.1,546.3L694.5,538.0"/>
<path stroke="#48c7ec" d="M688.6,542.2H700.4M694.5,536.3V548.1M690.3,538.0L698.7,546.3M690.3,546.3L698.7,538.0"/>
<path stroke="#33c4f3" d="M692.8,542.2H704.6M698.7,536.3V548.1M694.5,538.0L702.9,546.3M694.5,546.3L702.9,538.0"/>
<path stroke="#5fc9e3" d="M697.0,542.2H708.8M702.9,536.3V548.1M698.7,538.0L707.1,546.3M698.7,546.3L707.1,538.0"/>
<path stroke="#6dcad9" d="M701.2,542.2H713.0M707.1,536.3V548.1M702.9,538.0L711.2,546.3M702.9,546.3L711.2,538.0"/>
<path stroke="#48c7ec" d="M705.4,542.2H717.2M711.3,536.3V548.1M707.1,538.0L715.4,546.3M707.1,546.3L715.4,538.0"/>
<path stroke="#6fc9cc" d="M709.5,542.2H721.3M715.4,536.3V548.1M711.3,538.0L719.6,546.3M711.3,546.3L719.6,538.0"/>
<path stroke="#6dcad9" d="M713.7,542.2H725.5M719.6,536.3V548.1M715.5,538.0L723.8,546.3M715.5,546.3L723.8,538.0"/>
<path stroke="#6fc9cc" d="M717.9,542.2H729.7M723.8,536.3V548.1M719.7,538.0L728.0,546.3M719.7,546.3L728.0,538.0"/>
<path stroke="#71c8bf" d="M722.1,542.2H733.9M728.0,536.3V548.1M723.8,538.0L732.2,546.3M723.8,546.3L732.2,538.0"/>
<path stroke="#74c7b2" d="M726.3,542.2H738.1M732.2,536.3V548.1M728.0,538.0L736.4,546.3M728.0,546.3L736.4,538.0"/>
<path stroke="#71c8bf" d="M730.5,542.2H742.3M736.4,536.3V548.1M732.2,538.0L740.6,546.3M732.2,546.3L740.6,538.0"/>
<path stroke="#74c7b2" d="M734.7,542.2H746.5M740.6,536.3V548.1M736.4,538.0L744.8,546.3M736.4,546.3L744.8,538.0"/>
<path stroke="#71c8bf" d="M738.9,542.2H750.7M744.8,536.3V548.1M740.6,538.0L748.9,546.3M740.6,546.3L748.9,538.0"/>
<path stroke="#74c7b2" d="M743.1,542.2H754.9M749.0,536.3V548.1M744.8,538.0L753.1,546.3M744.8,546.3L753.1,538.0"/>
<path stroke="#6fc9cc" d="M747.3,542.2H759.1M753.2,536.3V548.1M749.0,538.0L757.3,546.3M749.0,546.3L757.3,538.0"/>
<path stroke="#6fc9cc" d="M751.4,542.2H763.2M757.3,536.3V548.1M753.2,538.0L761.5,546.3M753.2,546.3L761.5,538.0"/>
<path stroke="#71c8bf" d="M755.6,542.2H767.4M761.5,536.3V548.1M757.4,538.0L765.7,546.3M757.4,546.3L765.7,538.0"/>
<path stroke="#71c8bf" d="M759.8,542.2H771.6M765.7,536.3V548.1M761.5,538.0L769.9,546.3M761.5,546.3L769.9,538.0"/>
<path stroke="#71c8bf" d="M764.0,542.2H775.8M769.9,536.3V548.1M765.7,538.0L774.1,546.3M765.7,546.3L774.1,538.0"/>
<path stroke="#6dcad9" d="M768.2,542.2H780.0M774.1,536.3V548.1M769.9,538.0L778.3,546.3M769.9,546.3L778.3,538.0"/>
<path stroke="#74c7b2" d="M772.4,542.2H784.2M778.3,536.3V548.1M774.1,538.0L782.5,546.3M774.1,546.3L782.5,538.0"/>
<path stroke="#74c7b2" d="M776.6,542.2H788.4M782.5,536.3V548.1M778.3,538.0L786.6,546.3M778.3,546.3L786.6,538.0"/>
<path stroke="#71c8bf" d="M780.8,542.2H792.6M786.7,536.3V548.1M782.5,538.0L790.8,546.3M782.5,546.3L790.8,538.0"/>
<path stroke="#71c8bf" d="M785.0,542.2H796.8M790.9,536.3V548.1M786.7,538.0L795.0,546.3M786.7,546.3L795.0,538.0"/>
<path stroke="#6fc9cc" d="M789.1,542.2H800.9M795.0,536.3V548.1M790.9,538.0L799.2,546.3M790.9,546.3L799.2,538.0"/>
<path stroke="#71c8bf" d="M793.3,542.2H805.1M799.2,536.3V548.1M795.1,538.0L803.4,546.3M795.1,546.3L803.4,538.0"/>
<path stroke="#71c8bf" d="M797.5,542.2H809.3M803.4,536.3V548.1M799.2,538.0L807.6,546.3M799.2,546.3L807.6,538.0"/>
<path stroke="#74c7b2" d="M801.7,542.2H813.5M807.6,536.3V548.1M803.4,538.0L811.8,546.3M803.4,546.3L811.8,538.0"/>
<path stroke="#74c7b2" d="M805.9,542.2H817.7M811.8,536.3V548.1M807.6,538.0L816.0,546.3M807.6,546.3L816.0,538.0"/>
<path stroke="#71c8bf" d="M810.1,542.2H821.9M816.0,536.3V548.1M811.8,538.0L820.2,546.3M811.8,546.3L820.2,538.0"/>
<path stroke="#74c7b2" d="M814.3,542.2H826.1M820.2,536.3V548.1M816.0,538.0L824.4,546.3M816.0,546.3L824.4,538.0"/>
<path stroke="#79c7a2" d="M818.5,542.2H830.3M824.4,536.3V548.1M820.2,538.0L828.5,546.3M820.2,546.3L828.5,538.0"/>
<path stroke="#79c7a2" d="M822.7,542.2H834.5M828.6,536.3V548.1M824.4,538.0L832.7,546.3M824.4,546.3L832.7,538.0"/>
<path stroke="#7fc793" d="M826.8,542.2H838.6M832.7,536.3V548.1M828.6,538.0L836.9,546.3M828.6,546.3L836.9,538.0"/>
<path stroke="#85c783" d="M831.0,542.2H842.8M836.9,536.3V548.1M832.8,538.0L841.1,546.3M832.8,546.3L841.1,538.0"/>
<path stroke="#7fc793" d="M835.2,542.2H847.0M841.1,536.3V548.1M837.0,538.0L845.3,546.3M837.0,546.3L845.3,538.0"/>
<path stroke="#74c7b2" d="M839.4,542.2H851.2M845.3,536.3V548.1M841.1,538.0L849.5,546.3M841.1,546.3L849.5,538.0"/>
<path stroke="#7fc793" d="M843.6,542.2H855.4M849.5,536.3V548.1M845.3,538.0L853.7,546.3M845.3,546.3L853.7,538.0"/>
<path stroke="#79c7a2" d="M847.8,542.2H859.6M853.7,536.3V548.1M849.5,538.0L857.9,546.3M849.5,546.3L857.9,538.0"/>
<path stroke="#8dc873" d="M852.0,542.2H863.8M857.9,536.3V548.1M853.7,538.0L862.1,546.3M853.7,546.3L862.1,538.0"/>
<path stroke="#94c963" d="M856.2,542.2H868.0M862.1,536.3V548.1M857.9,538.0L866.2,546.3M857.9,546.3L866.2,538.0"/>
<path stroke="#9ccb54" d="M860.4,542.2H872.2M866.3,536.3V548.1M862.1,538.0L870.4,546.3M862.1,546.3L870.4,538.0"/>
<path stroke="#9ccb54" d="M864.6,542.2H876.4M870.5,536.3V548.1M866.3,538.0L874.6,546.3M866.3,546.3L874.6,538.0"/>
<path stroke="#a5ce46" d="M102.1,571.6H113.9M108.0,565.7V577.5M103.8,567.4L112.2,575.8M103.8,575.8L112.2,567.4"/>
<path stroke="#94c963" d="M106.3,571.6H118.1M112.2,565.7V577.5M108.0,567.4L116.4,575.8M108.0,575.8L116.4,567.4"/>
<path stroke="#9ccb54" d="M110.5,571.6H122.3M116.4,565.7V577.5M112.2,567.4L120.6,575.8M112.2,575.8L120.6,567.4"/>
<path stroke="#94c963" d="M114.7,571.6H126.5M120.6,565.7V577.5M116.4,567.4L124.7,575.8M116.4,575.8L124.7,567.4"/>
<path stroke="#94c963" d="M118.9,571.6H130.7M124.8,565.7V577.5M120.6,567.4L128.9,575.8M120.6,575.8L128.9,567.4"/>
<path stroke="#8dc873" d="M123.0,571.6H134.8M128.9,565.7V577.5M124.8,567.4L133.1,575.8M124.8,575.8L133.1,567.4"/>
<path stroke="#8dc873" d="M127.2,571.6H139.0M133.1,565.7V577.5M129.0,567.4L137.3,575.8M129.0,575.8L137.3,567.4"/>
<path stroke="#7fc793" d="M131.4,571.6H143.2M137.3,565.7V577.5M133.2,567.4L141.5,575.8M133.2,575.8L141.5,567.4"/>
<path stroke="#7fc793" d="M135.6,571.6H147.4M141.5,565.7V577.5M137.3,567.4L145.7,575.8M137.3,575.8L145.7,567.4"/>
<path stroke="#7fc793" d="M139.8,571.6H151.6M145.7,565.7V577.5M141.5,567.4L149.9,575.8M141.5,575.8L149.9,567.4"/>
<path stroke="#74c7b2" d="M144.0,571.6H155.8M149.9,565.7V577.5M145.7,567.4L154.1,575.8M145.7,575.8L154.1,567.4"/>
<path stroke="#79c7a2" d="M148.2,571.6H160.0M154.1,565.7V577.5M149.9,567.4L158.3,575.8M149.9,575.8L158.3,567.4"/>
<path stroke="#79c7a2" d="M152.4,571.6H164.2M158.3,565.7V577.5M154.1,567.4L162.4,575.8M154.1,575.8L162.4,567.4"/>
<path stroke="#74c7b2" d="M156.6,571.6H168.4M162.5,565.7V577.5M158.3,567.4L166.6,575.8M158.3,575.8L166.6,567.4"/>
<path stroke="#74c7b2" d="M160.8,571.6H172.6M166.7,565.7V577.5M162.5,567.4L170.8,575.8M162.5,575.8L170.8,567.4"/>
<path stroke="#79c7a2" d="M164.9,571.6H176.7M170.8,565.7V577.5M166.7,567.4L175.0,575.8M166.7,575.8L175.0,567.4"/>
<path stroke="#79c7a2" d="M169.1,571.6H180.9M175.0,565.7V577.5M170.9,567.4L179.2,575.8M170.9,575.8L179.2,567.4"/>
<path stroke="#79c7a2" d="M173.3,571.6H185.1M179.2,565.7V577.5M175.0,567.4L183.4,575.8M175.0,575.8L183.4,567.4"/>
<path stroke="#74c7b2" d="M177.5,571.6H189.3M183.4,565.7V577.5M179.2,567.4L187.6,575.8M179.2,575.8L187.6,567.4"/>
<path stroke="#74c7b2" d="M181.7,571.6H193.5M187.6,565.7V577.5M183.4,567.4L191.8,575.8M183.4,575.8L191.8,567.4"/>
<path stroke="#74c7b2" d="M185.9,571.6H197.7M191.8,565.7V577.5M187.6,567.4L196.0,575.8M187.6,575.8L196.0,567.4"/>
<path stroke="#74c7b2" d="M190.1,571.6H201.9M196.0,565.7V577.5M191.8,567.4L200.1,575.8M191.8,575.8L200.1,567.4"/>
<path stroke="#74c7b2" d="M194.3,571.6H206.1M200.2,565.7V577.5M196.0,567.4L204.3,575.8M196.0,575.8L204.3,567.4"/>
<path stroke="#71c8bf" d="M198.5,571.6H210.3M204.4,565.7V577.5M200.2,567.4L208.5,575.8M200.2,575.8L208.5,567.4"/>
<path stroke="#6fc9cc" d="M202.6,571.6H214.4M208.5,565.7V577.5M204.4,567.4L212.7,575.8M204.4,575.8L212.7,567.4"/>
<path stroke="#6fc9cc" d="M206.8,571.6H218.6M212.7,565.7V577.5M208.6,567.4L216.9,575.8M208.6,575.8L216.9,567.4"/>
<path stroke="#6dcad9" d="M211.0,571.6H222.8M216.9,565.7V577.5M212.7,567.4L221.1,575.8M212.7,575.8L221.1,567.4"/>
<path stroke="#6dcad9" d="M215.2,571.6H227.0M221.1,565.7V577.5M216.9,567.4L225.3,575.8M216.9,575.8L225.3,567.4"/>
<path stroke="#6dcad9" d="M219.4,571.6H231.2M225.3,565.7V577.5M221.1,567.4L229.5,575.8M221.1,575.8L229.5,567.4"/>
<path stroke="#6dcad9" d="M223.6,571.6H235.4M229.5,565.7V577.5M225.3,567.4L233.7,575.8M225.3,575.8L233.7,567.4"/>
<path stroke="#6fc9cc" d="M227.8,571.6H239.6M233.7,565.7V577.5M229.5,567.4L237.9,575.8M229.5,575.8L237.9,567.4"/>
<path stroke="#6dcad9" d="M232.0,571.6H243.8M237.9,565.7V577.5M233.7,567.4L242.0,575.8M233.7,575.8L242.0,567.4"/>
<path stroke="#71c8bf" d="M236.2,571.6H248.0M242.1,565.7V577.5M237.9,567.4L246.2,575.8M237.9,575.8L246.2,567.4"/>
<path stroke="#71c8bf" d="M240.3,571.6H252.1M246.2,565.7V577.5M242.1,567.4L250.4,575.8M242.1,575.8L250.4,567.4"/>
<path stroke="#71c8bf" d="M244.5,571.6H256.3M250.4,565.7V577.5M246.3,567.4L254.6,575.8M246.3,575.8L254.6,567.4"/>
<path stroke="#71c8bf" d="M248.7,571.6H260.5M254.6,565.7V577.5M250.5,567.4L258.8,575.8M250.5,575.8L258.8,567.4"/>
<path stroke="#6fc9cc" d="M252.9,571.6H264.7M258.8,565.7V577.5M254.6,567.4L263.0,575.8M254.6,575.8L263.0,567.4"/>
<path stroke="#71c8bf" d="M257.1,571.6H268.9M263.0,565.7V577.5M258.8,567.4L267.2,575.8M258.8,575.8L267.2,567.4"/>
<path stroke="#71c8bf" d="M261.3,571.6H273.1M267.2,565.7V577.5M263.0,567.4L271.4,575.8M263.0,575.8L271.4,567.4"/>
<path stroke="#71c8bf" d="M265.5,571.6H277.3M271.4,565.7V577.5M267.2,567.4L275.6,575.8M267.2,575.8L275.6,567.4"/>
<path stroke="#71c8bf" d="M269.7,571.6H281.5M275.6,565.7V577.5M271.4,567.4L279.7,575.8M271.4,575.8L279.7,567.4"/>
<path stroke="#71c8bf" d="M273.9,571.6H285.7M279.8,565.7V577.5M275.6,567.4L283.9,575.8M275.6,575.8L283.9,567.4"/>
<path stroke="#74c7b2" d="M278.1,571.6H289.9M284.0,565.7V577.5M279.8,567.4L288.1,575.8M279.8,575.8L288.1,567.4"/>
<path stroke="#74c7b2" d="M282.2,571.6H294.0M288.1,565.7V577.5M284.0,567.4L292.3,575.8M284.0,575.8L292.3,567.4"/>
<path stroke="#74c7b2" d="M286.4,571.6H298.2M292.3,565.7V577.5M288.2,567.4L296.5,575.8M288.2,575.8L296.5,567.4"/>
<path stroke="#79c7a2" d="M290.6,571.6H302.4M296.5,565.7V577.5M292.3,567.4L300.7,575.8M292.3,575.8L300.7,567.4"/>
<path stroke="#7fc793" d="M294.8,571.6H306.6M300.7,565.7V577.5M296.5,567.4L304.9,575.8M296.5,575.8L304.9,567.4"/>
<path stroke="#7fc793" d="M299.0,571.6H310.8M304.9,565.7V577.5M300.7,567.4L309.1,575.8M300.7,575.8L309.1,567.4"/>
<path stroke="#85c783" d="M303.2,571.6H315.0M309.1,565.7V577.5M304.9,567.4L313.3,575.8M304.9,575.8L313.3,567.4"/>
<path stroke="#8dc873" d="M307.4,571.6H319.2M313.3,565.7V577.5M309.1,567.4L317.4,575.8M309.1,575.8L317.4,567.4"/>
<path stroke="#9ccb54" d="M311.6,571.6H323.4M317.5,565.7V577.5M313.3,567.4L321.6,575.8M313.3,575.8L321.6,567.4"/>
<path stroke="#a5ce46" d="M315.8,571.6H327.6M321.7,565.7V577.5M317.5,567.4L325.8,575.8M317.5,575.8L325.8,567.4"/>
<path stroke="#a5ce46" d="M319.9,571.6H331.7M325.8,565.7V577.5M321.7,567.4L330.0,575.8M321.7,575.8L330.0,567.4"/>
<path stroke="#a5ce46" d="M324.1,571.6H335.9M330.0,565.7V577.5M325.9,567.4L334.2,575.8M325.9,575.8L334.2,567.4"/>
<path stroke="#bed631" d="M328.3,571.6H340.1M334.2,565.7V577.5M330.0,567.4L338.4,575.8M330.0,575.8L338.4,567.4"/>
<path stroke="#bed631" d="M332.5,571.6H344.3M338.4,565.7V577.5M334.2,567.4L342.6,575.8M334.2,575.8L342.6,567.4"/>
<path stroke="#cfda2a" d="M336.7,571.6H348.5M342.6,565.7V577.5M338.4,567.4L346.8,575.8M338.4,575.8L346.8,567.4"/>
<path stroke="#dbdf26" d="M340.9,571.6H352.7M346.8,565.7V577.5M342.6,567.4L351.0,575.8M342.6,575.8L351.0,567.4"/>
<path stroke="#e5e424" d="M345.1,571.6H356.9M351.0,565.7V577.5M346.8,567.4L355.2,575.8M346.8,575.8L355.2,567.4"/>
<path stroke="#f7e618" d="M349.3,571.6H361.1M355.2,565.7V577.5M351.0,567.4L359.3,575.8M351.0,575.8L359.3,567.4"/>
<path stroke="#efe921" d="M353.5,571.6H365.3M359.4,565.7V577.5M355.2,567.4L363.5,575.8M355.2,575.8L363.5,567.4"/>
<path stroke="#f7e618" d="M357.6,571.6H369.4M363.5,565.7V577.5M359.4,567.4L367.7,575.8M359.4,575.8L367.7,567.4"/>
<path stroke="#f7e618" d="M361.8,571.6H373.6M367.7,565.7V577.5M363.6,567.4L371.9,575.8M363.6,575.8L371.9,567.4"/>
<path stroke="#fdd907" d="M366.0,571.6H377.8M371.9,565.7V577.5M367.8,567.4L376.1,575.8M367.8,575.8L376.1,567.4"/>
<path stroke="#fec809" d="M370.2,571.6H382.0M376.1,565.7V577.5M371.9,567.4L380.3,575.8M371.9,575.8L380.3,567.4"/>
<path stroke="#fdd907" d="M374.4,571.6H386.2M380.3,565.7V577.5M376.1,567.4L384.5,575.8M376.1,575.8L384.5,567.4"/>
<path stroke="#fec809" d="M378.6,571.6H390.4M384.5,565.7V577.5M380.3,567.4L388.7,575.8M380.3,575.8L388.7,567.4"/>
<path stroke="#fcb514" d="M382.8,571.6H394.6M388.7,565.7V577.5M384.5,567.4L392.9,575.8M384.5,575.8L392.9,567.4"/>
<path stroke="#fec809" d="M387.0,571.6H398.8M392.9,565.7V577.5M388.7,567.4L397.0,575.8M388.7,575.8L397.0,567.4"/>
<path stroke="#fcb514" d="M391.2,571.6H403.0M397.1,565.7V577.5M392.9,567.4L401.2,575.8M392.9,575.8L401.2,567.4"/>
<path stroke="#fbaa17" d="M395.4,571.6H407.2M401.3,565.7V577.5M397.1,567.4L405.4,575.8M397.1,575.8L405.4,567.4"/>
<path stroke="#f99e1a" d="M399.5,571.6H411.3M405.4,565.7V577.5M401.3,567.4L409.6,575.8M401.3,575.8L409.6,567.4"/>
<path stroke="#fbaa17" d="M403.7,571.6H415.5M409.6,565.7V577.5M405.5,567.4L413.8,575.8M405.5,575.8L413.8,567.4"/>
<path stroke="#fbaa17" d="M407.9,571.6H419.7M413.8,565.7V577.5M409.6,567.4L418.0,575.8M409.6,575.8L418.0,567.4"/>
<path stroke="#fbaa17" d="M412.1,571.6H423.9M418.0,565.7V577.5M413.8,567.4L422.2,575.8M413.8,575.8L422.2,567.4"/>
<path stroke="#fbaa17" d="M416.3,571.6H428.1M422.2,565.7V577.5M418.0,567.4L426.4,575.8M418.0,575.8L426.4,567.4"/>
<path stroke="#fec809" d="M420.5,571.6H432.3M426.4,565.7V577.5M422.2,567.4L430.6,575.8M422.2,575.8L430.6,567.4"/>
<path stroke="#fec809" d="M424.7,571.6H436.5M430.6,565.7V577.5M426.4,567.4L434.7,575.8M426.4,575.8L434.7,567.4"/>
<path stroke="#fec809" d="M428.9,571.6H440.7M434.8,565.7V577.5M430.6,567.4L438.9,575.8M430.6,575.8L438.9,567.4"/>
<path stroke="#fcb514" d="M433.1,571.6H444.9M439.0,565.7V577.5M434.8,567.4L443.1,575.8M434.8,575.8L443.1,567.4"/>
<path stroke="#fcb514" d="M437.2,571.6H449.0M443.1,565.7V577.5M439.0,567.4L447.3,575.8M439.0,575.8L447.3,567.4"/>
<path stroke="#fec809" d="M441.4,571.6H453.2M447.3,565.7V577.5M443.2,567.4L451.5,575.8M443.2,575.8L451.5,567.4"/>
<path stroke="#fec809" d="M445.6,571.6H457.4M451.5,565.7V577.5M447.3,567.4L455.7,575.8M447.3,575.8L455.7,567.4"/>
<path stroke="#fec809" d="M449.8,571.6H461.6M455.7,565.7V577.5M451.5,567.4L459.9,575.8M451.5,575.8L459.9,567.4"/>
<path stroke="#f7e618" d="M454.0,571.6H465.8M459.9,565.7V577.5M455.7,567.4L464.1,575.8M455.7,575.8L464.1,567.4"/>
<path stroke="#fdd907" d="M458.2,571.6H470.0M464.1,565.7V577.5M459.9,567.4L468.3,575.8M459.9,575.8L468.3,567.4"/>
<path stroke="#fdd907" d="M462.4,571.6H474.2M468.3,565.7V577.5M464.1,567.4L472.5,575.8M464.1,575.8L472.5,567.4"/>
<path stroke="#fdd907" d="M466.6,571.6H478.4M472.5,565.7V577.5M468.3,567.4L476.6,575.8M468.3,575.8L476.6,567.4"/>
<path stroke="#fdd907" d="M470.8,571.6H482.6M476.7,565.7V577.5M472.5,567.4L480.8,575.8M472.5,575.8L480.8,567.4"/>
<path stroke="#fdd907" d="M474.9,571.6H486.7M480.8,565.7V577.5M476.7,567.4L485.0,575.8M476.7,575.8L485.0,567.4"/>
<path stroke="#fdd907" d="M479.1,571.6H490.9M485.0,565.7V577.5M480.9,567.4L489.2,575.8M480.9,575.8L489.2,567.4"/>
<path stroke="#fdd907" d="M483.3,571.6H495.1M489.2,565.7V577.5M485.1,567.4L493.4,575.8M485.1,575.8L493.4,567.4"/>
<path stroke="#f7e618" d="M487.5,571.6H499.3M493.4,565.7V577.5M489.2,567.4L497.6,575.8M489.2,575.8L497.6,567.4"/>
<path stroke="#f7e618" d="M491.7,571.6H503.5M497.6,565.7V577.5M493.4,567.4L501.8,575.8M493.4,575.8L501.8,567.4"/>
<path stroke="#fdd907" d="M495.9,571.6H507.7M501.8,565.7V577.5M497.6,567.4L506.0,575.8M497.6,575.8L506.0,567.4"/>
<path stroke="#f7e618" d="M500.1,571.6H511.9M506.0,565.7V577.5M501.8,567.4L510.2,575.8M501.8,575.8L510.2,567.4"/>
<path stroke="#f7e618" d="M504.3,571.6H516.1M510.2,565.7V577.5M506.0,567.4L514.3,575.8M506.0,575.8L514.3,567.4"/>
<path stroke="#e5e424" d="M508.5,571.6H520.3M514.4,565.7V577.5M510.2,567.4L518.5,575.8M510.2,575.8L518.5,567.4"/>
<path stroke="#efe921" d="M512.7,571.6H524.5M518.6,565.7V577.5M514.4,567.4L522.7,575.8M514.4,575.8L522.7,567.4"/>
<path stroke="#e5e424" d="M516.8,571.6H528.6M522.7,565.7V577.5M518.6,567.4L526.9,575.8M518.6,575.8L526.9,567.4"/>
<path stroke="#dbdf26" d="M521.0,571.6H532.8M526.9,565.7V577.5M522.8,567.4L531.1,575.8M522.8,575.8L531.1,567.4"/>
<path stroke="#bed631" d="M525.2,571.6H537.0M531.1,565.7V577.5M526.9,567.4L535.3,575.8M526.9,575.8L535.3,567.4"/>
<path stroke="#e5e424" d="M529.4,571.6H541.2M535.3,565.7V577.5M531.1,567.4L539.5,575.8M531.1,575.8L539.5,567.4"/>
<path stroke="#dbdf26" d="M533.6,571.6H545.4M539.5,565.7V577.5M535.3,567.4L543.7,575.8M535.3,575.8L543.7,567.4"/>
<path stroke="#dbdf26" d="M537.8,571.6H549.6M543.7,565.7V577.5M539.5,567.4L547.9,575.8M539.5,575.8L547.9,567.4"/>
<path stroke="#e5e424" d="M542.0,571.6H553.8M547.9,565.7V577.5M543.7,567.4L552.0,575.8M543.7,575.8L552.0,567.4"/>
<path stroke="#dbdf26" d="M546.2,571.6H558.0M552.1,565.7V577.5M547.9,567.4L556.2,575.8M547.9,575.8L556.2,567.4"/>
<path stroke="#cfda2a" d="M550.4,571.6H562.2M556.3,565.7V577.5M552.1,567.4L560.4,575.8M552.1,575.8L560.4,567.4"/>
<path stroke="#bed631" d="M554.5,571.6H566.3M560.4,565.7V577.5M556.3,567.4L564.6,575.8M556.3,575.8L564.6,567.4"/>
<path stroke="#a5ce46" d="M558.7,571.6H570.5M564.6,565.7V577.5M560.5,567.4L568.8,575.8M560.5,575.8L568.8,567.4"/>
<path stroke="#b0d13a" d="M562.9,571.6H574.7M568.8,565.7V577.5M564.6,567.4L573.0,575.8M564.6,575.8L573.0,567.4"/>
<path stroke="#9ccb54" d="M567.1,571.6H578.9M573.0,565.7V577.5M568.8,567.4L577.2,575.8M568.8,575.8L577.2,567.4"/>
<path stroke="#a5ce46" d="M571.3,571.6H583.1M577.2,565.7V577.5M573.0,567.4L581.4,575.8M573.0,575.8L581.4,567.4"/>
<path stroke="#a5ce46" d="M575.5,571.6H587.3M581.4,565.7V577.5M577.2,567.4L585.6,575.8M577.2,575.8L585.6,567.4"/>
<path stroke="#a5ce46" d="M579.7,571.6H591.5M585.6,565.7V577.5M581.4,567.4L589.8,575.8M581.4,575.8L589.8,567.4"/>
<path stroke="#94c963" d="M583.9,571.6H595.7M589.8,565.7V577.5M585.6,567.4L593.9,575.8M585.6,575.8L593.9,567.4"/>
<path stroke="#94c963" d="M588.1,571.6H599.9M594.0,565.7V577.5M589.8,567.4L598.1,575.8M589.8,575.8L598.1,567.4"/>
<path stroke="#8dc873" d="M592.2,571.6H604.0M598.1,565.7V577.5M594.0,567.4L602.3,575.8M594.0,575.8L602.3,567.4"/>
<path stroke="#85c783" d="M596.4,571.6H608.2M602.3,565.7V577.5M598.2,567.4L606.5,575.8M598.2,575.8L606.5,567.4"/>
<path stroke="#7fc793" d="M600.6,571.6H612.4M606.5,565.7V577.5M602.4,567.4L610.7,575.8M602.4,575.8L610.7,567.4"/>
<path stroke="#7fc793" d="M604.8,571.6H616.6M610.7,565.7V577.5M606.5,567.4L614.9,575.8M606.5,575.8L614.9,567.4"/>
<path stroke="#79c7a2" d="M609.0,571.6H620.8M614.9,565.7V577.5M610.7,567.4L619.1,575.8M610.7,575.8L619.1,567.4"/>
<path stroke="#79c7a2" d="M613.2,571.6H625.0M619.1,565.7V577.5M614.9,567.4L623.3,575.8M614.9,575.8L623.3,567.4"/>
<path stroke="#79c7a2" d="M617.4,571.6H629.2M623.3,565.7V577.5M619.1,567.4L627.5,575.8M619.1,575.8L627.5,567.4"/>
<path stroke="#79c7a2" d="M621.6,571.6H633.4M627.5,565.7V577.5M623.3,567.4L631.6,575.8M623.3,575.8L631.6,567.4"/>
<path stroke="#74c7b2" d="M625.8,571.6H637.6M631.7,565.7V577.5M627.5,567.4L635.8,575.8M627.5,575.8L635.8,567.4"/>
<path stroke="#71c8bf" d="M630.0,571.6H641.8M635.9,565.7V577.5M631.7,567.4L640.0,575.8M631.7,575.8L640.0,567.4"/>
<path stroke="#74c7b2" d="M634.1,571.6H645.9M640.0,565.7V577.5M635.9,567.4L644.2,575.8M635.9,575.8L644.2,567.4"/>
<path stroke="#6fc9cc" d="M638.3,571.6H650.1M644.2,565.7V577.5M640.1,567.4L648.4,575.8M640.1,575.8L648.4,567.4"/>
<path stroke="#6fc9cc" d="M642.5,571.6H654.3M648.4,565.7V577.5M644.2,567.4L652.6,575.8M644.2,575.8L652.6,567.4"/>
<path stroke="#6fc9cc" d="M646.7,571.6H658.5M652.6,565.7V577.5M648.4,567.4L656.8,575.8M648.4,575.8L656.8,567.4"/>
<path stroke="#6fc9cc" d="M650.9,571.6H662.7M656.8,565.7V577.5M652.6,567.4L661.0,575.8M652.6,575.8L661.0,567.4"/>
<path stroke="#6dcad9" d="M655.1,571.6H666.9M661.0,565.7V577.5M656.8,567.4L665.2,575.8M656.8,575.8L665.2,567.4"/>
<path stroke="#5fc9e3" d="M659.3,571.6H671.1M665.2,565.7V577.5M661.0,567.4L669.3,575.8M661.0,575.8L669.3,567.4"/>
<path stroke="#5fc9e3" d="M663.5,571.6H675.3M669.4,565.7V577.5M665.2,567.4L673.5,575.8M665.2,575.8L673.5,567.4"/>
<path stroke="#33c4f3" d="M667.7,571.6H679.5M673.6,565.7V577.5M669.4,567.4L677.7,575.8M669.4,575.8L677.7,567.4"/>
<path stroke="#33c4f3" d="M671.8,571.6H683.6M677.7,565.7V577.5M673.6,567.4L681.9,575.8M673.6,575.8L681.9,567.4"/>
<path stroke="#3ab5e7" d="M676.0,571.6H687.8M681.9,565.7V577.5M677.8,567.4L686.1,575.8M677.8,575.8L686.1,567.4"/>
<path stroke="#33c4f3" d="M680.2,571.6H692.0M686.1,565.7V577.5M681.9,567.4L690.3,575.8M681.9,575.8L690.3,567.4"/>
<path stroke="#3ab5e7" d="M684.4,571.6H696.2M690.3,565.7V577.5M686.1,567.4L694.5,575.8M686.1,575.8L694.5,567.4"/>
<path stroke="#33c4f3" d="M688.6,571.6H700.4M694.5,565.7V577.5M690.3,567.4L698.7,575.8M690.3,575.8L698.7,567.4"/>
<path stroke="#33c4f3" d="M692.8,571.6H704.6M698.7,565.7V577.5M694.5,567.4L702.9,575.8M694.5,575.8L702.9,567.4"/>
<path stroke="#48c7ec" d="M697.0,571.6H708.8M702.9,565.7V577.5M698.7,567.4L707.1,575.8M698.7,575.8L707.1,567.4"/>
<path stroke="#33c4f3" d="M701.2,571.6H713.0M707.1,565.7V577.5M702.9,567.4L711.2,575.8M702.9,575.8L711.2,567.4"/>
<path stroke="#5fc9e3" d="M705.4,571.6H717.2M711.3,565.7V577.5M707.1,567.4L715.4,575.8M707.1,575.8L715.4,567.4"/>
<path stroke="#5fc9e3" d="M709.5,571.6H721.3M715.4,565.7V577.5M711.3,567.4L719.6,575.8M711.3,575.8L719.6,567.4"/>
<path stroke="#6dcad9" d="M713.7,571.6H725.5M719.6,565.7V577.5M715.5,567.4L723.8,575.8M715.5,575.8L723.8,567.4"/>
<path stroke="#5fc9e3" d="M717.9,571.6H729.7M723.8,565.7V577.5M719.7,567.4L728.0,575.8M719.7,575.8L728.0,567.4"/>
<path stroke="#6dcad9" d="M722.1,571.6H733.9M728.0,565.7V577.5M723.8,567.4L732.2,575.8M723.8,575.8L732.2,567.4"/>
<path stroke="#6fc9cc" d="M726.3,571.6H738.1M732.2,565.7V577.5M728.0,567.4L736.4,575.8M728.0,575.8L736.4,567.4"/>
<path stroke="#6dcad9" d="M730.5,571.6H742.3M736.4,565.7V577.5M732.2,567.4L740.6,575.8M732.2,575.8L740.6,567.4"/>
<path stroke="#6dcad9" d="M734.7,571.6H746.5M740.6,565.7V577.5M736.4,567.4L744.8,575.8M736.4,575.8L744.8,567.4"/>
<path stroke="#6fc9cc" d="M738.9,571.6H750.7M744.8,565.7V577.5M740.6,567.4L748.9,575.8M740.6,575.8L748.9,567.4"/>
<path stroke="#6fc9cc" d="M743.1,571.6H754.9M749.0,565.7V577.5M744.8,567.4L753.1,575.8M744.8,575.8L753.1,567.4"/>
<path stroke="#6fc9cc" d="M747.3,571.6H759.1M753.2,565.7V577.5M749.0,567.4L757.3,575.8M749.0,575.8L757.3,567.4"/>
<path stroke="#71c8bf" d="M751.4,571.6H763.2M757.3,565.7V577.5M753.2,567.4L761.5,575.8M753.2,575.8L761.5,567.4"/>
<path stroke="#71c8bf" d="M755.6,571.6H767.4M761.5,565.7V577.5M757.4,567.4L765.7,575.8M757.4,575.8L765.7,567.4"/>
<path stroke="#71c8bf" d="M759.8,571.6H771.6M765.7,565.7V577.5M761.5,567.4L769.9,575.8M761.5,575.8L769.9,567.4"/>
<path stroke="#6fc9cc" d="M764.0,571.6H775.8M769.9,565.7V577.5M765.7,567.4L774.1,575.8M765.7,575.8L774.1,567.4"/>
<path stroke="#71c8bf" d="M768.2,571.6H780.0M774.1,565.7V577.5M769.9,567.4L778.3,575.8M769.9,575.8L778.3,567.4"/>
<path stroke="#74c7b2" d="M772.4,571.6H784.2M778.3,565.7V577.5M774.1,567.4L782.5,575.8M774.1,575.8L782.5,567.4"/>
<path stroke="#79c7a2" d="M776.6,571.6H788.4M782.5,565.7V577.5M778.3,567.4L786.6,575.8M778.3,575.8L786.6,567.4"/>
<path stroke="#79c7a2" d="M780.8,571.6H792.6M786.7,565.7V577.5M782.5,567.4L790.8,575.8M782.5,575.8L790.8,567.4"/>
<path stroke="#79c7a2" d="M785.0,571.6H796.8M790.9,565.7V577.5M786.7,567.4L795.0,575.8M786.7,575.8L795.0,567.4"/>
<path stroke="#7fc793" d="M789.1,571.6H800.9M795.0,565.7V577.5M790.9,567.4L799.2,575.8M790.9,575.8L799.2,567.4"/>
<path stroke="#7fc793" d="M793.3,571.6H805.1M799.2,565.7V577.5M795.1,567.4L803.4,575.8M795.1,575.8L803.4,567.4"/>
<path stroke="#7fc793" d="M797.5,571.6H809.3M803.4,565.7V577.5M799.2,567.4L807.6,575.8M799.2,575.8L807.6,567.4"/>
<path stroke="#74c7b2" d="M801.7,571.6H813.5M807.6,565.7V577.5M803.4,567.4L811.8,575.8M803.4,575.8L811.8,567.4"/>
<path stroke="#79c7a2" d="M805.9,571.6H817.7M811.8,565.7V577.5M807.6,567.4L816.0,575.8M807.6,575.8L816.0,567.4"/>
<path stroke="#74c7b2" d="M810.1,571.6H821.9M816.0,565.7V577.5M811.8,567.4L820.2,575.8M811.8,575.8L820.2,567.4"/>
<path stroke="#74c7b2" d="M814.3,571.6H826.1M820.2,565.7V577.5M816.0,567.4L824.4,575.8M816.0,575.8L824.4,567.4"/>
<path stroke="#79c7a2" d="M818.5,571.6H830.3M824.4,565.7V577.5M820.2,567.4L828.5,575.8M820.2,575.8L828.5,567.4"/>
<path stroke="#74c7b2" d="M822.7,571.6H834.5M828.6,565.7V577.5M824.4,567.4L832.7,575.8M824.4,575.8L832.7,567.4"/>
<path stroke="#74c7b2" d="M826.8,571.6H838.6M832.7,565.7V577.5M828.6,567.4L836.9,575.8M828.6,575.8L836.9,567.4"/>
<path stroke="#79c7a2" d="M831.0,571.6H842.8M836.9,565.7V577.5M832.8,567.4L841.1,575.8M832.8,575.8L841.1,567.4"/>
<path stroke="#79c7a2" d="M835.2,571.6H847.0M841.1,565.7V577.5M837.0,567.4L845.3,575.8M837.0,575.8L845.3,567.4"/>
<path stroke="#79c7a2" d="M839.4,571.6H851.2M845.3,565.7V577.5M841.1,567.4L849.5,575.8M841.1,575.8L849.5,567.4"/>
<path stroke="#74c7b2" d="M843.6,571.6H855.4M849.5,565.7V577.5M845.3,567.4L853.7,575.8M845.3,575.8L853.7,567.4"/>
<path stroke="#7fc793" d="M847.8,571.6H859.6M853.7,565.7V577.5M849.5,567.4L857.9,575.8M849.5,575.8L857.9,567.4"/>
<path stroke="#85c783" d="M852.0,571.6H863.8M857.9,565.7V577.5M853.7,567.4L862.1,575.8M853.7,575.8L862.1,567.4"/>
<path stroke="#85c783" d="M856.2,571.6H868.0M862.1,565.7V577.5M857.9,567.4L866.2,575.8M857.9,575.8L866.2,567.4"/>
<path stroke="#94c963" d="M860.4,571.6H872.2M866.3,565.7V577.5M862.1,567.4L870.4,575.8M862.1,575.8L870.4,567.4"/>
<path stroke="#8dc873" d="M864.6,571.6H876.4M870.5,565.7V577.5M866.3,567.4L874.6,575.8M866.3,575.8L874.6,567.4"/>
<path stroke="#a5ce46" d="M102.1,601.1H113.9M108.0,595.2V607.0M103.8,596.9L112.2,605.2M103.8,605.2L112.2,596.9"/>
<path stroke="#9ccb54" d="M106.3,601.1H118.1M112.2,595.2V607.0M108.0,596.9L116.4,605.2M108.0,605.2L116.4,596.9"/>
<path stroke="#9ccb54" d="M110.5,601.1H122.3M116.4,595.2V607.0M112.2,596.9L120.6,605.2M112.2,605.2L120.6,596.9"/>
<path stroke="#94c963" d="M114.7,601.1H126.5M120.6,595.2V607.0M116.4,596.9L124.7,605.2M116.4,605.2L124.7,596.9"/>
<path stroke="#94c963" d="M118.9,601.1H130.7M124.8,595.2V607.0M120.6,596.9L128.9,605.2M120.6,605.2L128.9,596.9"/>
<path stroke="#94c963" d="M123.0,601.1H134.8M128.9,595.2V607.0M124.8,596.9L133.1,605.2M124.8,605.2L133.1,596.9"/>
<path stroke="#8dc873" d="M127.2,601.1H139.0M133.1,595.2V607.0M129.0,596.9L137.3,605.2M129.0,605.2L137.3,596.9"/>
<path stroke="#94c963" d="M131.4,601.1H143.2M137.3,595.2V607.0M133.2,596.9L141.5,605.2M133.2,605.2L141.5,596.9"/>
<path stroke="#85c783" d="M135.6,601.1H147.4M141.5,595.2V607.0M137.3,596.9L145.7,605.2M137.3,605.2L145.7,596.9"/>
<path stroke="#8dc873" d="M139.8,601.1H151.6M145.7,595.2V607.0M141.5,596.9L149.9,605.2M141.5,605.2L149.9,596.9"/>
<path stroke="#7fc793" d="M144.0,601.1H155.8M149.9,595.2V607.0M145.7,596.9L154.1,605.2M145.7,605.2L154.1,596.9"/>
<path stroke="#7fc793" d="M148.2,601.1H160.0M154.1,595.2V607.0M149.9,596.9L158.3,605.2M149.9,605.2L158.3,596.9"/>
<path stroke="#7fc793" d="M152.4,601.1H164.2M158.3,595.2V607.0M154.1,596.9L162.4,605.2M154.1,605.2L162.4,596.9"/>
<path stroke="#79c7a2" d="M156.6,601.1H168.4M162.5,595.2V607.0M158.3,596.9L166.6,605.2M158.3,605.2L166.6,596.9"/>
<path stroke="#79c7a2" d="M160.8,601.1H172.6M166.7,595.2V607.0M162.5,596.9L170.8,605.2M162.5,605.2L170.8,596.9"/>
<path stroke="#79c7a2" d="M164.9,601.1H176.7M170.8,595.2V607.0M166.7,596.9L175.0,605.2M166.7,605.2L175.0,596.9"/>
<path stroke="#79c7a2" d="M169.1,601.1H180.9M175.0,595.2V607.0M170.9,596.9L179.2,605.2M170.9,605.2L179.2,596.9"/>
<path stroke="#74c7b2" d="M173.3,601.1H185.1M179.2,595.2V607.0M175.0,596.9L183.4,605.2M175.0,605.2L183.4,596.9"/>
<path stroke="#74c7b2" d="M177.5,601.1H189.3M183.4,595.2V607.0M179.2,596.9L187.6,605.2M179.2,605.2L187.6,596.9"/>
<path stroke="#71c8bf" d="M181.7,601.1H193.5M187.6,595.2V607.0M183.4,596.9L191.8,605.2M183.4,605.2L191.8,596.9"/>
<path stroke="#6fc9cc" d="M185.9,601.1H197.7M191.8,595.2V607.0M187.6,596.9L196.0,605.2M187.6,605.2L196.0,596.9"/>
<path stroke="#6fc9cc" d="M190.1,601.1H201.9M196.0,595.2V607.0M191.8,596.9L200.1,605.2M191.8,605.2L200.1,596.9"/>
<path stroke="#6fc9cc" d="M194.3,601.1H206.1M200.2,595.2V607.0M196.0,596.9L204.3,605.2M196.0,605.2L204.3,596.9"/>
<path stroke="#6dcad9" d="M198.5,601.1H210.3M204.4,595.2V607.0M200.2,596.9L208.5,605.2M200.2,605.2L208.5,596.9"/>
<path stroke="#5fc9e3" d="M202.6,601.1H214.4M208.5,595.2V607.0M204.4,596.9L212.7,605.2M204.4,605.2L212.7,596.9"/>
<path stroke="#5fc9e3" d="M206.8,601.1H218.6M212.7,595.2V607.0M208.6,596.9L216.9,605.2M208.6,605.2L216.9,596.9"/>
<path stroke="#5fc9e3" d="M211.0,601.1H222.8M216.9,595.2V607.0M212.7,596.9L221.1,605.2M212.7,605.2L221.1,596.9"/>
<path stroke="#6dcad9" d="M215.2,601.1H227.0M221.1,595.2V607.0M216.9,596.9L225.3,605.2M216.9,605.2L225.3,596.9"/>
<path stroke="#6dcad9" d="M219.4,601.1H231.2M225.3,595.2V607.0M221.1,596.9L229.5,605.2M221.1,605.2L229.5,596.9"/>
<path stroke="#6fc9cc" d="M223.6,601.1H235.4M229.5,595.2V607.0M225.3,596.9L233.7,605.2M225.3,605.2L233.7,596.9"/>
<path stroke="#6fc9cc" d="M227.8,601.1H239.6M233.7,595.2V607.0M229.5,596.9L237.9,605.2M229.5,605.2L237.9,596.9"/>
<path stroke="#6dcad9" d="M232.0,601.1H243.8M237.9,595.2V607.0M233.7,596.9L242.0,605.2M233.7,605.2L242.0,596.9"/>
<path stroke="#6dcad9" d="M236.2,601.1H248.0M242.1,595.2V607.0M237.9,596.9L246.2,605.2M237.9,605.2L246.2,596.9"/>
<path stroke="#6dcad9" d="M240.3,601.1H252.1M246.2,595.2V607.0M242.1,596.9L250.4,605.2M242.1,605.2L250.4,596.9"/>
<path stroke="#6fc9cc" d="M244.5,601.1H256.3M250.4,595.2V607.0M246.3,596.9L254.6,605.2M246.3,605.2L254.6,596.9"/>
<path stroke="#6dcad9" d="M248.7,601.1H260.5M254.6,595.2V607.0M250.5,596.9L258.8,605.2M250.5,605.2L258.8,596.9"/>
<path stroke="#6fc9cc" d="M252.9,601.1H264.7M258.8,595.2V607.0M254.6,596.9L263.0,605.2M254.6,605.2L263.0,596.9"/>
<path stroke="#71c8bf" d="M257.1,601.1H268.9M263.0,595.2V607.0M258.8,596.9L267.2,605.2M258.8,605.2L267.2,596.9"/>
<path stroke="#71c8bf" d="M261.3,601.1H273.1M267.2,595.2V607.0M263.0,596.9L271.4,605.2M263.0,605.2L271.4,596.9"/>
<path stroke="#71c8bf" d="M265.5,601.1H277.3M271.4,595.2V607.0M267.2,596.9L275.6,605.2M267.2,605.2L275.6,596.9"/>
<path stroke="#74c7b2" d="M269.7,601.1H281.5M275.6,595.2V607.0M271.4,596.9L279.7,605.2M271.4,605.2L279.7,596.9"/>
<path stroke="#74c7b2" d="M273.9,601.1H285.7M279.8,595.2V607.0M275.6,596.9L283.9,605.2M275.6,605.2L283.9,596.9"/>
<path stroke="#79c7a2" d="M278.1,601.1H289.9M284.0,595.2V607.0M279.8,596.9L288.1,605.2M279.8,605.2L288.1,596.9"/>
<path stroke="#74c7b2" d="M282.2,601.1H294.0M288.1,595.2V607.0M284.0,596.9L292.3,605.2M284.0,605.2L292.3,596.9"/>
<path stroke="#74c7b2" d="M286.4,601.1H298.2M292.3,595.2V607.0M288.2,596.9L296.5,605.2M288.2,605.2L296.5,596.9"/>
<path stroke="#79c7a2" d="M290.6,601.1H302.4M296.5,595.2V607.0M292.3,596.9L300.7,605.2M292.3,605.2L300.7,596.9"/>
<path stroke="#79c7a2" d="M294.8,601.1H306.6M300.7,595.2V607.0M296.5,596.9L304.9,605.2M296.5,605.2L304.9,596.9"/>
<path stroke="#79c7a2" d="M299.0,601.1H310.8M304.9,595.2V607.0M300.7,596.9L309.1,605.2M300.7,605.2L309.1,596.9"/>
<path stroke="#85c783" d="M303.2,601.1H315.0M309.1,595.2V607.0M304.9,596.9L313.3,605.2M304.9,605.2L313.3,596.9"/>
<path stroke="#8dc873" d="M307.4,601.1H319.2M313.3,595.2V607.0M309.1,596.9L317.4,605.2M309.1,605.2L317.4,596.9"/>
<path stroke="#94c963" d="M311.6,601.1H323.4M317.5,595.2V607.0M313.3,596.9L321.6,605.2M313.3,605.2L321.6,596.9"/>
<path stroke="#9ccb54" d="M315.8,601.1H327.6M321.7,595.2V607.0M317.5,596.9L325.8,605.2M317.5,605.2L325.8,596.9"/>
<path stroke="#9ccb54" d="M319.9,601.1H331.7M325.8,595.2V607.0M321.7,596.9L330.0,605.2M321.7,605.2L330.0,596.9"/>
<path stroke="#a5ce46" d="M324.1,601.1H335.9M330.0,595.2V607.0M325.9,596.9L334.2,605.2M325.9,605.2L334.2,596.9"/>
<path stroke="#a5ce46" d="M328.3,601.1H340.1M334.2,595.2V607.0M330.0,596.9L338.4,605.2M330.0,605.2L338.4,596.9"/>
<path stroke="#bed631" d="M332.5,601.1H344.3M338.4,595.2V607.0M334.2,596.9L342.6,605.2M334.2,605.2L342.6,596.9"/>
<path stroke="#cfda2a" d="M336.7,601.1H348.5M342.6,595.2V607.0M338.4,596.9L346.8,605.2M338.4,605.2L346.8,596.9"/>
<path stroke="#dbdf26" d="M340.9,601.1H352.7M346.8,595.2V607.0M342.6,596.9L351.0,605.2M342.6,605.2L351.0,596.9"/>
<path stroke="#e5e424" d="M345.1,601.1H356.9M351.0,595.2V607.0M346.8,596.9L355.2,605.2M346.8,605.2L355.2,596.9"/>
<path stroke="#e5e424" d="M349.3,601.1H361.1M355.2,595.2V607.0M351.0,596.9L359.3,605.2M351.0,605.2L359.3,596.9"/>
<path stroke="#efe921" d="M353.5,601.1H365.3M359.4,595.2V607.0M355.2,596.9L363.5,605.2M355.2,605.2L363.5,596.9"/>
<path stroke="#efe921" d="M357.6,601.1H369.4M363.5,595.2V607.0M359.4,596.9L367.7,605.2M359.4,605.2L367.7,596.9"/>
<path stroke="#f7e618" d="M361.8,601.1H373.6M367.7,595.2V607.0M363.6,596.9L371.9,605.2M363.6,605.2L371.9,596.9"/>
<path stroke="#f7e618" d="M366.0,601.1H377.8M371.9,595.2V607.0M367.8,596.9L376.1,605.2M367.8,605.2L376.1,596.9"/>
<path stroke="#f7e618" d="M370.2,601.1H382.0M376.1,595.2V607.0M371.9,596.9L380.3,605.2M371.9,605.2L380.3,596.9"/>
<path stroke="#fdd907" d="M374.4,601.1H386.2M380.3,595.2V607.0M376.1,596.9L384.5,605.2M376.1,605.2L384.5,596.9"/>
<path stroke="#fdd907" d="M378.6,601.1H390.4M384.5,595.2V607.0M380.3,596.9L388.7,605.2M380.3,605.2L388.7,596.9"/>
<path stroke="#fec809" d="M382.8,601.1H394.6M388.7,595.2V607.0M384.5,596.9L392.9,605.2M384.5,605.2L392.9,596.9"/>
<path stroke="#fec809" d="M387.0,601.1H398.8M392.9,595.2V607.0M388.7,596.9L397.0,605.2M388.7,605.2L397.0,596.9"/>
<path stroke="#fec809" d="M391.2,601.1H403.0M397.1,595.2V607.0M392.9,596.9L401.2,605.2M392.9,605.2L401.2,596.9"/>
<path stroke="#fcb514" d="M395.4,601.1H407.2M401.3,595.2V607.0M397.1,596.9L405.4,605.2M397.1,605.2L405.4,596.9"/>
<path stroke="#fbaa17" d="M399.5,601.1H411.3M405.4,595.2V607.0M401.3,596.9L409.6,605.2M401.3,605.2L409.6,596.9"/>
<path stroke="#fbaa17" d="M403.7,601.1H415.5M409.6,595.2V607.0M405.5,596.9L413.8,605.2M405.5,605.2L413.8,596.9"/>
<path stroke="#fcb514" d="M407.9,601.1H419.7M413.8,595.2V607.0M409.6,596.9L418.0,605.2M409.6,605.2L418.0,596.9"/>
<path stroke="#fcb514" d="M412.1,601.1H423.9M418.0,595.2V607.0M413.8,596.9L422.2,605.2M413.8,605.2L422.2,596.9"/>
<path stroke="#fbaa17" d="M416.3,601.1H428.1M422.2,595.2V607.0M418.0,596.9L426.4,605.2M418.0,605.2L426.4,596.9"/>
<path stroke="#fec809" d="M420.5,601.1H432.3M426.4,595.2V607.0M422.2,596.9L430.6,605.2M422.2,605.2L430.6,596.9"/>
<path stroke="#fec809" d="M424.7,601.1H436.5M430.6,595.2V607.0M426.4,596.9L434.7,605.2M426.4,605.2L434.7,596.9"/>
<path stroke="#fec809" d="M428.9,601.1H440.7M434.8,595.2V607.0M430.6,596.9L438.9,605.2M430.6,605.2L438.9,596.9"/>
<path stroke="#fcb514" d="M433.1,601.1H444.9M439.0,595.2V607.0M434.8,596.9L443.1,605.2M434.8,605.2L443.1,596.9"/>
<path stroke="#fcb514" d="M437.2,601.1H449.0M443.1,595.2V607.0M439.0,596.9L447.3,605.2M439.0,605.2L447.3,596.9"/>
<path stroke="#fec809" d="M441.4,601.1H453.2M447.3,595.2V607.0M443.2,596.9L451.5,605.2M443.2,605.2L451.5,596.9"/>
<path stroke="#fec809" d="M445.6,601.1H457.4M451.5,595.2V607.0M447.3,596.9L455.7,605.2M447.3,605.2L455.7,596.9"/>
<path stroke="#fec809" d="M449.8,601.1H461.6M455.7,595.2V607.0M451.5,596.9L459.9,605.2M451.5,605.2L459.9,596.9"/>
<path stroke="#fec809" d="M454.0,601.1H465.8M459.9,595.2V607.0M455.7,596.9L464.1,605.2M455.7,605.2L464.1,596.9"/>
<path stroke="#fdd907" d="M458.2,601.1H470.0M464.1,595.2V607.0M459.9,596.9L468.3,605.2M459.9,605.2L468.3,596.9"/>
<path stroke="#fdd907" d="M462.4,601.1H474.2M468.3,595.2V607.0M464.1,596.9L472.5,605.2M464.1,605.2L472.5,596.9"/>
<path stroke="#fdd907" d="M466.6,601.1H478.4M472.5,595.2V607.0M468.3,596.9L476.6,605.2M468.3,605.2L476.6,596.9"/>
<path stroke="#fdd907" d="M470.8,601.1H482.6M476.7,595.2V607.0M472.5,596.9L480.8,605.2M472.5,605.2L480.8,596.9"/>
<path stroke="#f7e618" d="M474.9,601.1H486.7M480.8,595.2V607.0M476.7,596.9L485.0,605.2M476.7,605.2L485.0,596.9"/>
<path stroke="#f7e618" d="M479.1,601.1H490.9M485.0,595.2V607.0M480.9,596.9L489.2,605.2M480.9,605.2L489.2,596.9"/>
<path stroke="#f7e618" d="M483.3,601.1H495.1M489.2,595.2V607.0M485.1,596.9L493.4,605.2M485.1,605.2L493.4,596.9"/>
<path stroke="#f7e618" d="M487.5,601.1H499.3M493.4,595.2V607.0M489.2,596.9L497.6,605.2M489.2,605.2L497.6,596.9"/>
<path stroke="#f7e618" d="M491.7,601.1H503.5M497.6,595.2V607.0M493.4,596.9L501.8,605.2M493.4,605.2L501.8,596.9"/>
<path stroke="#efe921" d="M495.9,601.1H507.7M501.8,595.2V607.0M497.6,596.9L506.0,605.2M497.6,605.2L506.0,596.9"/>
<path stroke="#e5e424" d="M500.1,601.1H511.9M506.0,595.2V607.0M501.8,596.9L510.2,605.2M501.8,605.2L510.2,596.9"/>
<path stroke="#e5e424" d="M504.3,601.1H516.1M510.2,595.2V607.0M506.0,596.9L514.3,605.2M506.0,605.2L514.3,596.9"/>
<path stroke="#e5e424" d="M508.5,601.1H520.3M514.4,595.2V607.0M510.2,596.9L518.5,605.2M510.2,605.2L518.5,596.9"/>
<path stroke="#e5e424" d="M512.7,601.1H524.5M518.6,595.2V607.0M514.4,596.9L522.7,605.2M514.4,605.2L522.7,596.9"/>
<path stroke="#e5e424" d="M516.8,601.1H528.6M522.7,595.2V607.0M518.6,596.9L526.9,605.2M518.6,605.2L526.9,596.9"/>
<path stroke="#dbdf26" d="M521.0,601.1H532.8M526.9,595.2V607.0M522.8,596.9L531.1,605.2M522.8,605.2L531.1,596.9"/>
<path stroke="#dbdf26" d="M525.2,601.1H537.0M531.1,595.2V607.0M526.9,596.9L535.3,605.2M526.9,605.2L535.3,596.9"/>
<path stroke="#cfda2a" d="M529.4,601.1H541.2M535.3,595.2V607.0M531.1,596.9L539.5,605.2M531.1,605.2L539.5,596.9"/>
<path stroke="#dbdf26" d="M533.6,601.1H545.4M539.5,595.2V607.0M535.3,596.9L543.7,605.2M535.3,605.2L543.7,596.9"/>
<path stroke="#bed631" d="M537.8,601.1H549.6M543.7,595.2V607.0M539.5,596.9L547.9,605.2M539.5,605.2L547.9,596.9"/>
<path stroke="#cfda2a" d="M542.0,601.1H553.8M547.9,595.2V607.0M543.7,596.9L552.0,605.2M543.7,605.2L552.0,596.9"/>
<path stroke="#cfda2a" d="M546.2,601.1H558.0M552.1,595.2V607.0M547.9,596.9L556.2,605.2M547.9,605.2L556.2,596.9"/>
<path stroke="#cfda2a" d="M550.4,601.1H562.2M556.3,595.2V607.0M552.1,596.9L560.4,605.2M552.1,605.2L560.4,596.9"/>
<path stroke="#cfda2a" d="M554.5,601.1H566.3M560.4,595.2V607.0M556.3,596.9L564.6,605.2M556.3,605.2L564.6,596.9"/>
<path stroke="#bed631" d="M558.7,601.1H570.5M564.6,595.2V607.0M560.5,596.9L568.8,605.2M560.5,605.2L568.8,596.9"/>
<path stroke="#bed631" d="M562.9,601.1H574.7M568.8,595.2V607.0M564.6,596.9L573.0,605.2M564.6,605.2L573.0,596.9"/>
<path stroke="#b0d13a" d="M567.1,601.1H578.9M573.0,595.2V607.0M568.8,596.9L577.2,605.2M568.8,605.2L577.2,596.9"/>
<path stroke="#b0d13a" d="M571.3,601.1H583.1M577.2,595.2V607.0M573.0,596.9L581.4,605.2M573.0,605.2L581.4,596.9"/>
<path stroke="#a5ce46" d="M575.5,601.1H587.3M581.4,595.2V607.0M577.2,596.9L585.6,605.2M577.2,605.2L585.6,596.9"/>
<path stroke="#9ccb54" d="M579.7,601.1H591.5M585.6,595.2V607.0M581.4,596.9L589.8,605.2M581.4,605.2L589.8,596.9"/>
<path stroke="#94c963" d="M583.9,601.1H595.7M589.8,595.2V607.0M585.6,596.9L593.9,605.2M585.6,605.2L593.9,596.9"/>
<path stroke="#94c963" d="M588.1,601.1H599.9M594.0,595.2V607.0M589.8,596.9L598.1,605.2M589.8,605.2L598.1,596.9"/>
<path stroke="#94c963" d="M592.2,601.1H604.0M598.1,595.2V607.0M594.0,596.9L602.3,605.2M594.0,605.2L602.3,596.9"/>
<path stroke="#8dc873" d="M596.4,601.1H608.2M602.3,595.2V607.0M598.2,596.9L606.5,605.2M598.2,605.2L606.5,596.9"/>
<path stroke="#85c783" d="M600.6,601.1H612.4M606.5,595.2V607.0M602.4,596.9L610.7,605.2M602.4,605.2L610.7,596.9"/>
<path stroke="#85c783" d="M604.8,601.1H616.6M610.7,595.2V607.0M606.5,596.9L614.9,605.2M606.5,605.2L614.9,596.9"/>
<path stroke="#85c783" d="M609.0,601.1H620.8M614.9,595.2V607.0M610.7,596.9L619.1,605.2M610.7,605.2L619.1,596.9"/>
<path stroke="#79c7a2" d="M613.2,601.1H625.0M619.1,595.2V607.0M614.9,596.9L623.3,605.2M614.9,605.2L623.3,596.9"/>
<path stroke="#74c7b2" d="M617.4,601.1H629.2M623.3,595.2V607.0M619.1,596.9L627.5,605.2M619.1,605.2L627.5,596.9"/>
<path stroke="#71c8bf" d="M621.6,601.1H633.4M627.5,595.2V607.0M623.3,596.9L631.6,605.2M623.3,605.2L631.6,596.9"/>
<path stroke="#71c8bf" d="M625.8,601.1H637.6M631.7,595.2V607.0M627.5,596.9L635.8,605.2M627.5,605.2L635.8,596.9"/>
<path stroke="#6fc9cc" d="M630.0,601.1H641.8M635.9,595.2V607.0M631.7,596.9L640.0,605.2M631.7,605.2L640.0,596.9"/>
<path stroke="#6fc9cc" d="M634.1,601.1H645.9M640.0,595.2V607.0M635.9,596.9L644.2,605.2M635.9,605.2L644.2,596.9"/>
<path stroke="#71c8bf" d="M638.3,601.1H650.1M644.2,595.2V607.0M640.1,596.9L648.4,605.2M640.1,605.2L648.4,596.9"/>
<path stroke="#71c8bf" d="M642.5,601.1H654.3M648.4,595.2V607.0M644.2,596.9L652.6,605.2M644.2,605.2L652.6,596.9"/>
<path stroke="#6fc9cc" d="M646.7,601.1H658.5M652.6,595.2V607.0M648.4,596.9L656.8,605.2M648.4,605.2L656.8,596.9"/>
<path stroke="#6fc9cc" d="M650.9,601.1H662.7M656.8,595.2V607.0M652.6,596.9L661.0,605.2M652.6,605.2L661.0,596.9"/>
<path stroke="#6dcad9" d="M655.1,601.1H666.9M661.0,595.2V607.0M656.8,596.9L665.2,605.2M656.8,605.2L665.2,596.9"/>
<path stroke="#5fc9e3" d="M659.3,601.1H671.1M665.2,595.2V607.0M661.0,596.9L669.3,605.2M661.0,605.2L669.3,596.9"/>
<path stroke="#5fc9e3" d="M663.5,601.1H675.3M669.4,595.2V607.0M665.2,596.9L673.5,605.2M665.2,605.2L673.5,596.9"/>
<path stroke="#48c7ec" d="M667.7,601.1H679.5M673.6,595.2V607.0M669.4,596.9L677.7,605.2M669.4,605.2L677.7,596.9"/>
<path stroke="#48c7ec" d="M671.8,601.1H683.6M677.7,595.2V607.0M673.6,596.9L681.9,605.2M673.6,605.2L681.9,596.9"/>
<path stroke="#33c4f3" d="M676.0,601.1H687.8M681.9,595.2V607.0M677.8,596.9L686.1,605.2M677.8,605.2L686.1,596.9"/>
<path stroke="#33c4f3" d="M680.2,601.1H692.0M686.1,595.2V607.0M681.9,596.9L690.3,605.2M681.9,605.2L690.3,596.9"/>
<path stroke="#48c7ec" d="M684.4,601.1H696.2M690.3,595.2V607.0M686.1,596.9L694.5,605.2M686.1,605.2L694.5,596.9"/>
<path stroke="#48c7ec" d="M688.6,601.1H700.4M694.5,595.2V607.0M690.3,596.9L698.7,605.2M690.3,605.2L698.7,596.9"/>
<path stroke="#48c7ec" d="M692.8,601.1H704.6M698.7,595.2V607.0M694.5,596.9L702.9,605.2M694.5,605.2L702.9,596.9"/>
<path stroke="#48c7ec" d="M697.0,601.1H708.8M702.9,595.2V607.0M698.7,596.9L707.1,605.2M698.7,605.2L707.1,596.9"/>
<path stroke="#5fc9e3" d="M701.2,601.1H713.0M707.1,595.2V607.0M702.9,596.9L711.2,605.2M702.9,605.2L711.2,596.9"/>
<path stroke="#5fc9e3" d="M705.4,601.1H717.2M711.3,595.2V607.0M707.1,596.9L715.4,605.2M707.1,605.2L715.4,596.9"/>
<path stroke="#48c7ec" d="M709.5,601.1H721.3M715.4,595.2V607.0M711.3,596.9L719.6,605.2M711.3,605.2L719.6,596.9"/>
<path stroke="#5fc9e3" d="M713.7,601.1H725.5M719.6,595.2V607.0M715.5,596.9L723.8,605.2M715.5,605.2L723.8,596.9"/>
<path stroke="#5fc9e3" d="M717.9,601.1H729.7M723.8,595.2V607.0M719.7,596.9L728.0,605.2M719.7,605.2L728.0,596.9"/>
<path stroke="#5fc9e3" d="M722.1,601.1H733.9M728.0,595.2V607.0M723.8,596.9L732.2,605.2M723.8,605.2L732.2,596.9"/>
<path stroke="#5fc9e3" d="M726.3,601.1H738.1M732.2,595.2V607.0M728.0,596.9L736.4,605.2M728.0,605.2L736.4,596.9"/>
<path stroke="#6fc9cc" d="M730.5,601.1H742.3M736.4,595.2V607.0M732.2,596.9L740.6,605.2M732.2,605.2L740.6,596.9"/>
<path stroke="#6fc9cc" d="M734.7,601.1H746.5M740.6,595.2V607.0M736.4,596.9L744.8,605.2M736.4,605.2L744.8,596.9"/>
<path stroke="#6fc9cc" d="M738.9,601.1H750.7M744.8,595.2V607.0M740.6,596.9L748.9,605.2M740.6,605.2L748.9,596.9"/>
<path stroke="#6fc9cc" d="M743.1,601.1H754.9M749.0,595.2V607.0M744.8,596.9L753.1,605.2M744.8,605.2L753.1,596.9"/>
<path stroke="#71c8bf" d="M747.3,601.1H759.1M753.2,595.2V607.0M749.0,596.9L757.3,605.2M749.0,605.2L757.3,596.9"/>
<path stroke="#71c8bf" d="M751.4,601.1H763.2M757.3,595.2V607.0M753.2,596.9L761.5,605.2M753.2,605.2L761.5,596.9"/>
<path stroke="#6fc9cc" d="M755.6,601.1H767.4M761.5,595.2V607.0M757.4,596.9L765.7,605.2M757.4,605.2L765.7,596.9"/>
<path stroke="#71c8bf" d="M759.8,601.1H771.6M765.7,595.2V607.0M761.5,596.9L769.9,605.2M761.5,605.2L769.9,596.9"/>
<path stroke="#71c8bf" d="M764.0,601.1H775.8M769.9,595.2V607.0M765.7,596.9L774.1,605.2M765.7,605.2L774.1,596.9"/>
<path stroke="#71c8bf" d="M768.2,601.1H780.0M774.1,595.2V607.0M769.9,596.9L778.3,605.2M769.9,605.2L778.3,596.9"/>
<path stroke="#6fc9cc" d="M772.4,601.1H784.2M778.3,595.2V607.0M774.1,596.9L782.5,605.2M774.1,605.2L782.5,596.9"/>
<path stroke="#71c8bf" d="M776.6,601.1H788.4M782.5,595.2V607.0M778.3,596.9L786.6,605.2M778.3,605.2L786.6,596.9"/>
<path stroke="#74c7b2" d="M780.8,601.1H792.6M786.7,595.2V607.0M782.5,596.9L790.8,605.2M782.5,605.2L790.8,596.9"/>
<path stroke="#71c8bf" d="M785.0,601.1H796.8M790.9,595.2V607.0M786.7,596.9L795.0,605.2M786.7,605.2L795.0,596.9"/>
<path stroke="#74c7b2" d="M789.1,601.1H800.9M795.0,595.2V607.0M790.9,596.9L799.2,605.2M790.9,605.2L799.2,596.9"/>
<path stroke="#71c8bf" d="M793.3,601.1H805.1M799.2,595.2V607.0M795.1,596.9L803.4,605.2M795.1,605.2L803.4,596.9"/>
<path stroke="#74c7b2" d="M797.5,601.1H809.3M803.4,595.2V607.0M799.2,596.9L807.6,605.2M799.2,605.2L807.6,596.9"/>
<path stroke="#71c8bf" d="M801.7,601.1H813.5M807.6,595.2V607.0M803.4,596.9L811.8,605.2M803.4,605.2L811.8,596.9"/>
<path stroke="#74c7b2" d="M805.9,601.1H817.7M811.8,595.2V607.0M807.6,596.9L816.0,605.2M807.6,605.2L816.0,596.9"/>
<path stroke="#74c7b2" d="M810.1,601.1H821.9M816.0,595.2V607.0M811.8,596.9L820.2,605.2M811.8,605.2L820.2,596.9"/>
<path stroke="#74c7b2" d="M814.3,601.1H826.1M820.2,595.2V607.0M816.0,596.9L824.4,605.2M816.0,605.2L824.4,596.9"/>
<path stroke="#79c7a2" d="M818.5,601.1H830.3M824.4,595.2V607.0M820.2,596.9L828.5,605.2M820.2,605.2L828.5,596.9"/>
<path stroke="#74c7b2" d="M822.7,601.1H834.5M828.6,595.2V607.0M824.4,596.9L832.7,605.2M824.4,605.2L832.7,596.9"/>
<path stroke="#74c7b2" d="M826.8,601.1H838.6M832.7,595.2V607.0M828.6,596.9L836.9,605.2M828.6,605.2L836.9,596.9"/>
<path stroke="#74c7b2" d="M831.0,601.1H842.8M836.9,595.2V607.0M832.8,596.9L841.1,605.2M832.8,605.2L841.1,596.9"/>
<path stroke="#74c7b2" d="M835.2,601.1H847.0M841.1,595.2V607.0M837.0,596.9L845.3,605.2M837.0,605.2L845.3,596.9"/>
<path stroke="#74c7b2" d="M839.4,601.1H851.2M845.3,595.2V607.0M841.1,596.9L849.5,605.2M841.1,605.2L849.5,596.9"/>
<path stroke="#79c7a2" d="M843.6,601.1H855.4M849.5,595.2V607.0M845.3,596.9L853.7,605.2M845.3,605.2L853.7,596.9"/>
<path stroke="#79c7a2" d="M847.8,601.1H859.6M853.7,595.2V607.0M849.5,596.9L857.9,605.2M849.5,605.2L857.9,596.9"/>
<path stroke="#7fc793" d="M852.0,601.1H863.8M857.9,595.2V607.0M853.7,596.9L862.1,605.2M853.7,605.2L862.1,596.9"/>
<path stroke="#7fc793" d="M856.2,601.1H868.0M862.1,595.2V607.0M857.9,596.9L866.2,605.2M857.9,605.2L866.2,596.9"/>
<path stroke="#85c783" d="M860.4,601.1H872.2M866.3,595.2V607.0M862.1,596.9L870.4,605.2M862.1,605.2L870.4,596.9"/>
<path stroke="#94c963" d="M864.6,601.1H876.4M870.5,595.2V607.0M866.3,596.9L874.6,605.2M866.3,605.2L874.6,596.9"/>
</g>
<path d="M108.00,418.60H874.75V639.10" fill="none" stroke="#48484a" stroke-width="1.9" stroke-linecap="square"/>
<path d="M107.8,482.30 L108.5,482.40 L109.3,482.51 L110.0,482.61 L110.8,482.71 L111.5,482.81 L112.3,482.91 L113.0,483.02 L113.8,483.12 L114.5,483.22 L115.3,483.32 L116.0,483.42 L116.8,483.52 L117.5,483.61 L118.3,483.71 L119.0,483.81 L119.8,483.91 L120.5,484.01 L121.3,484.10 L122.0,484.20 L122.8,484.30 L123.5,484.39 L124.3,484.49 L125.0,484.58 L125.8,484.67 L126.5,484.77 L127.3,484.86 L128.1,484.95 L128.8,485.05 L129.6,485.14 L130.3,485.23 L131.1,485.32 L131.8,485.41 L132.6,485.50 L133.3,485.59 L134.1,485.68 L134.8,485.77 L135.6,485.85 L136.3,485.94 L137.1,486.03 L137.8,486.11 L138.6,486.20 L139.3,486.28 L140.1,486.37 L140.8,486.45 L141.6,486.54 L142.3,486.62 L143.1,486.71 L143.8,486.79 L144.6,486.88 L145.3,486.96 L146.1,487.05 L146.8,487.13 L147.6,487.22 L148.3,487.30 L149.1,487.38 L149.8,487.47 L150.6,487.55 L151.3,487.63 L152.1,487.72 L152.8,487.80 L153.6,487.88 L154.3,487.96 L155.1,488.04 L155.8,488.13 L156.6,488.21 L157.3,488.29 L158.1,488.37 L158.8,488.44 L159.6,488.52 L160.3,488.60 L161.1,488.68 L161.8,488.75 L162.6,488.83 L163.3,488.90 L164.1,488.98 L164.8,489.05 L165.6,489.13 L166.3,489.20 L167.1,489.27 L167.8,489.34 L168.6,489.41 L169.3,489.48 L170.1,489.54 L170.8,489.61 L171.6,489.68 L172.3,489.74 L173.1,489.81 L173.8,489.87 L174.6,489.93 L175.3,489.99 L176.1,490.05 L176.8,490.11 L177.6,490.17 L178.3,490.22 L179.1,490.28 L179.8,490.33 L180.6,490.39 L181.3,490.44 L182.1,490.49 L182.8,490.55 L183.6,490.60 L184.3,490.65 L185.1,490.70 L185.8,490.75 L186.6,490.80 L187.3,490.85 L188.1,490.90 L188.8,490.95 L189.6,491.00 L190.3,491.05 L191.1,491.09 L191.8,491.14 L192.6,491.19 L193.3,491.23 L194.1,491.28 L194.8,491.32 L195.6,491.37 L196.3,491.41 L197.1,491.46 L197.8,491.50 L198.6,491.54 L199.3,491.59 L200.1,491.63 L200.8,491.67 L201.6,491.71 L202.3,491.75 L203.1,491.80 L203.8,491.84 L204.6,491.88 L205.3,491.92 L206.1,491.96 L206.8,491.99 L207.6,492.03 L208.3,492.07 L209.1,492.11 L209.8,492.15 L210.6,492.19 L211.3,492.22 L212.1,492.26 L212.8,492.30 L213.6,492.33 L214.3,492.37 L215.1,492.41 L215.8,492.44 L216.6,492.48 L217.3,492.51 L218.1,492.55 L218.8,492.59 L219.6,492.63 L220.3,492.67 L221.1,492.71 L221.8,492.75 L222.6,492.79 L223.3,492.83 L224.1,492.87 L224.8,492.91 L225.6,492.95 L226.3,492.99 L227.1,493.03 L227.8,493.06 L228.6,493.10 L229.3,493.13 L230.1,493.16 L230.8,493.19 L231.6,493.21 L232.3,493.23 L233.1,493.25 L233.8,493.27 L234.6,493.28 L235.3,493.29 L236.1,493.30 L236.8,493.30 L237.6,493.30 L238.3,493.30 L239.1,493.30 L239.8,493.30 L240.6,493.30 L241.3,493.30 L242.1,493.30 L242.8,493.30 L243.6,493.30 L244.3,493.30 L245.1,493.30 L245.8,493.30 L246.6,493.30 L247.3,493.30 L248.1,493.30 L248.8,493.30 L249.6,493.30 L250.3,493.30 L251.1,493.30 L251.8,493.30 L252.6,493.30 L253.3,493.30 L254.1,493.30 L254.8,493.30 L255.6,493.30 L256.3,493.30 L257.1,493.30 L257.8,493.30 L258.6,493.30 L259.3,493.30 L260.1,493.30 L260.8,493.30 L261.6,493.30 L262.3,493.30 L263.1,493.30 L263.8,493.30 L264.6,493.30 L265.3,493.30 L266.1,493.29 L266.8,493.29 L267.6,493.28 L268.3,493.27 L269.1,493.25 L269.8,493.24 L270.6,493.22 L271.3,493.20 L272.1,493.18 L272.8,493.16 L273.6,493.14 L274.3,493.12 L275.1,493.09 L275.8,493.06 L276.6,493.04 L277.3,493.01 L278.1,492.98 L278.8,492.94 L279.6,492.91 L280.3,492.88 L281.1,492.84 L281.8,492.81 L282.6,492.77 L283.3,492.74 L284.1,492.70 L284.8,492.66 L285.6,492.62 L286.3,492.58 L287.1,492.54 L287.8,492.50 L288.6,492.46 L289.3,492.42 L290.1,492.38 L290.8,492.34 L291.6,492.30 L292.3,492.26 L293.1,492.22 L293.8,492.18 L294.6,492.14 L295.3,492.10 L296.1,492.06 L296.8,492.02 L297.6,491.97 L298.3,491.92 L299.1,491.87 L299.8,491.82 L300.6,491.77 L301.3,491.71 L302.1,491.65 L302.8,491.60 L303.6,491.54 L304.3,491.47 L305.1,491.41 L305.8,491.35 L306.6,491.28 L307.3,491.21 L308.1,491.15 L308.8,491.08 L309.6,491.01 L310.3,490.94 L311.1,490.87 L311.8,490.80 L312.6,490.72 L313.3,490.65 L314.1,490.58 L314.8,490.51 L315.6,490.43 L316.3,490.36 L317.1,490.29 L317.8,490.21 L318.6,490.14 L319.3,490.07 L320.1,490.00 L320.8,489.92 L321.6,489.85 L322.3,489.78 L323.1,489.71 L323.8,489.64 L324.6,489.57 L325.3,489.51 L326.1,489.44 L326.8,489.37 L327.6,489.31 L328.3,489.24 L329.1,489.17 L329.8,489.10 L330.6,489.03 L331.3,488.96 L332.1,488.89 L332.8,488.81 L333.6,488.74 L334.3,488.67 L335.1,488.59 L335.8,488.52 L336.6,488.44 L337.3,488.37 L338.1,488.30 L338.8,488.22 L339.6,488.15 L340.3,488.08 L341.1,488.00 L341.8,487.93 L342.6,487.86 L343.3,487.80 L344.1,487.73 L344.8,487.66 L345.6,487.60 L346.3,487.53 L347.1,487.47 L347.8,487.41 L348.6,487.35 L349.3,487.30 L350.1,487.24 L350.8,487.19 L351.6,487.14 L352.3,487.10 L353.1,487.05 L353.8,487.01 L354.6,486.97 L355.3,486.94 L356.1,486.90 L356.8,486.87 L357.6,486.84 L358.3,486.82 L359.1,486.79 L359.8,486.77 L360.6,486.74 L361.3,486.72 L362.1,486.70 L362.8,486.68 L363.6,486.65 L364.3,486.63 L365.1,486.61 L365.8,486.59 L366.6,486.56 L367.3,486.54 L368.1,486.51 L368.8,486.48 L369.6,486.45 L370.3,486.42 L371.1,486.38 L371.8,486.34 L372.6,486.30 L373.3,486.26 L374.1,486.20 L374.8,486.14 L375.6,486.07 L376.3,485.99 L377.1,485.90 L377.8,485.80 L378.6,485.70 L379.3,485.59 L380.1,485.47 L380.8,485.36 L381.6,485.24 L382.3,485.12 L383.1,485.00 L383.8,484.88 L384.6,484.77 L385.3,484.65 L386.1,484.54 L386.8,484.42 L387.6,484.30 L388.3,484.17 L389.1,484.04 L389.8,483.91 L390.6,483.78 L391.3,483.64 L392.1,483.50 L392.8,483.37 L393.6,483.23 L394.3,483.09 L395.1,482.95 L395.8,482.81 L396.6,482.66 L397.3,482.52 L398.1,482.38 L398.8,482.24 L399.6,482.10 L400.3,481.97 L401.1,481.83 L401.8,481.70 L402.6,481.57 L403.3,481.44 L404.1,481.31 L404.8,481.18 L405.6,481.06 L406.3,480.94 L407.1,480.83 L407.8,480.71 L408.6,480.60 L409.3,480.48 L410.1,480.37 L410.8,480.26 L411.6,480.15 L412.3,480.04 L413.1,479.93 L413.8,479.82 L414.6,479.71 L415.3,479.60 L416.1,479.48 L416.8,479.37 L417.6,479.25 L418.3,479.13 L419.1,479.01 L419.8,478.88 L420.6,478.76 L421.3,478.63 L422.1,478.49 L422.8,478.36 L423.6,478.22 L424.3,478.08 L425.1,477.94 L425.8,477.80 L426.6,477.66 L427.3,477.51 L428.1,477.36 L428.8,477.21 L429.6,477.06 L430.3,476.91 L431.1,476.76 L431.8,476.61 L432.6,476.45 L433.3,476.30 L434.1,476.14 L434.8,475.99 L435.6,475.83 L436.3,475.67 L437.1,475.51 L437.8,475.36 L438.6,475.20 L439.3,475.04 L440.1,474.89 L440.8,474.73 L441.6,474.57 L442.3,474.42 L443.1,474.26 L443.8,474.11 L444.6,473.96 L445.3,473.81 L446.1,473.65 L446.8,473.50 L447.6,473.36 L448.3,473.21 L449.1,473.06 L449.8,472.92 L450.6,472.78 L451.3,472.64 L452.1,472.50 L452.8,472.36 L453.6,472.22 L454.3,472.08 L455.1,471.94 L455.8,471.80 L456.6,471.66 L457.3,471.53 L458.1,471.39 L458.8,471.25 L459.6,471.11 L460.3,470.97 L461.1,470.84 L461.8,470.70 L462.6,470.57 L463.3,470.43 L464.1,470.30 L464.8,470.17 L465.6,470.04 L466.3,469.91 L467.1,469.78 L467.8,469.65 L468.6,469.52 L469.3,469.40 L470.1,469.28 L470.8,469.15 L471.6,469.03 L472.3,468.91 L473.1,468.80 L473.8,468.68 L474.6,468.57 L475.3,468.46 L476.1,468.34 L476.8,468.23 L477.6,468.12 L478.3,468.01 L479.1,467.91 L479.8,467.80 L480.6,467.69 L481.3,467.59 L482.1,467.48 L482.8,467.38 L483.6,467.28 L484.3,467.18 L485.1,467.08 L485.8,466.99 L486.6,466.89 L487.3,466.80 L488.1,466.71 L488.8,466.62 L489.6,466.53 L490.3,466.45 L491.1,466.37 L491.8,466.29 L492.6,466.21 L493.3,466.13 L494.1,466.06 L494.8,465.98 L495.6,465.91 L496.3,465.83 L497.1,465.76 L497.8,465.69 L498.6,465.62 L499.3,465.55 L500.1,465.48 L500.8,465.41 L501.6,465.34 L502.3,465.27 L503.1,465.21 L503.8,465.14 L504.6,465.08 L505.3,465.01 L506.1,464.95 L506.8,464.89 L507.6,464.83 L508.3,464.77 L509.1,464.71 L509.8,464.65 L510.6,464.59 L511.3,464.53 L512.0,464.48 L512.8,464.42 L513.5,464.37 L514.3,464.31 L515.0,464.26 L515.8,464.21 L516.5,464.16 L517.3,464.11 L518.0,464.06 L518.8,464.01 L519.5,463.97 L520.3,463.92 L521.0,463.88 L521.8,463.84 L522.5,463.80 L523.3,463.76 L524.0,463.72 L524.8,463.69 L525.5,463.66 L526.3,463.62 L527.0,463.59 L527.8,463.56 L528.5,463.53 L529.3,463.50 L530.0,463.46 L530.8,463.43 L531.5,463.40 L532.3,463.37 L533.0,463.34 L533.8,463.30 L534.5,463.27 L535.3,463.23 L536.0,463.19 L536.8,463.16 L537.5,463.12 L538.3,463.07 L539.0,463.03 L539.8,462.99 L540.5,462.94 L541.3,462.89 L542.0,462.83 L542.8,462.78 L543.5,462.70 L544.3,462.61 L545.0,462.51 L545.8,462.40 L546.5,462.28 L547.3,462.16 L548.0,462.04 L548.8,461.92 L549.5,461.80 L550.3,461.70 L551.0,461.60 L551.8,461.52 L552.5,461.46 L553.3,461.42 L554.0,461.40 L554.8,461.41 L555.5,461.43 L556.3,461.47 L557.0,461.52 L557.8,461.58 L558.5,461.65 L559.3,461.72 L560.0,461.79 L560.8,461.85 L561.5,461.91 L562.3,461.95 L563.0,461.98 L563.8,462.00 L564.5,462.00 L565.3,461.98 L566.0,461.96 L566.8,461.94 L567.5,461.90 L568.3,461.86 L569.0,461.82 L569.8,461.77 L570.5,461.72 L571.3,461.67 L572.0,461.62 L572.8,461.58 L573.5,461.53 L574.3,461.49 L575.0,461.46 L575.8,461.43 L576.5,461.41 L577.3,461.40 L578.0,461.40 L578.8,461.40 L579.5,461.41 L580.3,461.42 L581.0,461.43 L581.8,461.44 L582.5,461.45 L583.3,461.47 L584.0,461.49 L584.8,461.51 L585.5,461.53 L586.3,461.55 L587.0,461.58 L587.8,461.60 L588.5,461.63 L589.3,461.66 L590.0,461.69 L590.8,461.72 L591.5,461.75 L592.3,461.78 L593.0,461.82 L593.8,461.85 L594.5,461.88 L595.3,461.92 L596.0,461.95 L596.8,461.98 L597.5,462.02 L598.3,462.05 L599.0,462.09 L599.8,462.13 L600.5,462.18 L601.3,462.22 L602.0,462.27 L602.8,462.32 L603.5,462.38 L604.3,462.43 L605.0,462.49 L605.8,462.55 L606.5,462.61 L607.3,462.68 L608.0,462.74 L608.8,462.81 L609.5,462.87 L610.3,462.94 L611.0,463.02 L611.8,463.09 L612.5,463.16 L613.3,463.23 L614.0,463.31 L614.8,463.39 L615.5,463.46 L616.3,463.54 L617.0,463.62 L617.8,463.70 L618.5,463.77 L619.3,463.85 L620.0,463.93 L620.8,464.01 L621.5,464.09 L622.3,464.17 L623.0,464.25 L623.8,464.33 L624.5,464.41 L625.3,464.48 L626.0,464.56 L626.8,464.65 L627.5,464.73 L628.3,464.81 L629.0,464.90 L629.8,464.98 L630.5,465.07 L631.3,465.16 L632.0,465.25 L632.8,465.34 L633.5,465.43 L634.3,465.52 L635.0,465.62 L635.8,465.71 L636.5,465.80 L637.3,465.90 L638.0,466.00 L638.8,466.09 L639.5,466.19 L640.3,466.29 L641.0,466.39 L641.8,466.49 L642.5,466.59 L643.3,466.70 L644.0,466.80 L644.8,466.90 L645.5,467.00 L646.3,467.11 L647.0,467.21 L647.8,467.32 L648.5,467.42 L649.3,467.53 L650.0,467.64 L650.8,467.74 L651.5,467.85 L652.3,467.96 L653.0,468.07 L653.8,468.18 L654.5,468.30 L655.3,468.42 L656.0,468.54 L656.8,468.67 L657.5,468.79 L658.3,468.92 L659.0,469.05 L659.8,469.19 L660.5,469.32 L661.3,469.46 L662.0,469.59 L662.8,469.73 L663.5,469.87 L664.3,470.00 L665.0,470.14 L665.8,470.28 L666.5,470.42 L667.3,470.56 L668.0,470.69 L668.8,470.83 L669.5,470.96 L670.3,471.10 L671.0,471.23 L671.8,471.36 L672.5,471.49 L673.3,471.62 L674.0,471.74 L674.8,471.86 L675.5,471.98 L676.3,472.10 L677.0,472.22 L677.8,472.33 L678.5,472.43 L679.3,472.54 L680.0,472.64 L680.8,472.73 L681.5,472.82 L682.3,472.91 L683.0,472.99 L683.8,473.07 L684.5,473.15 L685.3,473.22 L686.0,473.30 L686.8,473.36 L687.5,473.43 L688.3,473.50 L689.0,473.56 L689.8,473.62 L690.5,473.69 L691.3,473.74 L692.0,473.80 L692.8,473.86 L693.5,473.92 L694.3,473.97 L695.0,474.03 L695.8,474.08 L696.5,474.14 L697.3,474.19 L698.0,474.25 L698.8,474.30 L699.5,474.35 L700.3,474.41 L701.0,474.46 L701.8,474.52 L702.5,474.58 L703.3,474.63 L704.0,474.69 L704.8,474.75 L705.5,474.81 L706.3,474.87 L707.0,474.94 L707.8,475.00 L708.5,475.06 L709.3,475.12 L710.0,475.19 L710.8,475.25 L711.5,475.31 L712.3,475.37 L713.0,475.42 L713.8,475.48 L714.5,475.54 L715.3,475.60 L716.0,475.66 L716.8,475.72 L717.5,475.78 L718.3,475.84 L719.0,475.90 L719.8,475.96 L720.5,476.02 L721.3,476.08 L722.0,476.14 L722.8,476.20 L723.5,476.27 L724.3,476.33 L725.0,476.39 L725.8,476.46 L726.5,476.53 L727.3,476.59 L728.0,476.66 L728.8,476.73 L729.5,476.81 L730.3,476.88 L731.0,476.95 L731.8,477.03 L732.5,477.11 L733.3,477.19 L734.0,477.27 L734.8,477.35 L735.5,477.43 L736.3,477.52 L737.0,477.61 L737.8,477.70 L738.5,477.80 L739.3,477.90 L740.0,478.01 L740.8,478.12 L741.5,478.24 L742.3,478.37 L743.0,478.49 L743.8,478.63 L744.5,478.76 L745.3,478.90 L746.0,479.04 L746.8,479.18 L747.5,479.32 L748.3,479.46 L749.0,479.61 L749.8,479.75 L750.5,479.89 L751.3,480.03 L752.0,480.16 L752.8,480.30 L753.5,480.43 L754.3,480.55 L755.0,480.68 L755.8,480.81 L756.5,480.94 L757.3,481.07 L758.0,481.20 L758.8,481.33 L759.5,481.46 L760.3,481.59 L761.0,481.72 L761.8,481.85 L762.5,481.98 L763.3,482.11 L764.0,482.24 L764.8,482.37 L765.5,482.50 L766.3,482.64 L767.0,482.77 L767.8,482.90 L768.5,483.03 L769.3,483.16 L770.0,483.29 L770.8,483.42 L771.5,483.55 L772.3,483.67 L773.0,483.80 L773.8,483.93 L774.5,484.06 L775.3,484.19 L776.0,484.32 L776.8,484.45 L777.5,484.57 L778.3,484.70 L779.0,484.83 L779.8,484.95 L780.5,485.08 L781.3,485.20 L782.0,485.33 L782.8,485.45 L783.5,485.57 L784.3,485.70 L785.0,485.82 L785.8,485.94 L786.5,486.06 L787.3,486.18 L788.0,486.30 L788.8,486.42 L789.5,486.54 L790.3,486.66 L791.0,486.78 L791.8,486.89 L792.5,487.01 L793.3,487.12 L794.0,487.24 L794.8,487.35 L795.5,487.47 L796.3,487.58 L797.0,487.69 L797.8,487.81 L798.5,487.92 L799.3,488.03 L800.0,488.14 L800.8,488.26 L801.5,488.37 L802.3,488.48 L803.0,488.59 L803.8,488.70 L804.5,488.81 L805.3,488.92 L806.0,489.03 L806.8,489.14 L807.5,489.25 L808.3,489.36 L809.0,489.46 L809.8,489.57 L810.5,489.68 L811.3,489.78 L812.0,489.89 L812.8,490.00 L813.5,490.10 L814.3,490.21 L815.0,490.31 L815.8,490.42 L816.5,490.52 L817.3,490.62 L818.0,490.73 L818.8,490.83 L819.5,490.93 L820.3,491.03 L821.0,491.13 L821.8,491.23 L822.5,491.33 L823.3,491.43 L824.0,491.53 L824.8,491.63 L825.5,491.73 L826.3,491.83 L827.0,491.92 L827.8,492.02 L828.5,492.12 L829.3,492.21 L830.0,492.31 L830.8,492.40 L831.5,492.49 L832.3,492.59 L833.0,492.68 L833.8,492.77 L834.5,492.87 L835.3,492.96 L836.0,493.05 L836.8,493.14 L837.5,493.23 L838.3,493.32 L839.0,493.41 L839.8,493.50 L840.5,493.59 L841.3,493.68 L842.0,493.77 L842.8,493.86 L843.5,493.95 L844.3,494.04 L845.0,494.13 L845.8,494.21 L846.5,494.30 L847.3,494.39 L848.0,494.47 L848.8,494.56 L849.5,494.65 L850.3,494.73 L851.0,494.82 L851.8,494.90 L852.5,494.98 L853.3,495.07 L854.0,495.15 L854.8,495.24 L855.5,495.32 L856.3,495.40 L857.0,495.48 L857.8,495.56 L858.5,495.64 L859.3,495.73 L860.0,495.81 L860.8,495.89 L861.5,495.97 L862.3,496.04 L863.0,496.12 L863.8,496.20 L864.5,496.28 L865.3,496.36 L866.0,496.43 L866.8,496.51 L867.5,496.59 L868.3,496.66 L869.0,496.74 L869.8,496.81 L870.5,496.89 L871.3,496.96 L872.0,497.03 L872.8,497.11 L873.5,497.18" stroke="#2f4ca0" stroke-width="2.1" fill="none" stroke-linejoin="round"/>
<path d="M217.2,492.5V639.1" stroke="#ed1c24" stroke-width="1.9" fill="none"/>
<path d="M420.3,478.8V639.1" stroke="#ed1c24" stroke-width="1.9" fill="none"/>
<text x="107.5" y="668.9" font-family='"Liberation Sans", Arial, Helvetica, sans-serif' font-size="19.3" fill="#414042" text-anchor="middle" >0</text>
<text x="235.3" y="668.9" font-family='"Liberation Sans", Arial, Helvetica, sans-serif' font-size="19.3" fill="#414042" text-anchor="middle" >0.25</text>
<text x="363.1" y="668.9" font-family='"Liberation Sans", Arial, Helvetica, sans-serif' font-size="19.3" fill="#414042" text-anchor="middle" >0.5</text>
<text x="490.9" y="668.9" font-family='"Liberation Sans", Arial, Helvetica, sans-serif' font-size="19.3" fill="#414042" text-anchor="middle" >0.75</text>
<text x="618.7" y="668.9" font-family='"Liberation Sans", Arial, Helvetica, sans-serif' font-size="19.3" fill="#414042" text-anchor="middle" >1</text>
<text x="746.5" y="668.9" font-family='"Liberation Sans", Arial, Helvetica, sans-serif' font-size="19.3" fill="#414042" text-anchor="middle" >1.25</text>
<text x="874.2" y="668.9" font-family='"Liberation Sans", Arial, Helvetica, sans-serif' font-size="19.3" fill="#414042" text-anchor="middle" >1.5</text>
<text x="97.5" y="647.9" font-family='"Liberation Sans", Arial, Helvetica, sans-serif' font-size="19.3" fill="#414042" text-anchor="end" >0</text>
<text x="97.5" y="608.7" font-family='"Liberation Sans", Arial, Helvetica, sans-serif' font-size="19.3" fill="#414042" text-anchor="end" >0.25</text>
<text x="97.5" y="579.2" font-family='"Liberation Sans", Arial, Helvetica, sans-serif' font-size="19.3" fill="#414042" text-anchor="end" >0.4375</text>
<text x="97.5" y="549.8" font-family='"Liberation Sans", Arial, Helvetica, sans-serif' font-size="19.3" fill="#414042" text-anchor="end" >0.625</text>
<text x="97.5" y="510.5" font-family='"Liberation Sans", Arial, Helvetica, sans-serif' font-size="19.3" fill="#414042" text-anchor="end" >0.875</text>
<text x="97.5" y="490.9" font-family='"Liberation Sans", Arial, Helvetica, sans-serif' font-size="19.3" fill="#414042" text-anchor="end" >1</text>
<text x="97.5" y="471.3" font-family='"Liberation Sans", Arial, Helvetica, sans-serif' font-size="19.3" fill="#414042" text-anchor="end" >1.125</text>
<text x="491.3" y="410.4" font-family='"Liberation Sans", Arial, Helvetica, sans-serif' font-size="19.5" fill="#231f20" text-anchor="middle" >Low Amplitude Wave</text>
<text x="427.5" y="693.8" font-family='"Liberation Serif", "Times New Roman", serif' font-size="20.5" fill="#5f6062" textLength="126.5" lengthAdjust="spacingAndGlyphs"><tspan font-style="italic">t&#x302;</tspan><tspan font-size="14" dy="3.5">1</tspan><tspan dy="-3.5"> = (</tspan><tspan font-style="italic">t</tspan> &#x2212; <tspan font-style="italic">t</tspan><tspan font-size="14" dy="3.5">0</tspan><tspan dy="-3.5">)/</tspan><tspan font-style="italic">T</tspan></text>
<g transform="translate(25.2,528.9) rotate(-90)">
<text x="-37.8" y="0" font-family='"Liberation Serif", "Times New Roman", serif' font-size="20.5" fill="#5f6062" textLength="75.7" lengthAdjust="spacingAndGlyphs"><tspan font-style="italic">h&#x302;</tspan> = <tspan font-style="italic">h</tspan>/<tspan font-style="italic">h</tspan><tspan font-size="14" dy="3.5">0</tspan></text>
</g>
<text font-family='"Liberation Serif", "Times New Roman", serif' font-size="20.0" fill="#2b2a2c"><tspan x="223.0" y="525.7" font-style="italic">û</tspan><tspan x="241.0" y="525.7" textLength="14.2" lengthAdjust="spacingAndGlyphs">=</tspan><tspan x="261.6" y="525.7">-0.06</tspan></text>
<text font-family='"Liberation Serif", "Times New Roman", serif' font-size="20.0" fill="#2b2a2c"><tspan x="425.0" y="507.0" font-style="italic">û</tspan><tspan x="436.0" y="510.3" font-style="italic" font-size="15.2" textLength="26.5" lengthAdjust="spacingAndGlyphs">max</tspan><tspan x="471.0" y="507.0" textLength="14.2" lengthAdjust="spacingAndGlyphs">=</tspan><tspan x="492.0" y="507.0">0.11</tspan></text>
<rect x="910.3" y="635.35" width="43.0" height="4.05" fill="#2b2f87"/>
<rect x="910.3" y="631.91" width="43.0" height="4.05" fill="#2c348c"/>
<rect x="910.3" y="628.46" width="43.0" height="4.05" fill="#2e3a94"/>
<rect x="910.3" y="625.02" width="43.0" height="4.05" fill="#30419a"/>
<rect x="910.3" y="621.57" width="43.0" height="4.05" fill="#33469d"/>
<rect x="910.3" y="618.13" width="43.0" height="4.05" fill="#364b9f"/>
<rect x="910.3" y="614.68" width="43.0" height="4.05" fill="#3950a2"/>
<rect x="910.3" y="611.24" width="43.0" height="4.05" fill="#3951a3"/>
<rect x="910.3" y="607.79" width="43.0" height="4.05" fill="#3a52a3"/>
<rect x="910.3" y="604.35" width="43.0" height="4.05" fill="#3a54a4"/>
<rect x="910.3" y="600.90" width="43.0" height="4.05" fill="#3a57a6"/>
<rect x="910.3" y="597.46" width="43.0" height="4.05" fill="#3b5aa8"/>
<rect x="910.3" y="594.01" width="43.0" height="4.05" fill="#3c5eab"/>
<rect x="910.3" y="590.57" width="43.0" height="4.05" fill="#3d64af"/>
<rect x="910.3" y="587.12" width="43.0" height="4.05" fill="#3f6cb4"/>
<rect x="910.3" y="583.68" width="43.0" height="4.05" fill="#4077bc"/>
<rect x="910.3" y="580.23" width="43.0" height="4.05" fill="#4188c8"/>
<rect x="910.3" y="576.78" width="43.0" height="4.05" fill="#4197d3"/>
<rect x="910.3" y="573.34" width="43.0" height="4.05" fill="#3fa6dc"/>
<rect x="910.3" y="569.89" width="43.0" height="4.05" fill="#3ab5e7"/>
<rect x="910.3" y="566.45" width="43.0" height="4.05" fill="#33c4f3"/>
<rect x="910.3" y="563.00" width="43.0" height="4.05" fill="#48c7ec"/>
<rect x="910.3" y="559.56" width="43.0" height="4.05" fill="#5fc9e3"/>
<rect x="910.3" y="556.11" width="43.0" height="4.05" fill="#6dcad9"/>
<rect x="910.3" y="552.67" width="43.0" height="4.05" fill="#6fc9cc"/>
<rect x="910.3" y="549.22" width="43.0" height="4.05" fill="#71c8bf"/>
<rect x="910.3" y="545.78" width="43.0" height="4.05" fill="#74c7b2"/>
<rect x="910.3" y="542.33" width="43.0" height="4.05" fill="#79c7a2"/>
<rect x="910.3" y="538.89" width="43.0" height="4.05" fill="#7fc793"/>
<rect x="910.3" y="535.44" width="43.0" height="4.05" fill="#85c783"/>
<rect x="910.3" y="532.00" width="43.0" height="4.05" fill="#8dc873"/>
<rect x="910.3" y="528.55" width="43.0" height="4.05" fill="#94c963"/>
<rect x="910.3" y="525.10" width="43.0" height="4.05" fill="#9ccb54"/>
<rect x="910.3" y="521.66" width="43.0" height="4.05" fill="#a5ce46"/>
<rect x="910.3" y="518.21" width="43.0" height="4.05" fill="#b0d13a"/>
<rect x="910.3" y="514.77" width="43.0" height="4.05" fill="#bed631"/>
<rect x="910.3" y="511.32" width="43.0" height="4.05" fill="#cfda2a"/>
<rect x="910.3" y="507.88" width="43.0" height="4.05" fill="#dbdf26"/>
<rect x="910.3" y="504.43" width="43.0" height="4.05" fill="#e5e424"/>
<rect x="910.3" y="500.99" width="43.0" height="4.05" fill="#efe921"/>
<rect x="910.3" y="497.54" width="43.0" height="4.05" fill="#f7e618"/>
<rect x="910.3" y="494.10" width="43.0" height="4.05" fill="#fdd907"/>
<rect x="910.3" y="490.65" width="43.0" height="4.05" fill="#fec809"/>
<rect x="910.3" y="487.21" width="43.0" height="4.05" fill="#fcb514"/>
<rect x="910.3" y="483.76" width="43.0" height="4.05" fill="#fbaa17"/>
<rect x="910.3" y="480.32" width="43.0" height="4.05" fill="#f99e1a"/>
<rect x="910.3" y="476.87" width="43.0" height="4.05" fill="#f7921d"/>
<rect x="910.3" y="473.43" width="43.0" height="4.05" fill="#f5831f"/>
<rect x="910.3" y="469.98" width="43.0" height="4.05" fill="#f47420"/>
<rect x="910.3" y="466.53" width="43.0" height="4.05" fill="#f26622"/>
<rect x="910.3" y="463.09" width="43.0" height="4.05" fill="#f15723"/>
<rect x="910.3" y="459.64" width="43.0" height="4.05" fill="#f04823"/>
<rect x="910.3" y="456.20" width="43.0" height="4.05" fill="#ee3924"/>
<rect x="910.3" y="452.75" width="43.0" height="4.05" fill="#ee2f24"/>
<rect x="910.3" y="449.31" width="43.0" height="4.05" fill="#ed2724"/>
<rect x="910.3" y="445.86" width="43.0" height="4.05" fill="#ed1f24"/>
<rect x="910.3" y="442.42" width="43.0" height="4.05" fill="#e61d24"/>
<rect x="910.3" y="438.97" width="43.0" height="4.05" fill="#d91e25"/>
<rect x="910.3" y="435.53" width="43.0" height="4.05" fill="#cb1f26"/>
<rect x="910.3" y="432.08" width="43.0" height="4.05" fill="#bd1f25"/>
<rect x="910.3" y="428.64" width="43.0" height="4.05" fill="#ac1d22"/>
<rect x="910.3" y="425.19" width="43.0" height="4.05" fill="#9b1b1f"/>
<rect x="910.3" y="421.75" width="43.0" height="4.05" fill="#8c181c"/>
<rect x="910.3" y="418.30" width="43.0" height="4.05" fill="#7e1518"/>
<text x="960.9" y="614.0" font-family='"Liberation Sans", Arial, Helvetica, sans-serif' font-size="17.8" fill="#414042" text-anchor="start" >-0.2</text>
<text x="960.9" y="575.0" font-family='"Liberation Sans", Arial, Helvetica, sans-serif' font-size="17.8" fill="#414042" text-anchor="start" >-0.1</text>
<text x="960.9" y="536.1" font-family='"Liberation Sans", Arial, Helvetica, sans-serif' font-size="17.8" fill="#414042" text-anchor="start" >0</text>
<text x="960.9" y="497.1" font-family='"Liberation Sans", Arial, Helvetica, sans-serif' font-size="17.8" fill="#414042" text-anchor="start" >0.1</text>
<text x="960.9" y="458.1" font-family='"Liberation Sans", Arial, Helvetica, sans-serif' font-size="17.8" fill="#414042" text-anchor="start" >0.2</text>
<path d="M953.3,606.77h-3M953.3,567.81h-3M953.3,528.85h-3M953.3,489.89h-3M953.3,450.93h-3" stroke="#48484a" stroke-width="1.5" fill="none"/>
<rect x="910.30" y="418.60" width="43.00" height="220.50" fill="none" stroke="#48484a" stroke-width="1.8"/>
<g transform="translate(1013.6,528.9) rotate(-90)">
<text font-family='"Liberation Serif", "Times New Roman", serif' font-size="20.5" fill="#5f6062"><tspan x="-46.4" y="0" font-style="italic">u&#x302;</tspan><tspan x="-30.8" y="0">=</tspan><tspan x="-13.2" y="0" font-style="italic">u</tspan><tspan x="-2.6" y="3.2" font-size="25.5">/</tspan><tspan x="7.6" y="3.0" font-size="22">&#x221A;</tspan><tspan x="20.8" y="0" font-size="18.8" font-style="italic">g</tspan><tspan x="29.9" y="0" font-size="18.8" font-style="italic">h</tspan><tspan x="39.0" y="3.5" font-size="14.5">0</tspan></text>
<path d="M19.4,-14.3H47.2" stroke="#5f6062" stroke-width="1.3" fill="none"/>
</g>
</g>
<g>
<path d="M235.79,806.3V1026.8M363.58,806.3V1026.8M491.38,806.3V1026.8M619.17,806.3V1026.8M746.96,806.3V1026.8M108.0,987.85H874.8M108.0,958.41H874.8M108.0,928.97H874.8M108.0,889.72H874.8M108.0,870.10H874.8M108.0,850.47H874.8" stroke="#d4d5d6" stroke-width="1.45" fill="none"/>
<path d="M235.79,1026.8v-8.5M235.79,806.3v8.5M363.58,1026.8v-8.5M363.58,806.3v8.5M491.38,1026.8v-8.5M491.38,806.3v8.5M619.17,1026.8v-8.5M619.17,806.3v8.5M746.96,1026.8v-8.5M746.96,806.3v8.5M108.0,987.85h8.5M874.8,987.85h-8.5M108.0,958.41h8.5M874.8,958.41h-8.5M108.0,928.97h8.5M874.8,928.97h-8.5M108.0,889.72h8.5M874.8,889.72h-8.5M108.0,870.10h8.5M874.8,870.10h-8.5M108.0,850.47h8.5M874.8,850.47h-8.5" stroke="#48484a" stroke-width="1.7" fill="none"/>
<path d="M108.00,806.30V1026.80H874.75" fill="none" stroke="#48484a" stroke-width="1.9" stroke-linecap="square"/>
<g fill="none" stroke-width="2.2" stroke-linecap="butt">
<path stroke="#a5ce46" d="M102.1,929.9H113.9M108.0,924.0V935.8M103.8,925.7L112.2,934.0M103.8,934.0L112.2,925.7"/>
<path stroke="#94c963" d="M106.0,929.9H117.8M111.9,924.0V935.8M107.7,925.7L116.1,934.0M107.7,934.0L116.1,925.7"/>
<path stroke="#8dc873" d="M109.9,929.9H121.7M115.8,924.0V935.8M111.6,925.7L119.9,934.0M111.6,934.0L119.9,925.7"/>
<path stroke="#94c963" d="M113.7,929.9H125.5M119.6,924.0V935.8M115.5,925.7L123.8,934.0M115.5,934.0L123.8,925.7"/>
<path stroke="#8dc873" d="M117.6,929.9H129.4M123.5,924.0V935.8M119.3,925.7L127.7,934.0M119.3,934.0L127.7,925.7"/>
<path stroke="#7fc793" d="M121.5,929.9H133.3M127.4,924.0V935.8M123.2,925.7L131.6,934.0M123.2,934.0L131.6,925.7"/>
<path stroke="#7fc793" d="M125.4,929.9H137.2M131.3,924.0V935.8M127.1,925.7L135.5,934.0M127.1,934.0L135.5,925.7"/>
<path stroke="#79c7a2" d="M129.3,929.9H141.1M135.2,924.0V935.8M131.0,925.7L139.3,934.0M131.0,934.0L139.3,925.7"/>
<path stroke="#74c7b2" d="M133.1,929.9H144.9M139.0,924.0V935.8M134.9,925.7L143.2,934.0M134.9,934.0L143.2,925.7"/>
<path stroke="#71c8bf" d="M137.0,929.9H148.8M142.9,924.0V935.8M138.8,925.7L147.1,934.0M138.8,934.0L147.1,925.7"/>
<path stroke="#6dcad9" d="M140.9,929.9H152.7M146.8,924.0V935.8M142.6,925.7L151.0,934.0M142.6,934.0L151.0,925.7"/>
<path stroke="#5fc9e3" d="M144.8,929.9H156.6M150.7,924.0V935.8M146.5,925.7L154.9,934.0M146.5,934.0L154.9,925.7"/>
<path stroke="#6dcad9" d="M148.7,929.9H160.5M154.6,924.0V935.8M150.4,925.7L158.7,934.0M150.4,934.0L158.7,925.7"/>
<path stroke="#6fc9cc" d="M152.5,929.9H164.3M158.4,924.0V935.8M154.3,925.7L162.6,934.0M154.3,934.0L162.6,925.7"/>
<path stroke="#6fc9cc" d="M156.4,929.9H168.2M162.3,924.0V935.8M158.2,925.7L166.5,934.0M158.2,934.0L166.5,925.7"/>
<path stroke="#6dcad9" d="M160.3,929.9H172.1M166.2,924.0V935.8M162.0,925.7L170.4,934.0M162.0,934.0L170.4,925.7"/>
<path stroke="#6dcad9" d="M164.2,929.9H176.0M170.1,924.0V935.8M165.9,925.7L174.3,934.0M165.9,934.0L174.3,925.7"/>
<path stroke="#5fc9e3" d="M168.1,929.9H179.9M174.0,924.0V935.8M169.8,925.7L178.1,934.0M169.8,934.0L178.1,925.7"/>
<path stroke="#6dcad9" d="M171.9,929.9H183.7M177.8,924.0V935.8M173.7,925.7L182.0,934.0M173.7,934.0L182.0,925.7"/>
<path stroke="#5fc9e3" d="M175.8,929.9H187.6M181.7,924.0V935.8M177.6,925.7L185.9,934.0M177.6,934.0L185.9,925.7"/>
<path stroke="#5fc9e3" d="M179.7,929.9H191.5M185.6,924.0V935.8M181.4,925.7L189.8,934.0M181.4,934.0L189.8,925.7"/>
<path stroke="#48c7ec" d="M183.6,929.9H195.4M189.5,924.0V935.8M185.3,925.7L193.7,934.0M185.3,934.0L193.7,925.7"/>
<path stroke="#6fc9cc" d="M187.5,929.9H199.3M193.4,924.0V935.8M189.2,925.7L197.5,934.0M189.2,934.0L197.5,925.7"/>
<path stroke="#6dcad9" d="M191.3,929.9H203.1M197.2,924.0V935.8M193.1,925.7L201.4,934.0M193.1,934.0L201.4,925.7"/>
<path stroke="#33c4f3" d="M195.2,929.9H207.0M201.1,924.0V935.8M197.0,925.7L205.3,934.0M197.0,934.0L205.3,925.7"/>
<path stroke="#3fa6dc" d="M199.1,929.9H210.9M205.0,924.0V935.8M200.8,925.7L209.2,934.0M200.8,934.0L209.2,925.7"/>
<path stroke="#3ab5e7" d="M203.0,929.9H214.8M208.9,924.0V935.8M204.7,925.7L213.1,934.0M204.7,934.0L213.1,925.7"/>
<path stroke="#33c4f3" d="M206.9,929.9H218.7M212.8,924.0V935.8M208.6,925.7L216.9,934.0M208.6,934.0L216.9,925.7"/>
<path stroke="#3fa6dc" d="M210.7,929.9H222.5M216.6,924.0V935.8M212.5,925.7L220.8,934.0M212.5,934.0L220.8,925.7"/>
<path stroke="#4197d3" d="M214.6,929.9H226.4M220.5,924.0V935.8M216.4,925.7L224.7,934.0M216.4,934.0L224.7,925.7"/>
<path stroke="#33c4f3" d="M218.5,929.9H230.3M224.4,924.0V935.8M220.2,925.7L228.6,934.0M220.2,934.0L228.6,925.7"/>
<path stroke="#33c4f3" d="M222.4,929.9H234.2M228.3,924.0V935.8M224.1,925.7L232.5,934.0M224.1,934.0L232.5,925.7"/>
<path stroke="#5fc9e3" d="M226.3,929.9H238.1M232.2,924.0V935.8M228.0,925.7L236.3,934.0M228.0,934.0L236.3,925.7"/>
<path stroke="#48c7ec" d="M230.1,929.9H241.9M236.0,924.0V935.8M231.9,925.7L240.2,934.0M231.9,934.0L240.2,925.7"/>
<path stroke="#48c7ec" d="M234.0,929.9H245.8M239.9,924.0V935.8M235.8,925.7L244.1,934.0M235.8,934.0L244.1,925.7"/>
<path stroke="#48c7ec" d="M237.9,929.9H249.7M243.8,924.0V935.8M239.6,925.7L248.0,934.0M239.6,934.0L248.0,925.7"/>
<path stroke="#48c7ec" d="M241.8,929.9H253.6M247.7,924.0V935.8M243.5,925.7L251.9,934.0M243.5,934.0L251.9,925.7"/>
<path stroke="#5fc9e3" d="M245.7,929.9H257.5M251.6,924.0V935.8M247.4,925.7L255.7,934.0M247.4,934.0L255.7,925.7"/>
<path stroke="#6fc9cc" d="M249.5,929.9H261.3M255.4,924.0V935.8M251.3,925.7L259.6,934.0M251.3,934.0L259.6,925.7"/>
<path stroke="#79c7a2" d="M253.4,929.9H265.2M259.3,924.0V935.8M255.2,925.7L263.5,934.0M255.2,934.0L263.5,925.7"/>
<path stroke="#79c7a2" d="M257.3,929.9H269.1M263.2,924.0V935.8M259.0,925.7L267.4,934.0M259.0,934.0L267.4,925.7"/>
<path stroke="#8dc873" d="M261.2,929.9H273.0M267.1,924.0V935.8M262.9,925.7L271.3,934.0M262.9,934.0L271.3,925.7"/>
<path stroke="#94c963" d="M265.1,929.9H276.9M271.0,924.0V935.8M266.8,925.7L275.1,934.0M266.8,934.0L275.1,925.7"/>
<path stroke="#a5ce46" d="M269.0,929.9H280.8M274.9,924.0V935.8M270.7,925.7L279.0,934.0M270.7,934.0L279.0,925.7"/>
<path stroke="#bed631" d="M272.8,929.9H284.6M278.7,924.0V935.8M274.6,925.7L282.9,934.0M274.6,934.0L282.9,925.7"/>
<path stroke="#cfda2a" d="M276.7,929.9H288.5M282.6,924.0V935.8M278.4,925.7L286.8,934.0M278.4,934.0L286.8,925.7"/>
<path stroke="#dbdf26" d="M280.6,929.9H292.4M286.5,924.0V935.8M282.3,925.7L290.7,934.0M282.3,934.0L290.7,925.7"/>
<path stroke="#e5e424" d="M284.5,929.9H296.3M290.4,924.0V935.8M286.2,925.7L294.5,934.0M286.2,934.0L294.5,925.7"/>
<path stroke="#efe921" d="M288.4,929.9H300.2M294.3,924.0V935.8M290.1,925.7L298.4,934.0M290.1,934.0L298.4,925.7"/>
<path stroke="#efe921" d="M292.2,929.9H304.0M298.1,924.0V935.8M294.0,925.7L302.3,934.0M294.0,934.0L302.3,925.7"/>
<path stroke="#fec809" d="M296.1,929.9H307.9M302.0,924.0V935.8M297.8,925.7L306.2,934.0M297.8,934.0L306.2,925.7"/>
<path stroke="#fec809" d="M300.0,929.9H311.8M305.9,924.0V935.8M301.7,925.7L310.1,934.0M301.7,934.0L310.1,925.7"/>
<path stroke="#f99e1a" d="M303.9,929.9H315.7M309.8,924.0V935.8M305.6,925.7L313.9,934.0M305.6,934.0L313.9,925.7"/>
<path stroke="#f99e1a" d="M307.8,929.9H319.6M313.7,924.0V935.8M309.5,925.7L317.8,934.0M309.5,934.0L317.8,925.7"/>
<path stroke="#f5831f" d="M311.6,929.9H323.4M317.5,924.0V935.8M313.4,925.7L321.7,934.0M313.4,934.0L321.7,925.7"/>
<path stroke="#f5831f" d="M315.5,929.9H327.3M321.4,924.0V935.8M317.2,925.7L325.6,934.0M317.2,934.0L325.6,925.7"/>
<path stroke="#f5831f" d="M319.4,929.9H331.2M325.3,924.0V935.8M321.1,925.7L329.5,934.0M321.1,934.0L329.5,925.7"/>
<path stroke="#f47420" d="M323.3,929.9H335.1M329.2,924.0V935.8M325.0,925.7L333.3,934.0M325.0,934.0L333.3,925.7"/>
<path stroke="#f47420" d="M327.2,929.9H339.0M333.1,924.0V935.8M328.9,925.7L337.2,934.0M328.9,934.0L337.2,925.7"/>
<path stroke="#f04823" d="M331.0,929.9H342.8M336.9,924.0V935.8M332.8,925.7L341.1,934.0M332.8,934.0L341.1,925.7"/>
<path stroke="#f15723" d="M334.9,929.9H346.7M340.8,924.0V935.8M336.6,925.7L345.0,934.0M336.6,934.0L345.0,925.7"/>
<path stroke="#f04823" d="M338.8,929.9H350.6M344.7,924.0V935.8M340.5,925.7L348.9,934.0M340.5,934.0L348.9,925.7"/>
<path stroke="#ee3924" d="M342.7,929.9H354.5M348.6,924.0V935.8M344.4,925.7L352.7,934.0M344.4,934.0L352.7,925.7"/>
<path stroke="#ee3924" d="M346.6,929.9H358.4M352.5,924.0V935.8M348.3,925.7L356.6,934.0M348.3,934.0L356.6,925.7"/>
<path stroke="#ee2f24" d="M350.4,929.9H362.2M356.3,924.0V935.8M352.2,925.7L360.5,934.0M352.2,934.0L360.5,925.7"/>
<path stroke="#ee3924" d="M354.3,929.9H366.1M360.2,924.0V935.8M356.0,925.7L364.4,934.0M356.0,934.0L364.4,925.7"/>
<path stroke="#ee2f24" d="M358.2,929.9H370.0M364.1,924.0V935.8M359.9,925.7L368.3,934.0M359.9,934.0L368.3,925.7"/>
<path stroke="#ee2f24" d="M362.1,929.9H373.9M368.0,924.0V935.8M363.8,925.7L372.1,934.0M363.8,934.0L372.1,925.7"/>
<path stroke="#f04823" d="M366.0,929.9H377.8M371.9,924.0V935.8M367.7,925.7L376.0,934.0M367.7,934.0L376.0,925.7"/>
<path stroke="#f15723" d="M369.8,929.9H381.6M375.7,924.0V935.8M371.6,925.7L379.9,934.0M371.6,934.0L379.9,925.7"/>
<path stroke="#f04823" d="M373.7,929.9H385.5M379.6,924.0V935.8M375.4,925.7L383.8,934.0M375.4,934.0L383.8,925.7"/>
<path stroke="#f04823" d="M377.6,929.9H389.4M383.5,924.0V935.8M379.3,925.7L387.7,934.0M379.3,934.0L387.7,925.7"/>
<path stroke="#f04823" d="M381.5,929.9H393.3M387.4,924.0V935.8M383.2,925.7L391.5,934.0M383.2,934.0L391.5,925.7"/>
<path stroke="#ee2f24" d="M385.4,929.9H397.2M391.3,924.0V935.8M387.1,925.7L395.4,934.0M387.1,934.0L395.4,925.7"/>
<path stroke="#f04823" d="M389.2,929.9H401.0M395.1,924.0V935.8M391.0,925.7L399.3,934.0M391.0,934.0L399.3,925.7"/>
<path stroke="#ee3924" d="M393.1,929.9H404.9M399.0,924.0V935.8M394.8,925.7L403.2,934.0M394.8,934.0L403.2,925.7"/>
<path stroke="#ee3924" d="M397.0,929.9H408.8M402.9,924.0V935.8M398.7,925.7L407.1,934.0M398.7,934.0L407.1,925.7"/>
<path stroke="#ee3924" d="M400.9,929.9H412.7M406.8,924.0V935.8M402.6,925.7L410.9,934.0M402.6,934.0L410.9,925.7"/>
<path stroke="#ed2724" d="M404.8,929.9H416.6M410.7,924.0V935.8M406.5,925.7L414.8,934.0M406.5,934.0L414.8,925.7"/>
<path stroke="#ee2f24" d="M408.6,929.9H420.4M414.5,924.0V935.8M410.4,925.7L418.7,934.0M410.4,934.0L418.7,925.7"/>
<path stroke="#f04823" d="M412.5,929.9H424.3M418.4,924.0V935.8M414.2,925.7L422.6,934.0M414.2,934.0L422.6,925.7"/>
<path stroke="#ee3924" d="M416.4,929.9H428.2M422.3,924.0V935.8M418.1,925.7L426.5,934.0M418.1,934.0L426.5,925.7"/>
<path stroke="#ee2f24" d="M420.3,929.9H432.1M426.2,924.0V935.8M422.0,925.7L430.4,934.0M422.0,934.0L430.4,925.7"/>
<path stroke="#f04823" d="M424.2,929.9H436.0M430.1,924.0V935.8M425.9,925.7L434.2,934.0M425.9,934.0L434.2,925.7"/>
<path stroke="#f04823" d="M428.0,929.9H439.8M433.9,924.0V935.8M429.8,925.7L438.1,934.0M429.8,934.0L438.1,925.7"/>
<path stroke="#f15723" d="M431.9,929.9H443.7M437.8,924.0V935.8M433.6,925.7L442.0,934.0M433.6,934.0L442.0,925.7"/>
<path stroke="#f04823" d="M435.8,929.9H447.6M441.7,924.0V935.8M437.5,925.7L445.9,934.0M437.5,934.0L445.9,925.7"/>
<path stroke="#f47420" d="M439.7,929.9H451.5M445.6,924.0V935.8M441.4,925.7L449.8,934.0M441.4,934.0L449.8,925.7"/>
<path stroke="#f5831f" d="M443.6,929.9H455.4M449.5,924.0V935.8M445.3,925.7L453.6,934.0M445.3,934.0L453.6,925.7"/>
<path stroke="#f7921d" d="M447.4,929.9H459.2M453.3,924.0V935.8M449.2,925.7L457.5,934.0M449.2,934.0L457.5,925.7"/>
<path stroke="#f99e1a" d="M451.3,929.9H463.1M457.2,924.0V935.8M453.0,925.7L461.4,934.0M453.0,934.0L461.4,925.7"/>
<path stroke="#f99e1a" d="M455.2,929.9H467.0M461.1,924.0V935.8M456.9,925.7L465.3,934.0M456.9,934.0L465.3,925.7"/>
<path stroke="#f99e1a" d="M459.1,929.9H470.9M465.0,924.0V935.8M460.8,925.7L469.2,934.0M460.8,934.0L469.2,925.7"/>
<path stroke="#fec809" d="M463.0,929.9H474.8M468.9,924.0V935.8M464.7,925.7L473.0,934.0M464.7,934.0L473.0,925.7"/>
<path stroke="#fdd907" d="M466.8,929.9H478.6M472.7,924.0V935.8M468.6,925.7L476.9,934.0M468.6,934.0L476.9,925.7"/>
<path stroke="#fdd907" d="M470.7,929.9H482.5M476.6,924.0V935.8M472.5,925.7L480.8,934.0M472.5,934.0L480.8,925.7"/>
<path stroke="#fdd907" d="M474.6,929.9H486.4M480.5,924.0V935.8M476.3,925.7L484.7,934.0M476.3,934.0L484.7,925.7"/>
<path stroke="#f7e618" d="M478.5,929.9H490.3M484.4,924.0V935.8M480.2,925.7L488.6,934.0M480.2,934.0L488.6,925.7"/>
<path stroke="#efe921" d="M482.4,929.9H494.2M488.3,924.0V935.8M484.1,925.7L492.4,934.0M484.1,934.0L492.4,925.7"/>
<path stroke="#e5e424" d="M486.2,929.9H498.0M492.1,924.0V935.8M488.0,925.7L496.3,934.0M488.0,934.0L496.3,925.7"/>
<path stroke="#dbdf26" d="M490.1,929.9H501.9M496.0,924.0V935.8M491.9,925.7L500.2,934.0M491.9,934.0L500.2,925.7"/>
<path stroke="#cfda2a" d="M494.0,929.9H505.8M499.9,924.0V935.8M495.7,925.7L504.1,934.0M495.7,934.0L504.1,925.7"/>
<path stroke="#cfda2a" d="M497.9,929.9H509.7M503.8,924.0V935.8M499.6,925.7L508.0,934.0M499.6,934.0L508.0,925.7"/>
<path stroke="#a5ce46" d="M501.8,929.9H513.6M507.7,924.0V935.8M503.5,925.7L511.8,934.0M503.5,934.0L511.8,925.7"/>
<path stroke="#9ccb54" d="M505.6,929.9H517.4M511.5,924.0V935.8M507.4,925.7L515.7,934.0M507.4,934.0L515.7,925.7"/>
<path stroke="#8dc873" d="M509.5,929.9H521.3M515.4,924.0V935.8M511.3,925.7L519.6,934.0M511.3,934.0L519.6,925.7"/>
<path stroke="#94c963" d="M513.4,929.9H525.2M519.3,924.0V935.8M515.1,925.7L523.5,934.0M515.1,934.0L523.5,925.7"/>
<path stroke="#85c783" d="M517.3,929.9H529.1M523.2,924.0V935.8M519.0,925.7L527.4,934.0M519.0,934.0L527.4,925.7"/>
<path stroke="#79c7a2" d="M521.2,929.9H533.0M527.1,924.0V935.8M522.9,925.7L531.2,934.0M522.9,934.0L531.2,925.7"/>
<path stroke="#71c8bf" d="M525.0,929.9H536.8M530.9,924.0V935.8M526.8,925.7L535.1,934.0M526.8,934.0L535.1,925.7"/>
<path stroke="#6dcad9" d="M528.9,929.9H540.7M534.8,924.0V935.8M530.7,925.7L539.0,934.0M530.7,934.0L539.0,925.7"/>
<path stroke="#48c7ec" d="M532.8,929.9H544.6M538.7,924.0V935.8M534.5,925.7L542.9,934.0M534.5,934.0L542.9,925.7"/>
<path stroke="#33c4f3" d="M536.7,929.9H548.5M542.6,924.0V935.8M538.4,925.7L546.8,934.0M538.4,934.0L546.8,925.7"/>
<path stroke="#3ab5e7" d="M540.6,929.9H552.4M546.5,924.0V935.8M542.3,925.7L550.6,934.0M542.3,934.0L550.6,925.7"/>
<path stroke="#4197d3" d="M544.4,929.9H556.2M550.3,924.0V935.8M546.2,925.7L554.5,934.0M546.2,934.0L554.5,925.7"/>
<path stroke="#4188c8" d="M548.3,929.9H560.1M554.2,924.0V935.8M550.1,925.7L558.4,934.0M550.1,934.0L558.4,925.7"/>
<path stroke="#4188c8" d="M552.2,929.9H564.0M558.1,924.0V935.8M553.9,925.7L562.3,934.0M553.9,934.0L562.3,925.7"/>
<path stroke="#4077bc" d="M556.1,929.9H567.9M562.0,924.0V935.8M557.8,925.7L566.2,934.0M557.8,934.0L566.2,925.7"/>
<path stroke="#3d64af" d="M560.0,929.9H571.8M565.9,924.0V935.8M561.7,925.7L570.0,934.0M561.7,934.0L570.0,925.7"/>
<path stroke="#3f6cb4" d="M563.8,929.9H575.6M569.7,924.0V935.8M565.6,925.7L573.9,934.0M565.6,934.0L573.9,925.7"/>
<path stroke="#3c5eab" d="M567.7,929.9H579.5M573.6,924.0V935.8M569.5,925.7L577.8,934.0M569.5,934.0L577.8,925.7"/>
<path stroke="#3d64af" d="M571.6,929.9H583.4M577.5,924.0V935.8M573.3,925.7L581.7,934.0M573.3,934.0L581.7,925.7"/>
<path stroke="#3d64af" d="M575.5,929.9H587.3M581.4,924.0V935.8M577.2,925.7L585.6,934.0M577.2,934.0L585.6,925.7"/>
<path stroke="#3c5eab" d="M579.4,929.9H591.2M585.3,924.0V935.8M581.1,925.7L589.4,934.0M581.1,934.0L589.4,925.7"/>
<path stroke="#3b5aa8" d="M583.2,929.9H595.0M589.1,924.0V935.8M585.0,925.7L593.3,934.0M585.0,934.0L593.3,925.7"/>
<path stroke="#3b5aa8" d="M587.1,929.9H598.9M593.0,924.0V935.8M588.9,925.7L597.2,934.0M588.9,934.0L597.2,925.7"/>
<path stroke="#3d64af" d="M591.0,929.9H602.8M596.9,924.0V935.8M592.7,925.7L601.1,934.0M592.7,934.0L601.1,925.7"/>
<path stroke="#3b5aa8" d="M594.9,929.9H606.7M600.8,924.0V935.8M596.6,925.7L605.0,934.0M596.6,934.0L605.0,925.7"/>
<path stroke="#3d64af" d="M598.8,929.9H610.6M604.7,924.0V935.8M600.5,925.7L608.8,934.0M600.5,934.0L608.8,925.7"/>
<path stroke="#3f6cb4" d="M602.6,929.9H614.4M608.5,924.0V935.8M604.4,925.7L612.7,934.0M604.4,934.0L612.7,925.7"/>
<path stroke="#3d64af" d="M606.5,929.9H618.3M612.4,924.0V935.8M608.3,925.7L616.6,934.0M608.3,934.0L616.6,925.7"/>
<path stroke="#3d64af" d="M610.4,929.9H622.2M616.3,924.0V935.8M612.1,925.7L620.5,934.0M612.1,934.0L620.5,925.7"/>
<path stroke="#3f6cb4" d="M614.3,929.9H626.1M620.2,924.0V935.8M616.0,925.7L624.4,934.0M616.0,934.0L624.4,925.7"/>
<path stroke="#3f6cb4" d="M618.2,929.9H630.0M624.1,924.0V935.8M619.9,925.7L628.2,934.0M619.9,934.0L628.2,925.7"/>
<path stroke="#3f6cb4" d="M622.1,929.9H633.9M628.0,924.0V935.8M623.8,925.7L632.1,934.0M623.8,934.0L632.1,925.7"/>
<path stroke="#3f6cb4" d="M625.9,929.9H637.7M631.8,924.0V935.8M627.7,925.7L636.0,934.0M627.7,934.0L636.0,925.7"/>
<path stroke="#3d64af" d="M629.8,929.9H641.6M635.7,924.0V935.8M631.5,925.7L639.9,934.0M631.5,934.0L639.9,925.7"/>
<path stroke="#3d64af" d="M633.7,929.9H645.5M639.6,924.0V935.8M635.4,925.7L643.8,934.0M635.4,934.0L643.8,925.7"/>
<path stroke="#3b5aa8" d="M637.6,929.9H649.4M643.5,924.0V935.8M639.3,925.7L647.6,934.0M639.3,934.0L647.6,925.7"/>
<path stroke="#3c5eab" d="M641.5,929.9H653.3M647.4,924.0V935.8M643.2,925.7L651.5,934.0M643.2,934.0L651.5,925.7"/>
<path stroke="#3f6cb4" d="M645.3,929.9H657.1M651.2,924.0V935.8M647.1,925.7L655.4,934.0M647.1,934.0L655.4,925.7"/>
<path stroke="#3f6cb4" d="M649.2,929.9H661.0M655.1,924.0V935.8M650.9,925.7L659.3,934.0M650.9,934.0L659.3,925.7"/>
<path stroke="#4077bc" d="M653.1,929.9H664.9M659.0,924.0V935.8M654.8,925.7L663.2,934.0M654.8,934.0L663.2,925.7"/>
<path stroke="#4077bc" d="M657.0,929.9H668.8M662.9,924.0V935.8M658.7,925.7L667.0,934.0M658.7,934.0L667.0,925.7"/>
<path stroke="#4188c8" d="M660.9,929.9H672.7M666.8,924.0V935.8M662.6,925.7L670.9,934.0M662.6,934.0L670.9,925.7"/>
<path stroke="#4197d3" d="M664.7,929.9H676.5M670.6,924.0V935.8M666.5,925.7L674.8,934.0M666.5,934.0L674.8,925.7"/>
<path stroke="#3fa6dc" d="M668.6,929.9H680.4M674.5,924.0V935.8M670.3,925.7L678.7,934.0M670.3,934.0L678.7,925.7"/>
<path stroke="#3fa6dc" d="M672.5,929.9H684.3M678.4,924.0V935.8M674.2,925.7L682.6,934.0M674.2,934.0L682.6,925.7"/>
<path stroke="#3ab5e7" d="M676.4,929.9H688.2M682.3,924.0V935.8M678.1,925.7L686.4,934.0M678.1,934.0L686.4,925.7"/>
<path stroke="#33c4f3" d="M680.3,929.9H692.1M686.2,924.0V935.8M682.0,925.7L690.3,934.0M682.0,934.0L690.3,925.7"/>
<path stroke="#48c7ec" d="M684.1,929.9H695.9M690.0,924.0V935.8M685.9,925.7L694.2,934.0M685.9,934.0L694.2,925.7"/>
<path stroke="#33c4f3" d="M688.0,929.9H699.8M693.9,924.0V935.8M689.7,925.7L698.1,934.0M689.7,934.0L698.1,925.7"/>
<path stroke="#48c7ec" d="M691.9,929.9H703.7M697.8,924.0V935.8M693.6,925.7L702.0,934.0M693.6,934.0L702.0,925.7"/>
<path stroke="#6dcad9" d="M695.8,929.9H707.6M701.7,924.0V935.8M697.5,925.7L705.8,934.0M697.5,934.0L705.8,925.7"/>
<path stroke="#5fc9e3" d="M699.7,929.9H711.5M705.6,924.0V935.8M701.4,925.7L709.7,934.0M701.4,934.0L709.7,925.7"/>
<path stroke="#71c8bf" d="M703.5,929.9H715.3M709.4,924.0V935.8M705.3,925.7L713.6,934.0M705.3,934.0L713.6,925.7"/>
<path stroke="#71c8bf" d="M707.4,929.9H719.2M713.3,924.0V935.8M709.1,925.7L717.5,934.0M709.1,934.0L717.5,925.7"/>
<path stroke="#74c7b2" d="M711.3,929.9H723.1M717.2,924.0V935.8M713.0,925.7L721.4,934.0M713.0,934.0L721.4,925.7"/>
<path stroke="#85c783" d="M715.2,929.9H727.0M721.1,924.0V935.8M716.9,925.7L725.2,934.0M716.9,934.0L725.2,925.7"/>
<path stroke="#8dc873" d="M719.1,929.9H730.9M725.0,924.0V935.8M720.8,925.7L729.1,934.0M720.8,934.0L729.1,925.7"/>
<path stroke="#8dc873" d="M722.9,929.9H734.7M728.8,924.0V935.8M724.7,925.7L733.0,934.0M724.7,934.0L733.0,925.7"/>
<path stroke="#85c783" d="M726.8,929.9H738.6M732.7,924.0V935.8M728.5,925.7L736.9,934.0M728.5,934.0L736.9,925.7"/>
<path stroke="#8dc873" d="M730.7,929.9H742.5M736.6,924.0V935.8M732.4,925.7L740.8,934.0M732.4,934.0L740.8,925.7"/>
<path stroke="#9ccb54" d="M734.6,929.9H746.4M740.5,924.0V935.8M736.3,925.7L744.6,934.0M736.3,934.0L744.6,925.7"/>
<path stroke="#9ccb54" d="M738.5,929.9H750.3M744.4,924.0V935.8M740.2,925.7L748.5,934.0M740.2,934.0L748.5,925.7"/>
<path stroke="#a5ce46" d="M742.3,929.9H754.1M748.2,924.0V935.8M744.1,925.7L752.4,934.0M744.1,934.0L752.4,925.7"/>
<path stroke="#b0d13a" d="M746.2,929.9H758.0M752.1,924.0V935.8M747.9,925.7L756.3,934.0M747.9,934.0L756.3,925.7"/>
<path stroke="#b0d13a" d="M750.1,929.9H761.9M756.0,924.0V935.8M751.8,925.7L760.2,934.0M751.8,934.0L760.2,925.7"/>
<path stroke="#cfda2a" d="M754.0,929.9H765.8M759.9,924.0V935.8M755.7,925.7L764.1,934.0M755.7,934.0L764.1,925.7"/>
<path stroke="#bed631" d="M757.9,929.9H769.7M763.8,924.0V935.8M759.6,925.7L767.9,934.0M759.6,934.0L767.9,925.7"/>
<path stroke="#cfda2a" d="M761.7,929.9H773.5M767.6,924.0V935.8M763.5,925.7L771.8,934.0M763.5,934.0L771.8,925.7"/>
<path stroke="#dbdf26" d="M765.6,929.9H777.4M771.5,924.0V935.8M767.3,925.7L775.7,934.0M767.3,934.0L775.7,925.7"/>
<path stroke="#e5e424" d="M769.5,929.9H781.3M775.4,924.0V935.8M771.2,925.7L779.6,934.0M771.2,934.0L779.6,925.7"/>
<path stroke="#a5ce46" d="M102.1,959.3H113.9M108.0,953.4V965.2M103.8,955.1L112.2,963.5M103.8,963.5L112.2,955.1"/>
<path stroke="#9ccb54" d="M106.0,959.3H117.8M111.9,953.4V965.2M107.7,955.1L116.0,963.5M107.7,963.5L116.0,955.1"/>
<path stroke="#94c963" d="M109.9,959.3H121.7M115.8,953.4V965.2M111.6,955.1L119.9,963.5M111.6,963.5L119.9,955.1"/>
<path stroke="#94c963" d="M113.7,959.3H125.5M119.6,953.4V965.2M115.5,955.1L123.8,963.5M115.5,963.5L123.8,955.1"/>
<path stroke="#8dc873" d="M117.6,959.3H129.4M123.5,953.4V965.2M119.3,955.1L127.7,963.5M119.3,963.5L127.7,955.1"/>
<path stroke="#85c783" d="M121.5,959.3H133.3M127.4,953.4V965.2M123.2,955.1L131.6,963.5M123.2,963.5L131.6,955.1"/>
<path stroke="#7fc793" d="M125.4,959.3H137.2M131.3,953.4V965.2M127.1,955.1L135.4,963.5M127.1,963.5L135.4,955.1"/>
<path stroke="#7fc793" d="M129.2,959.3H141.0M135.1,953.4V965.2M131.0,955.1L139.3,963.5M131.0,963.5L139.3,955.1"/>
<path stroke="#79c7a2" d="M133.1,959.3H144.9M139.0,953.4V965.2M134.8,955.1L143.2,963.5M134.8,963.5L143.2,955.1"/>
<path stroke="#79c7a2" d="M137.0,959.3H148.8M142.9,953.4V965.2M138.7,955.1L147.1,963.5M138.7,963.5L147.1,955.1"/>
<path stroke="#74c7b2" d="M140.9,959.3H152.7M146.8,953.4V965.2M142.6,955.1L150.9,963.5M142.6,963.5L150.9,955.1"/>
<path stroke="#74c7b2" d="M144.7,959.3H156.5M150.6,953.4V965.2M146.5,955.1L154.8,963.5M146.5,963.5L154.8,955.1"/>
<path stroke="#71c8bf" d="M148.6,959.3H160.4M154.5,953.4V965.2M150.3,955.1L158.7,963.5M150.3,963.5L158.7,955.1"/>
<path stroke="#6fc9cc" d="M152.5,959.3H164.3M158.4,953.4V965.2M154.2,955.1L162.6,963.5M154.2,963.5L162.6,955.1"/>
<path stroke="#6fc9cc" d="M156.4,959.3H168.2M162.3,953.4V965.2M158.1,955.1L166.4,963.5M158.1,963.5L166.4,955.1"/>
<path stroke="#5fc9e3" d="M160.2,959.3H172.0M166.1,953.4V965.2M162.0,955.1L170.3,963.5M162.0,963.5L170.3,955.1"/>
<path stroke="#5fc9e3" d="M164.1,959.3H175.9M170.0,953.4V965.2M165.8,955.1L174.2,963.5M165.8,963.5L174.2,955.1"/>
<path stroke="#48c7ec" d="M168.0,959.3H179.8M173.9,953.4V965.2M169.7,955.1L178.1,963.5M169.7,963.5L178.1,955.1"/>
<path stroke="#48c7ec" d="M171.9,959.3H183.7M177.8,953.4V965.2M173.6,955.1L181.9,963.5M173.6,963.5L181.9,955.1"/>
<path stroke="#33c4f3" d="M175.7,959.3H187.5M181.6,953.4V965.2M177.5,955.1L185.8,963.5M177.5,963.5L185.8,955.1"/>
<path stroke="#33c4f3" d="M179.6,959.3H191.4M185.5,953.4V965.2M181.3,955.1L189.7,963.5M181.3,963.5L189.7,955.1"/>
<path stroke="#33c4f3" d="M183.5,959.3H195.3M189.4,953.4V965.2M185.2,955.1L193.6,963.5M185.2,963.5L193.6,955.1"/>
<path stroke="#48c7ec" d="M187.4,959.3H199.2M193.3,953.4V965.2M189.1,955.1L197.4,963.5M189.1,963.5L197.4,955.1"/>
<path stroke="#33c4f3" d="M191.2,959.3H203.0M197.1,953.4V965.2M193.0,955.1L201.3,963.5M193.0,963.5L201.3,955.1"/>
<path stroke="#48c7ec" d="M195.1,959.3H206.9M201.0,953.4V965.2M196.8,955.1L205.2,963.5M196.8,963.5L205.2,955.1"/>
<path stroke="#48c7ec" d="M199.0,959.3H210.8M204.9,953.4V965.2M200.7,955.1L209.1,963.5M200.7,963.5L209.1,955.1"/>
<path stroke="#48c7ec" d="M202.9,959.3H214.7M208.8,953.4V965.2M204.6,955.1L212.9,963.5M204.6,963.5L212.9,955.1"/>
<path stroke="#48c7ec" d="M206.7,959.3H218.5M212.6,953.4V965.2M208.5,955.1L216.8,963.5M208.5,963.5L216.8,955.1"/>
<path stroke="#33c4f3" d="M210.6,959.3H222.4M216.5,953.4V965.2M212.3,955.1L220.7,963.5M212.3,963.5L220.7,955.1"/>
<path stroke="#3fa6dc" d="M214.5,959.3H226.3M220.4,953.4V965.2M216.2,955.1L224.6,963.5M216.2,963.5L224.6,955.1"/>
<path stroke="#33c4f3" d="M218.4,959.3H230.2M224.3,953.4V965.2M220.1,955.1L228.4,963.5M220.1,963.5L228.4,955.1"/>
<path stroke="#33c4f3" d="M222.2,959.3H234.0M228.1,953.4V965.2M224.0,955.1L232.3,963.5M224.0,963.5L232.3,955.1"/>
<path stroke="#48c7ec" d="M226.1,959.3H237.9M232.0,953.4V965.2M227.9,955.1L236.2,963.5M227.9,963.5L236.2,955.1"/>
<path stroke="#5fc9e3" d="M230.0,959.3H241.8M235.9,953.4V965.2M231.7,955.1L240.1,963.5M231.7,963.5L240.1,955.1"/>
<path stroke="#5fc9e3" d="M233.9,959.3H245.7M239.8,953.4V965.2M235.6,955.1L243.9,963.5M235.6,963.5L243.9,955.1"/>
<path stroke="#6dcad9" d="M237.8,959.3H249.6M243.7,953.4V965.2M239.5,955.1L247.8,963.5M239.5,963.5L247.8,955.1"/>
<path stroke="#6dcad9" d="M241.6,959.3H253.4M247.5,953.4V965.2M243.4,955.1L251.7,963.5M243.4,963.5L251.7,955.1"/>
<path stroke="#71c8bf" d="M245.5,959.3H257.3M251.4,953.4V965.2M247.2,955.1L255.6,963.5M247.2,963.5L255.6,955.1"/>
<path stroke="#71c8bf" d="M249.4,959.3H261.2M255.3,953.4V965.2M251.1,955.1L259.4,963.5M251.1,963.5L259.4,955.1"/>
<path stroke="#74c7b2" d="M253.3,959.3H265.1M259.2,953.4V965.2M255.0,955.1L263.3,963.5M255.0,963.5L263.3,955.1"/>
<path stroke="#7fc793" d="M257.1,959.3H268.9M263.0,953.4V965.2M258.9,955.1L267.2,963.5M258.9,963.5L267.2,955.1"/>
<path stroke="#7fc793" d="M261.0,959.3H272.8M266.9,953.4V965.2M262.7,955.1L271.1,963.5M262.7,963.5L271.1,955.1"/>
<path stroke="#8dc873" d="M264.9,959.3H276.7M270.8,953.4V965.2M266.6,955.1L275.0,963.5M266.6,963.5L275.0,955.1"/>
<path stroke="#8dc873" d="M268.8,959.3H280.6M274.7,953.4V965.2M270.5,955.1L278.8,963.5M270.5,963.5L278.8,955.1"/>
<path stroke="#9ccb54" d="M272.6,959.3H284.4M278.5,953.4V965.2M274.4,955.1L282.7,963.5M274.4,963.5L282.7,955.1"/>
<path stroke="#b0d13a" d="M276.5,959.3H288.3M282.4,953.4V965.2M278.2,955.1L286.6,963.5M278.2,963.5L286.6,955.1"/>
<path stroke="#bed631" d="M280.4,959.3H292.2M286.3,953.4V965.2M282.1,955.1L290.5,963.5M282.1,963.5L290.5,955.1"/>
<path stroke="#cfda2a" d="M284.3,959.3H296.1M290.2,953.4V965.2M286.0,955.1L294.3,963.5M286.0,963.5L294.3,955.1"/>
<path stroke="#efe921" d="M288.1,959.3H299.9M294.0,953.4V965.2M289.9,955.1L298.2,963.5M289.9,963.5L298.2,955.1"/>
<path stroke="#efe921" d="M292.0,959.3H303.8M297.9,953.4V965.2M293.7,955.1L302.1,963.5M293.7,963.5L302.1,955.1"/>
<path stroke="#fec809" d="M295.9,959.3H307.7M301.8,953.4V965.2M297.6,955.1L306.0,963.5M297.6,963.5L306.0,955.1"/>
<path stroke="#fec809" d="M299.8,959.3H311.6M305.7,953.4V965.2M301.5,955.1L309.8,963.5M301.5,963.5L309.8,955.1"/>
<path stroke="#fcb514" d="M303.6,959.3H315.4M309.5,953.4V965.2M305.4,955.1L313.7,963.5M305.4,963.5L313.7,955.1"/>
<path stroke="#fbaa17" d="M307.5,959.3H319.3M313.4,953.4V965.2M309.2,955.1L317.6,963.5M309.2,963.5L317.6,955.1"/>
<path stroke="#f5831f" d="M311.4,959.3H323.2M317.3,953.4V965.2M313.1,955.1L321.5,963.5M313.1,963.5L321.5,955.1"/>
<path stroke="#f47420" d="M315.3,959.3H327.1M321.2,953.4V965.2M317.0,955.1L325.3,963.5M317.0,963.5L325.3,955.1"/>
<path stroke="#f26622" d="M319.1,959.3H330.9M325.0,953.4V965.2M320.9,955.1L329.2,963.5M320.9,963.5L329.2,955.1"/>
<path stroke="#f26622" d="M323.0,959.3H334.8M328.9,953.4V965.2M324.7,955.1L333.1,963.5M324.7,963.5L333.1,955.1"/>
<path stroke="#f26622" d="M326.9,959.3H338.7M332.8,953.4V965.2M328.6,955.1L337.0,963.5M328.6,963.5L337.0,955.1"/>
<path stroke="#f15723" d="M330.8,959.3H342.6M336.7,953.4V965.2M332.5,955.1L340.8,963.5M332.5,963.5L340.8,955.1"/>
<path stroke="#f15723" d="M334.6,959.3H346.4M340.5,953.4V965.2M336.4,955.1L344.7,963.5M336.4,963.5L344.7,955.1"/>
<path stroke="#f04823" d="M338.5,959.3H350.3M344.4,953.4V965.2M340.2,955.1L348.6,963.5M340.2,963.5L348.6,955.1"/>
<path stroke="#f15723" d="M342.4,959.3H354.2M348.3,953.4V965.2M344.1,955.1L352.5,963.5M344.1,963.5L352.5,955.1"/>
<path stroke="#ee3924" d="M346.3,959.3H358.1M352.2,953.4V965.2M348.0,955.1L356.3,963.5M348.0,963.5L356.3,955.1"/>
<path stroke="#ee3924" d="M350.1,959.3H361.9M356.0,953.4V965.2M351.9,955.1L360.2,963.5M351.9,963.5L360.2,955.1"/>
<path stroke="#f04823" d="M354.0,959.3H365.8M359.9,953.4V965.2M355.8,955.1L364.1,963.5M355.8,963.5L364.1,955.1"/>
<path stroke="#ee3924" d="M357.9,959.3H369.7M363.8,953.4V965.2M359.6,955.1L368.0,963.5M359.6,963.5L368.0,955.1"/>
<path stroke="#ee3924" d="M361.8,959.3H373.6M367.7,953.4V965.2M363.5,955.1L371.8,963.5M363.5,963.5L371.8,955.1"/>
<path stroke="#f04823" d="M365.6,959.3H377.4M371.5,953.4V965.2M367.4,955.1L375.7,963.5M367.4,963.5L375.7,955.1"/>
<path stroke="#ee3924" d="M369.5,959.3H381.3M375.4,953.4V965.2M371.3,955.1L379.6,963.5M371.3,963.5L379.6,955.1"/>
<path stroke="#ee2f24" d="M373.4,959.3H385.2M379.3,953.4V965.2M375.1,955.1L383.5,963.5M375.1,963.5L383.5,955.1"/>
<path stroke="#ee2f24" d="M377.3,959.3H389.1M383.2,953.4V965.2M379.0,955.1L387.3,963.5M379.0,963.5L387.3,955.1"/>
<path stroke="#ed2724" d="M381.2,959.3H393.0M387.1,953.4V965.2M382.9,955.1L391.2,963.5M382.9,963.5L391.2,955.1"/>
<path stroke="#ed2724" d="M385.0,959.3H396.8M390.9,953.4V965.2M386.8,955.1L395.1,963.5M386.8,963.5L395.1,955.1"/>
<path stroke="#ed2724" d="M388.9,959.3H400.7M394.8,953.4V965.2M390.6,955.1L399.0,963.5M390.6,963.5L399.0,955.1"/>
<path stroke="#ed2724" d="M392.8,959.3H404.6M398.7,953.4V965.2M394.5,955.1L402.9,963.5M394.5,963.5L402.9,955.1"/>
<path stroke="#ee2f24" d="M396.7,959.3H408.5M402.6,953.4V965.2M398.4,955.1L406.7,963.5M398.4,963.5L406.7,955.1"/>
<path stroke="#ee3924" d="M400.5,959.3H412.3M406.4,953.4V965.2M402.3,955.1L410.6,963.5M402.3,963.5L410.6,955.1"/>
<path stroke="#f04823" d="M404.4,959.3H416.2M410.3,953.4V965.2M406.1,955.1L414.5,963.5M406.1,963.5L414.5,955.1"/>
<path stroke="#f04823" d="M408.3,959.3H420.1M414.2,953.4V965.2M410.0,955.1L418.4,963.5M410.0,963.5L418.4,955.1"/>
<path stroke="#f04823" d="M412.2,959.3H424.0M418.1,953.4V965.2M413.9,955.1L422.2,963.5M413.9,963.5L422.2,955.1"/>
<path stroke="#f04823" d="M416.0,959.3H427.8M421.9,953.4V965.2M417.8,955.1L426.1,963.5M417.8,963.5L426.1,955.1"/>
<path stroke="#ee3924" d="M419.9,959.3H431.7M425.8,953.4V965.2M421.6,955.1L430.0,963.5M421.6,963.5L430.0,955.1"/>
<path stroke="#f04823" d="M423.8,959.3H435.6M429.7,953.4V965.2M425.5,955.1L433.9,963.5M425.5,963.5L433.9,955.1"/>
<path stroke="#ee3924" d="M427.7,959.3H439.5M433.6,953.4V965.2M429.4,955.1L437.7,963.5M429.4,963.5L437.7,955.1"/>
<path stroke="#f15723" d="M431.5,959.3H443.3M437.4,953.4V965.2M433.3,955.1L441.6,963.5M433.3,963.5L441.6,955.1"/>
<path stroke="#f04823" d="M435.4,959.3H447.2M441.3,953.4V965.2M437.1,955.1L445.5,963.5M437.1,963.5L445.5,955.1"/>
<path stroke="#f26622" d="M439.3,959.3H451.1M445.2,953.4V965.2M441.0,955.1L449.4,963.5M441.0,963.5L449.4,955.1"/>
<path stroke="#f26622" d="M443.2,959.3H455.0M449.1,953.4V965.2M444.9,955.1L453.2,963.5M444.9,963.5L453.2,955.1"/>
<path stroke="#f47420" d="M447.0,959.3H458.8M452.9,953.4V965.2M448.8,955.1L457.1,963.5M448.8,963.5L457.1,955.1"/>
<path stroke="#f47420" d="M450.9,959.3H462.7M456.8,953.4V965.2M452.6,955.1L461.0,963.5M452.6,963.5L461.0,955.1"/>
<path stroke="#f47420" d="M454.8,959.3H466.6M460.7,953.4V965.2M456.5,955.1L464.9,963.5M456.5,963.5L464.9,955.1"/>
<path stroke="#f47420" d="M458.7,959.3H470.5M464.6,953.4V965.2M460.4,955.1L468.7,963.5M460.4,963.5L468.7,955.1"/>
<path stroke="#f7921d" d="M462.5,959.3H474.3M468.4,953.4V965.2M464.3,955.1L472.6,963.5M464.3,963.5L472.6,955.1"/>
<path stroke="#fbaa17" d="M466.4,959.3H478.2M472.3,953.4V965.2M468.1,955.1L476.5,963.5M468.1,963.5L476.5,955.1"/>
<path stroke="#fcb514" d="M470.3,959.3H482.1M476.2,953.4V965.2M472.0,955.1L480.4,963.5M472.0,963.5L480.4,955.1"/>
<path stroke="#fdd907" d="M474.2,959.3H486.0M480.1,953.4V965.2M475.9,955.1L484.2,963.5M475.9,963.5L484.2,955.1"/>
<path stroke="#efe921" d="M478.0,959.3H489.8M483.9,953.4V965.2M479.8,955.1L488.1,963.5M479.8,963.5L488.1,955.1"/>
<path stroke="#efe921" d="M481.9,959.3H493.7M487.8,953.4V965.2M483.6,955.1L492.0,963.5M483.6,963.5L492.0,955.1"/>
<path stroke="#e5e424" d="M485.8,959.3H497.6M491.7,953.4V965.2M487.5,955.1L495.9,963.5M487.5,963.5L495.9,955.1"/>
<path stroke="#e5e424" d="M489.7,959.3H501.5M495.6,953.4V965.2M491.4,955.1L499.7,963.5M491.4,963.5L499.7,955.1"/>
<path stroke="#e5e424" d="M493.5,959.3H505.3M499.4,953.4V965.2M495.3,955.1L503.6,963.5M495.3,963.5L503.6,955.1"/>
<path stroke="#cfda2a" d="M497.4,959.3H509.2M503.3,953.4V965.2M499.2,955.1L507.5,963.5M499.2,963.5L507.5,955.1"/>
<path stroke="#bed631" d="M501.3,959.3H513.1M507.2,953.4V965.2M503.0,955.1L511.4,963.5M503.0,963.5L511.4,955.1"/>
<path stroke="#b0d13a" d="M505.2,959.3H517.0M511.1,953.4V965.2M506.9,955.1L515.2,963.5M506.9,963.5L515.2,955.1"/>
<path stroke="#a5ce46" d="M509.1,959.3H520.9M515.0,953.4V965.2M510.8,955.1L519.1,963.5M510.8,963.5L519.1,955.1"/>
<path stroke="#94c963" d="M512.9,959.3H524.7M518.8,953.4V965.2M514.7,955.1L523.0,963.5M514.7,963.5L523.0,955.1"/>
<path stroke="#85c783" d="M516.8,959.3H528.6M522.7,953.4V965.2M518.5,955.1L526.9,963.5M518.5,963.5L526.9,955.1"/>
<path stroke="#79c7a2" d="M520.7,959.3H532.5M526.6,953.4V965.2M522.4,955.1L530.7,963.5M522.4,963.5L530.7,955.1"/>
<path stroke="#71c8bf" d="M524.6,959.3H536.4M530.5,953.4V965.2M526.3,955.1L534.6,963.5M526.3,963.5L534.6,955.1"/>
<path stroke="#6dcad9" d="M528.4,959.3H540.2M534.3,953.4V965.2M530.2,955.1L538.5,963.5M530.2,963.5L538.5,955.1"/>
<path stroke="#48c7ec" d="M532.3,959.3H544.1M538.2,953.4V965.2M534.0,955.1L542.4,963.5M534.0,963.5L542.4,955.1"/>
<path stroke="#33c4f3" d="M536.2,959.3H548.0M542.1,953.4V965.2M537.9,955.1L546.3,963.5M537.9,963.5L546.3,955.1"/>
<path stroke="#3fa6dc" d="M540.1,959.3H551.9M546.0,953.4V965.2M541.8,955.1L550.1,963.5M541.8,963.5L550.1,955.1"/>
<path stroke="#4197d3" d="M543.9,959.3H555.7M549.8,953.4V965.2M545.7,955.1L554.0,963.5M545.7,963.5L554.0,955.1"/>
<path stroke="#4077bc" d="M547.8,959.3H559.6M553.7,953.4V965.2M549.5,955.1L557.9,963.5M549.5,963.5L557.9,955.1"/>
<path stroke="#3f6cb4" d="M551.7,959.3H563.5M557.6,953.4V965.2M553.4,955.1L561.8,963.5M553.4,963.5L561.8,955.1"/>
<path stroke="#3c5eab" d="M555.6,959.3H567.4M561.5,953.4V965.2M557.3,955.1L565.6,963.5M557.3,963.5L565.6,955.1"/>
<path stroke="#3b5aa8" d="M559.4,959.3H571.2M565.3,953.4V965.2M561.2,955.1L569.5,963.5M561.2,963.5L569.5,955.1"/>
<path stroke="#3b5aa8" d="M563.3,959.3H575.1M569.2,953.4V965.2M565.0,955.1L573.4,963.5M565.0,963.5L573.4,955.1"/>
<path stroke="#3c5eab" d="M567.2,959.3H579.0M573.1,953.4V965.2M568.9,955.1L577.3,963.5M568.9,963.5L577.3,955.1"/>
<path stroke="#3b5aa8" d="M571.1,959.3H582.9M577.0,953.4V965.2M572.8,955.1L581.1,963.5M572.8,963.5L581.1,955.1"/>
<path stroke="#3a57a6" d="M574.9,959.3H586.7M580.8,953.4V965.2M576.7,955.1L585.0,963.5M576.7,963.5L585.0,955.1"/>
<path stroke="#3b5aa8" d="M578.8,959.3H590.6M584.7,953.4V965.2M580.5,955.1L588.9,963.5M580.5,963.5L588.9,955.1"/>
<path stroke="#3b5aa8" d="M582.7,959.3H594.5M588.6,953.4V965.2M584.4,955.1L592.8,963.5M584.4,963.5L592.8,955.1"/>
<path stroke="#3b5aa8" d="M586.6,959.3H598.4M592.5,953.4V965.2M588.3,955.1L596.6,963.5M588.3,963.5L596.6,955.1"/>
<path stroke="#3b5aa8" d="M590.4,959.3H602.2M596.3,953.4V965.2M592.2,955.1L600.5,963.5M592.2,963.5L600.5,955.1"/>
<path stroke="#3b5aa8" d="M594.3,959.3H606.1M600.2,953.4V965.2M596.0,955.1L604.4,963.5M596.0,963.5L604.4,955.1"/>
<path stroke="#3c5eab" d="M598.2,959.3H610.0M604.1,953.4V965.2M599.9,955.1L608.3,963.5M599.9,963.5L608.3,955.1"/>
<path stroke="#3d64af" d="M602.1,959.3H613.9M608.0,953.4V965.2M603.8,955.1L612.1,963.5M603.8,963.5L612.1,955.1"/>
<path stroke="#3d64af" d="M605.9,959.3H617.7M611.8,953.4V965.2M607.7,955.1L616.0,963.5M607.7,963.5L616.0,955.1"/>
<path stroke="#3f6cb4" d="M609.8,959.3H621.6M615.7,953.4V965.2M611.5,955.1L619.9,963.5M611.5,963.5L619.9,955.1"/>
<path stroke="#3d64af" d="M613.7,959.3H625.5M619.6,953.4V965.2M615.4,955.1L623.8,963.5M615.4,963.5L623.8,955.1"/>
<path stroke="#3f6cb4" d="M617.6,959.3H629.4M623.5,953.4V965.2M619.3,955.1L627.6,963.5M619.3,963.5L627.6,955.1"/>
<path stroke="#3f6cb4" d="M621.4,959.3H633.2M627.3,953.4V965.2M623.2,955.1L631.5,963.5M623.2,963.5L631.5,955.1"/>
<path stroke="#3c5eab" d="M625.3,959.3H637.1M631.2,953.4V965.2M627.1,955.1L635.4,963.5M627.1,963.5L635.4,955.1"/>
<path stroke="#3c5eab" d="M629.2,959.3H641.0M635.1,953.4V965.2M630.9,955.1L639.3,963.5M630.9,963.5L639.3,955.1"/>
<path stroke="#3b5aa8" d="M633.1,959.3H644.9M639.0,953.4V965.2M634.8,955.1L643.1,963.5M634.8,963.5L643.1,955.1"/>
<path stroke="#3b5aa8" d="M636.9,959.3H648.7M642.8,953.4V965.2M638.7,955.1L647.0,963.5M638.7,963.5L647.0,955.1"/>
<path stroke="#3c5eab" d="M640.8,959.3H652.6M646.7,953.4V965.2M642.6,955.1L650.9,963.5M642.6,963.5L650.9,955.1"/>
<path stroke="#3d64af" d="M644.7,959.3H656.5M650.6,953.4V965.2M646.4,955.1L654.8,963.5M646.4,963.5L654.8,955.1"/>
<path stroke="#3f6cb4" d="M648.6,959.3H660.4M654.5,953.4V965.2M650.3,955.1L658.6,963.5M650.3,963.5L658.6,955.1"/>
<path stroke="#3f6cb4" d="M652.5,959.3H664.3M658.4,953.4V965.2M654.2,955.1L662.5,963.5M654.2,963.5L662.5,955.1"/>
<path stroke="#4077bc" d="M656.3,959.3H668.1M662.2,953.4V965.2M658.1,955.1L666.4,963.5M658.1,963.5L666.4,955.1"/>
<path stroke="#4077bc" d="M660.2,959.3H672.0M666.1,953.4V965.2M661.9,955.1L670.3,963.5M661.9,963.5L670.3,955.1"/>
<path stroke="#4188c8" d="M664.1,959.3H675.9M670.0,953.4V965.2M665.8,955.1L674.2,963.5M665.8,963.5L674.2,955.1"/>
<path stroke="#4197d3" d="M668.0,959.3H679.8M673.9,953.4V965.2M669.7,955.1L678.0,963.5M669.7,963.5L678.0,955.1"/>
<path stroke="#3fa6dc" d="M671.8,959.3H683.6M677.7,953.4V965.2M673.6,955.1L681.9,963.5M673.6,963.5L681.9,955.1"/>
<path stroke="#3ab5e7" d="M675.7,959.3H687.5M681.6,953.4V965.2M677.4,955.1L685.8,963.5M677.4,963.5L685.8,955.1"/>
<path stroke="#48c7ec" d="M679.6,959.3H691.4M685.5,953.4V965.2M681.3,955.1L689.7,963.5M681.3,963.5L689.7,955.1"/>
<path stroke="#48c7ec" d="M683.5,959.3H695.3M689.4,953.4V965.2M685.2,955.1L693.5,963.5M685.2,963.5L693.5,955.1"/>
<path stroke="#5fc9e3" d="M687.3,959.3H699.1M693.2,953.4V965.2M689.1,955.1L697.4,963.5M689.1,963.5L697.4,955.1"/>
<path stroke="#5fc9e3" d="M691.2,959.3H703.0M697.1,953.4V965.2M692.9,955.1L701.3,963.5M692.9,963.5L701.3,955.1"/>
<path stroke="#5fc9e3" d="M695.1,959.3H706.9M701.0,953.4V965.2M696.8,955.1L705.2,963.5M696.8,963.5L705.2,955.1"/>
<path stroke="#5fc9e3" d="M699.0,959.3H710.8M704.9,953.4V965.2M700.7,955.1L709.0,963.5M700.7,963.5L709.0,955.1"/>
<path stroke="#5fc9e3" d="M702.8,959.3H714.6M708.7,953.4V965.2M704.6,955.1L712.9,963.5M704.6,963.5L712.9,955.1"/>
<path stroke="#6fc9cc" d="M706.7,959.3H718.5M712.6,953.4V965.2M708.4,955.1L716.8,963.5M708.4,963.5L716.8,955.1"/>
<path stroke="#6fc9cc" d="M710.6,959.3H722.4M716.5,953.4V965.2M712.3,955.1L720.7,963.5M712.3,963.5L720.7,955.1"/>
<path stroke="#74c7b2" d="M714.5,959.3H726.3M720.4,953.4V965.2M716.2,955.1L724.5,963.5M716.2,963.5L724.5,955.1"/>
<path stroke="#79c7a2" d="M718.3,959.3H730.1M724.2,953.4V965.2M720.1,955.1L728.4,963.5M720.1,963.5L728.4,955.1"/>
<path stroke="#7fc793" d="M722.2,959.3H734.0M728.1,953.4V965.2M723.9,955.1L732.3,963.5M723.9,963.5L732.3,955.1"/>
<path stroke="#7fc793" d="M726.1,959.3H737.9M732.0,953.4V965.2M727.8,955.1L736.2,963.5M727.8,963.5L736.2,955.1"/>
<path stroke="#8dc873" d="M730.0,959.3H741.8M735.9,953.4V965.2M731.7,955.1L740.0,963.5M731.7,963.5L740.0,955.1"/>
<path stroke="#94c963" d="M733.8,959.3H745.6M739.7,953.4V965.2M735.6,955.1L743.9,963.5M735.6,963.5L743.9,955.1"/>
<path stroke="#9ccb54" d="M737.7,959.3H749.5M743.6,953.4V965.2M739.4,955.1L747.8,963.5M739.4,963.5L747.8,955.1"/>
<path stroke="#a5ce46" d="M741.6,959.3H753.4M747.5,953.4V965.2M743.3,955.1L751.7,963.5M743.3,963.5L751.7,955.1"/>
<path stroke="#b0d13a" d="M745.5,959.3H757.3M751.4,953.4V965.2M747.2,955.1L755.5,963.5M747.2,963.5L755.5,955.1"/>
<path stroke="#b0d13a" d="M749.3,959.3H761.1M755.2,953.4V965.2M751.1,955.1L759.4,963.5M751.1,963.5L759.4,955.1"/>
<path stroke="#b0d13a" d="M753.2,959.3H765.0M759.1,953.4V965.2M754.9,955.1L763.3,963.5M754.9,963.5L763.3,955.1"/>
<path stroke="#bed631" d="M757.1,959.3H768.9M763.0,953.4V965.2M758.8,955.1L767.2,963.5M758.8,963.5L767.2,955.1"/>
<path stroke="#b0d13a" d="M761.0,959.3H772.8M766.9,953.4V965.2M762.7,955.1L771.0,963.5M762.7,963.5L771.0,955.1"/>
<path stroke="#a5ce46" d="M764.8,959.3H776.6M770.7,953.4V965.2M766.6,955.1L774.9,963.5M766.6,963.5L774.9,955.1"/>
<path stroke="#bed631" d="M768.7,959.3H780.5M774.6,953.4V965.2M770.5,955.1L778.8,963.5M770.5,963.5L778.8,955.1"/>
<path stroke="#cfda2a" d="M772.6,959.3H784.4M778.5,953.4V965.2M774.3,955.1L782.7,963.5M774.3,963.5L782.7,955.1"/>
<path stroke="#a5ce46" d="M102.1,988.7H113.9M108.0,982.8V994.6M103.8,984.6L112.2,992.9M103.8,992.9L112.2,984.6"/>
<path stroke="#9ccb54" d="M106.0,988.7H117.8M111.9,982.8V994.6M107.7,984.6L116.0,992.9M107.7,992.9L116.0,984.6"/>
<path stroke="#9ccb54" d="M109.8,988.7H121.6M115.7,982.8V994.6M111.5,984.6L119.9,992.9M111.5,992.9L119.9,984.6"/>
<path stroke="#9ccb54" d="M113.7,988.7H125.5M119.6,982.8V994.6M115.4,984.6L123.7,992.9M115.4,992.9L123.7,984.6"/>
<path stroke="#94c963" d="M117.5,988.7H129.3M123.4,982.8V994.6M119.3,984.6L127.6,992.9M119.3,992.9L127.6,984.6"/>
<path stroke="#8dc873" d="M121.4,988.7H133.2M127.3,982.8V994.6M123.1,984.6L131.5,992.9M123.1,992.9L131.5,984.6"/>
<path stroke="#85c783" d="M125.3,988.7H137.1M131.2,982.8V994.6M127.0,984.6L135.3,992.9M127.0,992.9L135.3,984.6"/>
<path stroke="#7fc793" d="M129.1,988.7H140.9M135.0,982.8V994.6M130.8,984.6L139.2,992.9M130.8,992.9L139.2,984.6"/>
<path stroke="#79c7a2" d="M133.0,988.7H144.8M138.9,982.8V994.6M134.7,984.6L143.0,992.9M134.7,992.9L143.0,984.6"/>
<path stroke="#79c7a2" d="M136.8,988.7H148.6M142.7,982.8V994.6M138.6,984.6L146.9,992.9M138.6,992.9L146.9,984.6"/>
<path stroke="#71c8bf" d="M140.7,988.7H152.5M146.6,982.8V994.6M142.4,984.6L150.8,992.9M142.4,992.9L150.8,984.6"/>
<path stroke="#74c7b2" d="M144.6,988.7H156.4M150.5,982.8V994.6M146.3,984.6L154.6,992.9M146.3,992.9L154.6,984.6"/>
<path stroke="#71c8bf" d="M148.4,988.7H160.2M154.3,982.8V994.6M150.1,984.6L158.5,992.9M150.1,992.9L158.5,984.6"/>
<path stroke="#74c7b2" d="M152.3,988.7H164.1M158.2,982.8V994.6M154.0,984.6L162.3,992.9M154.0,992.9L162.3,984.6"/>
<path stroke="#6fc9cc" d="M156.1,988.7H167.9M162.0,982.8V994.6M157.9,984.6L166.2,992.9M157.9,992.9L166.2,984.6"/>
<path stroke="#6fc9cc" d="M160.0,988.7H171.8M165.9,982.8V994.6M161.7,984.6L170.1,992.9M161.7,992.9L170.1,984.6"/>
<path stroke="#6fc9cc" d="M163.8,988.7H175.6M169.7,982.8V994.6M165.6,984.6L173.9,992.9M165.6,992.9L173.9,984.6"/>
<path stroke="#6dcad9" d="M167.7,988.7H179.5M173.6,982.8V994.6M169.4,984.6L177.8,992.9M169.4,992.9L177.8,984.6"/>
<path stroke="#5fc9e3" d="M171.6,988.7H183.4M177.5,982.8V994.6M173.3,984.6L181.6,992.9M173.3,992.9L181.6,984.6"/>
<path stroke="#5fc9e3" d="M175.4,988.7H187.2M181.3,982.8V994.6M177.2,984.6L185.5,992.9M177.2,992.9L185.5,984.6"/>
<path stroke="#5fc9e3" d="M179.3,988.7H191.1M185.2,982.8V994.6M181.0,984.6L189.4,992.9M181.0,992.9L189.4,984.6"/>
<path stroke="#48c7ec" d="M183.1,988.7H194.9M189.0,982.8V994.6M184.9,984.6L193.2,992.9M184.9,992.9L193.2,984.6"/>
<path stroke="#5fc9e3" d="M187.0,988.7H198.8M192.9,982.8V994.6M188.7,984.6L197.1,992.9M188.7,992.9L197.1,984.6"/>
<path stroke="#5fc9e3" d="M190.9,988.7H202.7M196.8,982.8V994.6M192.6,984.6L200.9,992.9M192.6,992.9L200.9,984.6"/>
<path stroke="#48c7ec" d="M194.7,988.7H206.5M200.6,982.8V994.6M196.4,984.6L204.8,992.9M196.4,992.9L204.8,984.6"/>
<path stroke="#48c7ec" d="M198.6,988.7H210.4M204.5,982.8V994.6M200.3,984.6L208.7,992.9M200.3,992.9L208.7,984.6"/>
<path stroke="#48c7ec" d="M202.4,988.7H214.2M208.3,982.8V994.6M204.2,984.6L212.5,992.9M204.2,992.9L212.5,984.6"/>
<path stroke="#33c4f3" d="M206.3,988.7H218.1M212.2,982.8V994.6M208.0,984.6L216.4,992.9M208.0,992.9L216.4,984.6"/>
<path stroke="#33c4f3" d="M210.2,988.7H222.0M216.1,982.8V994.6M211.9,984.6L220.2,992.9M211.9,992.9L220.2,984.6"/>
<path stroke="#3fa6dc" d="M214.0,988.7H225.8M219.9,982.8V994.6M215.7,984.6L224.1,992.9M215.7,992.9L224.1,984.6"/>
<path stroke="#3fa6dc" d="M217.9,988.7H229.7M223.8,982.8V994.6M219.6,984.6L227.9,992.9M219.6,992.9L227.9,984.6"/>
<path stroke="#3fa6dc" d="M221.7,988.7H233.5M227.6,982.8V994.6M223.5,984.6L231.8,992.9M223.5,992.9L231.8,984.6"/>
<path stroke="#33c4f3" d="M225.6,988.7H237.4M231.5,982.8V994.6M227.3,984.6L235.7,992.9M227.3,992.9L235.7,984.6"/>
<path stroke="#48c7ec" d="M229.5,988.7H241.3M235.4,982.8V994.6M231.2,984.6L239.5,992.9M231.2,992.9L239.5,984.6"/>
<path stroke="#5fc9e3" d="M233.3,988.7H245.1M239.2,982.8V994.6M235.0,984.6L243.4,992.9M235.0,992.9L243.4,984.6"/>
<path stroke="#5fc9e3" d="M237.2,988.7H249.0M243.1,982.8V994.6M238.9,984.6L247.2,992.9M238.9,992.9L247.2,984.6"/>
<path stroke="#5fc9e3" d="M241.0,988.7H252.8M246.9,982.8V994.6M242.8,984.6L251.1,992.9M242.8,992.9L251.1,984.6"/>
<path stroke="#5fc9e3" d="M244.9,988.7H256.7M250.8,982.8V994.6M246.6,984.6L255.0,992.9M246.6,992.9L255.0,984.6"/>
<path stroke="#6fc9cc" d="M248.8,988.7H260.6M254.7,982.8V994.6M250.5,984.6L258.8,992.9M250.5,992.9L258.8,984.6"/>
<path stroke="#6fc9cc" d="M252.6,988.7H264.4M258.5,982.8V994.6M254.3,984.6L262.7,992.9M254.3,992.9L262.7,984.6"/>
<path stroke="#74c7b2" d="M256.5,988.7H268.3M262.4,982.8V994.6M258.2,984.6L266.5,992.9M258.2,992.9L266.5,984.6"/>
<path stroke="#79c7a2" d="M260.3,988.7H272.1M266.2,982.8V994.6M262.1,984.6L270.4,992.9M262.1,992.9L270.4,984.6"/>
<path stroke="#7fc793" d="M264.2,988.7H276.0M270.1,982.8V994.6M265.9,984.6L274.3,992.9M265.9,992.9L274.3,984.6"/>
<path stroke="#8dc873" d="M268.0,988.7H279.8M273.9,982.8V994.6M269.8,984.6L278.1,992.9M269.8,992.9L278.1,984.6"/>
<path stroke="#94c963" d="M271.9,988.7H283.7M277.8,982.8V994.6M273.6,984.6L282.0,992.9M273.6,992.9L282.0,984.6"/>
<path stroke="#9ccb54" d="M275.8,988.7H287.6M281.7,982.8V994.6M277.5,984.6L285.8,992.9M277.5,992.9L285.8,984.6"/>
<path stroke="#b0d13a" d="M279.6,988.7H291.4M285.5,982.8V994.6M281.4,984.6L289.7,992.9M281.4,992.9L289.7,984.6"/>
<path stroke="#bed631" d="M283.5,988.7H295.3M289.4,982.8V994.6M285.2,984.6L293.6,992.9M285.2,992.9L293.6,984.6"/>
<path stroke="#dbdf26" d="M287.3,988.7H299.1M293.2,982.8V994.6M289.1,984.6L297.4,992.9M289.1,992.9L297.4,984.6"/>
<path stroke="#efe921" d="M291.2,988.7H303.0M297.1,982.8V994.6M292.9,984.6L301.3,992.9M292.9,992.9L301.3,984.6"/>
<path stroke="#fdd907" d="M295.1,988.7H306.9M301.0,982.8V994.6M296.8,984.6L305.1,992.9M296.8,992.9L305.1,984.6"/>
<path stroke="#fdd907" d="M298.9,988.7H310.7M304.8,982.8V994.6M300.6,984.6L309.0,992.9M300.6,992.9L309.0,984.6"/>
<path stroke="#fec809" d="M302.8,988.7H314.6M308.7,982.8V994.6M304.5,984.6L312.9,992.9M304.5,992.9L312.9,984.6"/>
<path stroke="#fcb514" d="M306.6,988.7H318.4M312.5,982.8V994.6M308.4,984.6L316.7,992.9M308.4,992.9L316.7,984.6"/>
<path stroke="#fbaa17" d="M310.5,988.7H322.3M316.4,982.8V994.6M312.2,984.6L320.6,992.9M312.2,992.9L320.6,984.6"/>
<path stroke="#f99e1a" d="M314.4,988.7H326.2M320.3,982.8V994.6M316.1,984.6L324.4,992.9M316.1,992.9L324.4,984.6"/>
<path stroke="#f7921d" d="M318.2,988.7H330.0M324.1,982.8V994.6M319.9,984.6L328.3,992.9M319.9,992.9L328.3,984.6"/>
<path stroke="#f5831f" d="M322.1,988.7H333.9M328.0,982.8V994.6M323.8,984.6L332.1,992.9M323.8,992.9L332.1,984.6"/>
<path stroke="#f47420" d="M325.9,988.7H337.7M331.8,982.8V994.6M327.7,984.6L336.0,992.9M327.7,992.9L336.0,984.6"/>
<path stroke="#f15723" d="M329.8,988.7H341.6M335.7,982.8V994.6M331.5,984.6L339.9,992.9M331.5,992.9L339.9,984.6"/>
<path stroke="#f26622" d="M333.7,988.7H345.5M339.6,982.8V994.6M335.4,984.6L343.7,992.9M335.4,992.9L343.7,984.6"/>
<path stroke="#f15723" d="M337.5,988.7H349.3M343.4,982.8V994.6M339.2,984.6L347.6,992.9M339.2,992.9L347.6,984.6"/>
<path stroke="#f15723" d="M341.4,988.7H353.2M347.3,982.8V994.6M343.1,984.6L351.4,992.9M343.1,992.9L351.4,984.6"/>
<path stroke="#f04823" d="M345.2,988.7H357.0M351.1,982.8V994.6M347.0,984.6L355.3,992.9M347.0,992.9L355.3,984.6"/>
<path stroke="#f04823" d="M349.1,988.7H360.9M355.0,982.8V994.6M350.8,984.6L359.2,992.9M350.8,992.9L359.2,984.6"/>
<path stroke="#ee2f24" d="M352.9,988.7H364.7M358.8,982.8V994.6M354.7,984.6L363.0,992.9M354.7,992.9L363.0,984.6"/>
<path stroke="#f04823" d="M356.8,988.7H368.6M362.7,982.8V994.6M358.5,984.6L366.9,992.9M358.5,992.9L366.9,984.6"/>
<path stroke="#ee3924" d="M360.7,988.7H372.5M366.6,982.8V994.6M362.4,984.6L370.7,992.9M362.4,992.9L370.7,984.6"/>
<path stroke="#ee3924" d="M364.5,988.7H376.3M370.4,982.8V994.6M366.3,984.6L374.6,992.9M366.3,992.9L374.6,984.6"/>
<path stroke="#ee3924" d="M368.4,988.7H380.2M374.3,982.8V994.6M370.1,984.6L378.5,992.9M370.1,992.9L378.5,984.6"/>
<path stroke="#ee2f24" d="M372.2,988.7H384.0M378.1,982.8V994.6M374.0,984.6L382.3,992.9M374.0,992.9L382.3,984.6"/>
<path stroke="#ee2f24" d="M376.1,988.7H387.9M382.0,982.8V994.6M377.8,984.6L386.2,992.9M377.8,992.9L386.2,984.6"/>
<path stroke="#ed2724" d="M380.0,988.7H391.8M385.9,982.8V994.6M381.7,984.6L390.0,992.9M381.7,992.9L390.0,984.6"/>
<path stroke="#ee2f24" d="M383.8,988.7H395.6M389.7,982.8V994.6M385.6,984.6L393.9,992.9M385.6,992.9L393.9,984.6"/>
<path stroke="#ee3924" d="M387.7,988.7H399.5M393.6,982.8V994.6M389.4,984.6L397.8,992.9M389.4,992.9L397.8,984.6"/>
<path stroke="#ee3924" d="M391.5,988.7H403.3M397.4,982.8V994.6M393.3,984.6L401.6,992.9M393.3,992.9L401.6,984.6"/>
<path stroke="#ee3924" d="M395.4,988.7H407.2M401.3,982.8V994.6M397.1,984.6L405.5,992.9M397.1,992.9L405.5,984.6"/>
<path stroke="#ee3924" d="M399.3,988.7H411.1M405.2,982.8V994.6M401.0,984.6L409.3,992.9M401.0,992.9L409.3,984.6"/>
<path stroke="#ee2f24" d="M403.1,988.7H414.9M409.0,982.8V994.6M404.8,984.6L413.2,992.9M404.8,992.9L413.2,984.6"/>
<path stroke="#ee3924" d="M407.0,988.7H418.8M412.9,982.8V994.6M408.7,984.6L417.1,992.9M408.7,992.9L417.1,984.6"/>
<path stroke="#ee3924" d="M410.8,988.7H422.6M416.7,982.8V994.6M412.6,984.6L420.9,992.9M412.6,992.9L420.9,984.6"/>
<path stroke="#ee3924" d="M414.7,988.7H426.5M420.6,982.8V994.6M416.4,984.6L424.8,992.9M416.4,992.9L424.8,984.6"/>
<path stroke="#f04823" d="M418.6,988.7H430.4M424.5,982.8V994.6M420.3,984.6L428.6,992.9M420.3,992.9L428.6,984.6"/>
<path stroke="#f04823" d="M422.4,988.7H434.2M428.3,982.8V994.6M424.1,984.6L432.5,992.9M424.1,992.9L432.5,984.6"/>
<path stroke="#f15723" d="M426.3,988.7H438.1M432.2,982.8V994.6M428.0,984.6L436.3,992.9M428.0,992.9L436.3,984.6"/>
<path stroke="#f15723" d="M430.1,988.7H441.9M436.0,982.8V994.6M431.9,984.6L440.2,992.9M431.9,992.9L440.2,984.6"/>
<path stroke="#f15723" d="M434.0,988.7H445.8M439.9,982.8V994.6M435.7,984.6L444.1,992.9M435.7,992.9L444.1,984.6"/>
<path stroke="#f26622" d="M437.9,988.7H449.7M443.8,982.8V994.6M439.6,984.6L447.9,992.9M439.6,992.9L447.9,984.6"/>
<path stroke="#f26622" d="M441.7,988.7H453.5M447.6,982.8V994.6M443.4,984.6L451.8,992.9M443.4,992.9L451.8,984.6"/>
<path stroke="#f47420" d="M445.6,988.7H457.4M451.5,982.8V994.6M447.3,984.6L455.6,992.9M447.3,992.9L455.6,984.6"/>
<path stroke="#f47420" d="M449.4,988.7H461.2M455.3,982.8V994.6M451.2,984.6L459.5,992.9M451.2,992.9L459.5,984.6"/>
<path stroke="#f5831f" d="M453.3,988.7H465.1M459.2,982.8V994.6M455.0,984.6L463.4,992.9M455.0,992.9L463.4,984.6"/>
<path stroke="#f5831f" d="M457.1,988.7H468.9M463.0,982.8V994.6M458.9,984.6L467.2,992.9M458.9,992.9L467.2,984.6"/>
<path stroke="#f5831f" d="M461.0,988.7H472.8M466.9,982.8V994.6M462.7,984.6L471.1,992.9M462.7,992.9L471.1,984.6"/>
<path stroke="#f7921d" d="M464.9,988.7H476.7M470.8,982.8V994.6M466.6,984.6L474.9,992.9M466.6,992.9L474.9,984.6"/>
<path stroke="#fbaa17" d="M468.7,988.7H480.5M474.6,982.8V994.6M470.5,984.6L478.8,992.9M470.5,992.9L478.8,984.6"/>
<path stroke="#fec809" d="M472.6,988.7H484.4M478.5,982.8V994.6M474.3,984.6L482.7,992.9M474.3,992.9L482.7,984.6"/>
<path stroke="#fdd907" d="M476.4,988.7H488.2M482.3,982.8V994.6M478.2,984.6L486.5,992.9M478.2,992.9L486.5,984.6"/>
<path stroke="#fdd907" d="M480.3,988.7H492.1M486.2,982.8V994.6M482.0,984.6L490.4,992.9M482.0,992.9L490.4,984.6"/>
<path stroke="#efe921" d="M484.2,988.7H496.0M490.1,982.8V994.6M485.9,984.6L494.2,992.9M485.9,992.9L494.2,984.6"/>
<path stroke="#f7e618" d="M488.0,988.7H499.8M493.9,982.8V994.6M489.7,984.6L498.1,992.9M489.7,992.9L498.1,984.6"/>
<path stroke="#e5e424" d="M491.9,988.7H503.7M497.8,982.8V994.6M493.6,984.6L502.0,992.9M493.6,992.9L502.0,984.6"/>
<path stroke="#dbdf26" d="M495.7,988.7H507.5M501.6,982.8V994.6M497.5,984.6L505.8,992.9M497.5,992.9L505.8,984.6"/>
<path stroke="#dbdf26" d="M499.6,988.7H511.4M505.5,982.8V994.6M501.3,984.6L509.7,992.9M501.3,992.9L509.7,984.6"/>
<path stroke="#cfda2a" d="M503.5,988.7H515.3M509.4,982.8V994.6M505.2,984.6L513.5,992.9M505.2,992.9L513.5,984.6"/>
<path stroke="#bed631" d="M507.3,988.7H519.1M513.2,982.8V994.6M509.0,984.6L517.4,992.9M509.0,992.9L517.4,984.6"/>
<path stroke="#a5ce46" d="M511.2,988.7H523.0M517.1,982.8V994.6M512.9,984.6L521.2,992.9M512.9,992.9L521.2,984.6"/>
<path stroke="#9ccb54" d="M515.0,988.7H526.8M520.9,982.8V994.6M516.8,984.6L525.1,992.9M516.8,992.9L525.1,984.6"/>
<path stroke="#94c963" d="M518.9,988.7H530.7M524.8,982.8V994.6M520.6,984.6L529.0,992.9M520.6,992.9L529.0,984.6"/>
<path stroke="#7fc793" d="M522.8,988.7H534.6M528.7,982.8V994.6M524.5,984.6L532.8,992.9M524.5,992.9L532.8,984.6"/>
<path stroke="#74c7b2" d="M526.6,988.7H538.4M532.5,982.8V994.6M528.3,984.6L536.7,992.9M528.3,992.9L536.7,984.6"/>
<path stroke="#6fc9cc" d="M530.5,988.7H542.3M536.4,982.8V994.6M532.2,984.6L540.5,992.9M532.2,992.9L540.5,984.6"/>
<path stroke="#5fc9e3" d="M534.3,988.7H546.1M540.2,982.8V994.6M536.1,984.6L544.4,992.9M536.1,992.9L544.4,984.6"/>
<path stroke="#48c7ec" d="M538.2,988.7H550.0M544.1,982.8V994.6M539.9,984.6L548.3,992.9M539.9,992.9L548.3,984.6"/>
<path stroke="#3ab5e7" d="M542.1,988.7H553.9M548.0,982.8V994.6M543.8,984.6L552.1,992.9M543.8,992.9L552.1,984.6"/>
<path stroke="#3ab5e7" d="M545.9,988.7H557.7M551.8,982.8V994.6M547.6,984.6L556.0,992.9M547.6,992.9L556.0,984.6"/>
<path stroke="#4197d3" d="M549.8,988.7H561.6M555.7,982.8V994.6M551.5,984.6L559.8,992.9M551.5,992.9L559.8,984.6"/>
<path stroke="#4188c8" d="M553.6,988.7H565.4M559.5,982.8V994.6M555.4,984.6L563.7,992.9M555.4,992.9L563.7,984.6"/>
<path stroke="#3f6cb4" d="M557.5,988.7H569.3M563.4,982.8V994.6M559.2,984.6L567.6,992.9M559.2,992.9L567.6,984.6"/>
<path stroke="#3f6cb4" d="M561.3,988.7H573.1M567.2,982.8V994.6M563.1,984.6L571.4,992.9M563.1,992.9L571.4,984.6"/>
<path stroke="#3d64af" d="M565.2,988.7H577.0M571.1,982.8V994.6M566.9,984.6L575.3,992.9M566.9,992.9L575.3,984.6"/>
<path stroke="#3b5aa8" d="M569.1,988.7H580.9M575.0,982.8V994.6M570.8,984.6L579.1,992.9M570.8,992.9L579.1,984.6"/>
<path stroke="#3c5eab" d="M572.9,988.7H584.7M578.8,982.8V994.6M574.7,984.6L583.0,992.9M574.7,992.9L583.0,984.6"/>
<path stroke="#3b5aa8" d="M576.8,988.7H588.6M582.7,982.8V994.6M578.5,984.6L586.9,992.9M578.5,992.9L586.9,984.6"/>
<path stroke="#3b5aa8" d="M580.6,988.7H592.4M586.5,982.8V994.6M582.4,984.6L590.7,992.9M582.4,992.9L590.7,984.6"/>
<path stroke="#3a57a6" d="M584.5,988.7H596.3M590.4,982.8V994.6M586.2,984.6L594.6,992.9M586.2,992.9L594.6,984.6"/>
<path stroke="#3b5aa8" d="M588.4,988.7H600.2M594.3,982.8V994.6M590.1,984.6L598.4,992.9M590.1,992.9L598.4,984.6"/>
<path stroke="#3b5aa8" d="M592.2,988.7H604.0M598.1,982.8V994.6M593.9,984.6L602.3,992.9M593.9,992.9L602.3,984.6"/>
<path stroke="#3b5aa8" d="M596.1,988.7H607.9M602.0,982.8V994.6M597.8,984.6L606.2,992.9M597.8,992.9L606.2,984.6"/>
<path stroke="#3c5eab" d="M599.9,988.7H611.7M605.8,982.8V994.6M601.7,984.6L610.0,992.9M601.7,992.9L610.0,984.6"/>
<path stroke="#3d64af" d="M603.8,988.7H615.6M609.7,982.8V994.6M605.5,984.6L613.9,992.9M605.5,992.9L613.9,984.6"/>
<path stroke="#3f6cb4" d="M607.7,988.7H619.5M613.6,982.8V994.6M609.4,984.6L617.7,992.9M609.4,992.9L617.7,984.6"/>
<path stroke="#3f6cb4" d="M611.5,988.7H623.3M617.4,982.8V994.6M613.2,984.6L621.6,992.9M613.2,992.9L621.6,984.6"/>
<path stroke="#3d64af" d="M615.4,988.7H627.2M621.3,982.8V994.6M617.1,984.6L625.4,992.9M617.1,992.9L625.4,984.6"/>
<path stroke="#3c5eab" d="M619.2,988.7H631.0M625.1,982.8V994.6M621.0,984.6L629.3,992.9M621.0,992.9L629.3,984.6"/>
<path stroke="#3d64af" d="M623.1,988.7H634.9M629.0,982.8V994.6M624.8,984.6L633.2,992.9M624.8,992.9L633.2,984.6"/>
<path stroke="#3c5eab" d="M627.0,988.7H638.8M632.9,982.8V994.6M628.7,984.6L637.0,992.9M628.7,992.9L637.0,984.6"/>
<path stroke="#3c5eab" d="M630.8,988.7H642.6M636.7,982.8V994.6M632.5,984.6L640.9,992.9M632.5,992.9L640.9,984.6"/>
<path stroke="#3c5eab" d="M634.7,988.7H646.5M640.6,982.8V994.6M636.4,984.6L644.7,992.9M636.4,992.9L644.7,984.6"/>
<path stroke="#3d64af" d="M638.5,988.7H650.3M644.4,982.8V994.6M640.3,984.6L648.6,992.9M640.3,992.9L648.6,984.6"/>
<path stroke="#3d64af" d="M642.4,988.7H654.2M648.3,982.8V994.6M644.1,984.6L652.5,992.9M644.1,992.9L652.5,984.6"/>
<path stroke="#3d64af" d="M646.2,988.7H658.0M652.1,982.8V994.6M648.0,984.6L656.3,992.9M648.0,992.9L656.3,984.6"/>
<path stroke="#3d64af" d="M650.1,988.7H661.9M656.0,982.8V994.6M651.8,984.6L660.2,992.9M651.8,992.9L660.2,984.6"/>
<path stroke="#3f6cb4" d="M654.0,988.7H665.8M659.9,982.8V994.6M655.7,984.6L664.0,992.9M655.7,992.9L664.0,984.6"/>
<path stroke="#4077bc" d="M657.8,988.7H669.6M663.7,982.8V994.6M659.6,984.6L667.9,992.9M659.6,992.9L667.9,984.6"/>
<path stroke="#3f6cb4" d="M661.7,988.7H673.5M667.6,982.8V994.6M663.4,984.6L671.8,992.9M663.4,992.9L671.8,984.6"/>
<path stroke="#4188c8" d="M665.5,988.7H677.3M671.4,982.8V994.6M667.3,984.6L675.6,992.9M667.3,992.9L675.6,984.6"/>
<path stroke="#4188c8" d="M669.4,988.7H681.2M675.3,982.8V994.6M671.1,984.6L679.5,992.9M671.1,992.9L679.5,984.6"/>
<path stroke="#33c4f3" d="M673.3,988.7H685.1M679.2,982.8V994.6M675.0,984.6L683.3,992.9M675.0,992.9L683.3,984.6"/>
<path stroke="#33c4f3" d="M677.1,988.7H688.9M683.0,982.8V994.6M678.9,984.6L687.2,992.9M678.9,992.9L687.2,984.6"/>
<path stroke="#48c7ec" d="M681.0,988.7H692.8M686.9,982.8V994.6M682.7,984.6L691.1,992.9M682.7,992.9L691.1,984.6"/>
<path stroke="#5fc9e3" d="M684.8,988.7H696.6M690.7,982.8V994.6M686.6,984.6L694.9,992.9M686.6,992.9L694.9,984.6"/>
<path stroke="#48c7ec" d="M688.7,988.7H700.5M694.6,982.8V994.6M690.4,984.6L698.8,992.9M690.4,992.9L698.8,984.6"/>
<path stroke="#6dcad9" d="M692.6,988.7H704.4M698.5,982.8V994.6M694.3,984.6L702.6,992.9M694.3,992.9L702.6,984.6"/>
<path stroke="#5fc9e3" d="M696.4,988.7H708.2M702.3,982.8V994.6M698.1,984.6L706.5,992.9M698.1,992.9L706.5,984.6"/>
<path stroke="#5fc9e3" d="M700.3,988.7H712.1M706.2,982.8V994.6M702.0,984.6L710.4,992.9M702.0,992.9L710.4,984.6"/>
<path stroke="#5fc9e3" d="M704.1,988.7H715.9M710.0,982.8V994.6M705.9,984.6L714.2,992.9M705.9,992.9L714.2,984.6"/>
<path stroke="#6fc9cc" d="M708.0,988.7H719.8M713.9,982.8V994.6M709.7,984.6L718.1,992.9M709.7,992.9L718.1,984.6"/>
<path stroke="#71c8bf" d="M711.9,988.7H723.7M717.8,982.8V994.6M713.6,984.6L721.9,992.9M713.6,992.9L721.9,984.6"/>
<path stroke="#74c7b2" d="M715.7,988.7H727.5M721.6,982.8V994.6M717.4,984.6L725.8,992.9M717.4,992.9L725.8,984.6"/>
<path stroke="#7fc793" d="M719.6,988.7H731.4M725.5,982.8V994.6M721.3,984.6L729.6,992.9M721.3,992.9L729.6,984.6"/>
<path stroke="#7fc793" d="M723.4,988.7H735.2M729.3,982.8V994.6M725.2,984.6L733.5,992.9M725.2,992.9L733.5,984.6"/>
<path stroke="#8dc873" d="M727.3,988.7H739.1M733.2,982.8V994.6M729.0,984.6L737.4,992.9M729.0,992.9L737.4,984.6"/>
<path stroke="#94c963" d="M731.2,988.7H743.0M737.1,982.8V994.6M732.9,984.6L741.2,992.9M732.9,992.9L741.2,984.6"/>
<path stroke="#94c963" d="M735.0,988.7H746.8M740.9,982.8V994.6M736.7,984.6L745.1,992.9M736.7,992.9L745.1,984.6"/>
<path stroke="#a5ce46" d="M738.9,988.7H750.7M744.8,982.8V994.6M740.6,984.6L748.9,992.9M740.6,992.9L748.9,984.6"/>
<path stroke="#a5ce46" d="M742.7,988.7H754.5M748.6,982.8V994.6M744.5,984.6L752.8,992.9M744.5,992.9L752.8,984.6"/>
<path stroke="#9ccb54" d="M746.6,988.7H758.4M752.5,982.8V994.6M748.3,984.6L756.7,992.9M748.3,992.9L756.7,984.6"/>
<path stroke="#a5ce46" d="M750.4,988.7H762.2M756.3,982.8V994.6M752.2,984.6L760.5,992.9M752.2,992.9L760.5,984.6"/>
<path stroke="#b0d13a" d="M754.3,988.7H766.1M760.2,982.8V994.6M756.0,984.6L764.4,992.9M756.0,992.9L764.4,984.6"/>
<path stroke="#bed631" d="M758.2,988.7H770.0M764.1,982.8V994.6M759.9,984.6L768.2,992.9M759.9,992.9L768.2,984.6"/>
<path stroke="#bed631" d="M762.0,988.7H773.8M767.9,982.8V994.6M763.8,984.6L772.1,992.9M763.8,992.9L772.1,984.6"/>
<path stroke="#dbdf26" d="M765.9,988.7H777.7M771.8,982.8V994.6M767.6,984.6L776.0,992.9M767.6,992.9L776.0,984.6"/>
<path stroke="#dbdf26" d="M769.7,988.7H781.5M775.6,982.8V994.6M771.5,984.6L779.8,992.9M771.5,992.9L779.8,984.6"/>
<path stroke="#e5e424" d="M773.6,988.7H785.4M779.5,982.8V994.6M775.3,984.6L783.7,992.9M775.3,992.9L783.7,984.6"/>
<path stroke="#efe921" d="M777.5,988.7H789.3M783.4,982.8V994.6M779.2,984.6L787.5,992.9M779.2,992.9L787.5,984.6"/>
<path stroke="#fdd907" d="M781.3,988.7H793.1M787.2,982.8V994.6M783.1,984.6L791.4,992.9M783.1,992.9L791.4,984.6"/>
<path stroke="#fec809" d="M785.2,988.7H797.0M791.1,982.8V994.6M786.9,984.6L795.3,992.9M786.9,992.9L795.3,984.6"/>
<path stroke="#fcb514" d="M789.0,988.7H800.8M794.9,982.8V994.6M790.8,984.6L799.1,992.9M790.8,992.9L799.1,984.6"/>
<path stroke="#f5831f" d="M792.9,988.7H804.7M798.8,982.8V994.6M794.6,984.6L803.0,992.9M794.6,992.9L803.0,984.6"/>
</g>
<path d="M108.00,806.30H874.75V1026.80" fill="none" stroke="#48484a" stroke-width="1.9" stroke-linecap="square"/>
<path d="M107.8,869.70 L108.5,869.91 L109.3,870.11 L110.0,870.32 L110.8,870.53 L111.5,870.73 L112.3,870.94 L113.0,871.14 L113.8,871.35 L114.5,871.55 L115.3,871.76 L116.0,871.96 L116.8,872.16 L117.5,872.36 L118.3,872.56 L119.0,872.76 L119.8,872.97 L120.5,873.17 L121.3,873.36 L122.0,873.56 L122.8,873.76 L123.5,873.96 L124.3,874.16 L125.0,874.35 L125.8,874.55 L126.5,874.74 L127.3,874.94 L128.1,875.13 L128.8,875.33 L129.6,875.52 L130.3,875.71 L131.1,875.90 L131.8,876.10 L132.6,876.29 L133.3,876.48 L134.1,876.67 L134.8,876.85 L135.6,877.04 L136.3,877.23 L137.1,877.42 L137.8,877.60 L138.6,877.79 L139.3,877.97 L140.1,878.16 L140.8,878.34 L141.6,878.53 L142.3,878.71 L143.1,878.90 L143.8,879.08 L144.6,879.27 L145.3,879.45 L146.1,879.63 L146.8,879.82 L147.6,880.00 L148.3,880.19 L149.1,880.37 L149.8,880.55 L150.6,880.73 L151.3,880.91 L152.1,881.10 L152.8,881.28 L153.6,881.46 L154.3,881.64 L155.1,881.82 L155.8,882.00 L156.6,882.17 L157.3,882.35 L158.1,882.53 L158.8,882.71 L159.6,882.88 L160.3,883.06 L161.1,883.23 L161.8,883.40 L162.6,883.58 L163.3,883.75 L164.1,883.92 L164.8,884.09 L165.6,884.26 L166.3,884.42 L167.1,884.59 L167.8,884.76 L168.6,884.92 L169.3,885.09 L170.1,885.25 L170.8,885.41 L171.6,885.57 L172.3,885.73 L173.1,885.89 L173.8,886.05 L174.6,886.20 L175.3,886.36 L176.1,886.51 L176.8,886.66 L177.6,886.81 L178.3,886.96 L179.1,887.11 L179.8,887.25 L180.6,887.40 L181.3,887.54 L182.1,887.69 L182.8,887.83 L183.6,887.97 L184.3,888.11 L185.1,888.25 L185.8,888.39 L186.6,888.52 L187.3,888.66 L188.1,888.79 L188.8,888.93 L189.6,889.06 L190.3,889.20 L191.1,889.33 L191.8,889.46 L192.6,889.59 L193.3,889.72 L194.1,889.85 L194.8,889.98 L195.6,890.11 L196.3,890.23 L197.1,890.36 L197.8,890.49 L198.6,890.61 L199.3,890.74 L200.1,890.87 L200.8,890.99 L201.6,891.11 L202.3,891.24 L203.1,891.36 L203.8,891.49 L204.6,891.61 L205.3,891.73 L206.1,891.86 L206.8,891.98 L207.6,892.10 L208.3,892.23 L209.1,892.35 L209.8,892.47 L210.6,892.59 L211.3,892.72 L212.1,892.84 L212.8,892.96 L213.6,893.09 L214.3,893.21 L215.1,893.33 L215.8,893.46 L216.6,893.58 L217.3,893.70 L218.1,893.83 L218.8,893.95 L219.6,894.08 L220.3,894.20 L221.1,894.33 L221.8,894.46 L222.6,894.58 L223.3,894.71 L224.1,894.84 L224.8,894.97 L225.6,895.09 L226.3,895.23 L227.1,895.36 L227.8,895.49 L228.6,895.62 L229.3,895.76 L230.1,895.89 L230.8,896.03 L231.6,896.16 L232.3,896.30 L233.1,896.44 L233.8,896.57 L234.6,896.71 L235.3,896.85 L236.1,896.98 L236.8,897.11 L237.6,897.25 L238.3,897.38 L239.1,897.51 L239.8,897.64 L240.6,897.77 L241.3,897.90 L242.1,898.02 L242.8,898.15 L243.6,898.27 L244.3,898.39 L245.1,898.51 L245.8,898.62 L246.6,898.73 L247.3,898.84 L248.1,898.95 L248.8,899.06 L249.6,899.16 L250.3,899.28 L251.1,899.39 L251.8,899.51 L252.6,899.62 L253.3,899.74 L254.1,899.86 L254.8,899.98 L255.6,900.09 L256.3,900.21 L257.1,900.32 L257.8,900.43 L258.6,900.54 L259.3,900.64 L260.1,900.74 L260.8,900.83 L261.6,900.91 L262.3,900.99 L263.1,901.06 L263.8,901.13 L264.6,901.18 L265.3,901.23 L266.1,901.26 L266.8,901.28 L267.6,901.30 L268.3,901.30 L269.1,901.30 L269.8,901.29 L270.6,901.29 L271.3,901.28 L272.1,901.27 L272.8,901.26 L273.6,901.24 L274.3,901.23 L275.1,901.21 L275.8,901.19 L276.6,901.17 L277.3,901.15 L278.1,901.12 L278.8,901.10 L279.6,901.07 L280.3,901.04 L281.1,901.01 L281.8,900.98 L282.6,900.95 L283.3,900.91 L284.1,900.87 L284.8,900.82 L285.6,900.74 L286.3,900.64 L287.1,900.52 L287.8,900.39 L288.6,900.25 L289.3,900.09 L290.1,899.92 L290.8,899.75 L291.6,899.56 L292.3,899.37 L293.1,899.18 L293.8,898.99 L294.6,898.79 L295.3,898.60 L296.1,898.40 L296.8,898.19 L297.6,897.96 L298.3,897.72 L299.1,897.47 L299.8,897.21 L300.6,896.94 L301.3,896.66 L302.1,896.37 L302.8,896.07 L303.6,895.77 L304.3,895.46 L305.1,895.14 L305.8,894.82 L306.6,894.50 L307.3,894.17 L308.1,893.82 L308.8,893.44 L309.6,893.05 L310.3,892.64 L311.1,892.22 L311.8,891.79 L312.6,891.36 L313.3,890.92 L314.1,890.49 L314.8,890.06 L315.6,889.63 L316.3,889.22 L317.1,888.83 L317.8,888.45 L318.6,888.09 L319.3,887.75 L320.1,887.41 L320.8,887.08 L321.6,886.75 L322.3,886.43 L323.1,886.12 L323.8,885.82 L324.6,885.55 L325.3,885.29 L326.1,885.06 L326.8,884.85 L327.6,884.66 L328.3,884.49 L329.1,884.34 L329.8,884.20 L330.6,884.06 L331.3,883.94 L332.1,883.82 L332.8,883.70 L333.6,883.58 L334.3,883.45 L335.1,883.32 L335.8,883.18 L336.6,883.02 L337.3,882.85 L338.1,882.67 L338.8,882.46 L339.6,882.23 L340.3,881.97 L341.1,881.70 L341.8,881.40 L342.6,881.09 L343.3,880.76 L344.1,880.42 L344.8,880.07 L345.6,879.71 L346.3,879.34 L347.1,878.97 L347.8,878.60 L348.6,878.22 L349.3,877.85 L350.1,877.48 L350.8,877.10 L351.6,876.71 L352.3,876.30 L353.1,875.89 L353.8,875.46 L354.6,875.03 L355.3,874.59 L356.1,874.14 L356.8,873.69 L357.6,873.23 L358.3,872.78 L359.1,872.32 L359.8,871.86 L360.6,871.41 L361.3,870.96 L362.1,870.51 L362.8,870.07 L363.6,869.64 L364.3,869.21 L365.1,868.80 L365.8,868.39 L366.6,868.00 L367.3,867.61 L368.1,867.22 L368.8,866.84 L369.6,866.47 L370.3,866.10 L371.1,865.73 L371.8,865.36 L372.6,865.00 L373.3,864.64 L374.1,864.27 L374.8,863.91 L375.6,863.55 L376.3,863.18 L377.1,862.82 L377.8,862.45 L378.6,862.08 L379.3,861.70 L380.1,861.32 L380.8,860.93 L381.6,860.54 L382.3,860.15 L383.1,859.75 L383.8,859.35 L384.6,858.94 L385.3,858.53 L386.1,858.13 L386.8,857.71 L387.6,857.30 L388.3,856.88 L389.1,856.47 L389.8,856.05 L390.6,855.63 L391.3,855.21 L392.1,854.80 L392.8,854.38 L393.6,853.96 L394.3,853.54 L395.1,853.12 L395.8,852.71 L396.6,852.29 L397.3,851.88 L398.1,851.46 L398.8,851.04 L399.6,850.62 L400.3,850.19 L401.1,849.77 L401.8,849.34 L402.6,848.92 L403.3,848.48 L404.1,848.07 L404.8,847.65 L405.6,847.24 L406.3,846.81 L407.1,846.39 L407.8,845.98 L408.6,845.56 L409.3,845.17 L410.1,844.77 L410.8,844.36 L411.6,843.97 L412.3,843.53 L413.1,843.18 L413.8,842.82 L414.6,842.48 L415.3,842.07 L416.1,841.67 L416.8,841.31 L417.6,841.04 L418.3,840.72 L419.1,840.48 L419.8,840.14 L420.6,839.85 L421.3,839.39 L422.1,839.14 L422.8,838.73 L423.6,838.50 L424.3,838.17 L425.1,837.92 L425.8,837.53 L426.6,837.10 L427.3,836.85 L428.1,836.68 L428.8,836.41 L429.6,835.96 L430.3,835.51 L431.1,835.17 L431.8,834.86 L432.6,834.60 L433.3,834.45 L434.1,834.18 L434.8,833.99 L435.6,833.47 L436.3,833.23 L437.1,832.85 L437.8,832.51 L438.6,832.23 L439.3,832.03 L440.1,831.90 L440.8,831.65 L441.6,831.19 L442.3,830.81 L443.1,830.45 L443.8,830.23 L444.6,830.01 L445.3,829.58 L446.1,829.30 L446.8,828.83 L447.6,828.52 L448.3,827.95 L449.1,827.59 L449.8,827.23 L450.6,826.85 L451.3,826.46 L452.1,826.11 L452.8,825.80 L453.6,825.50 L454.3,825.05 L455.1,824.78 L455.8,824.34 L456.6,824.08 L457.3,823.53 L458.1,823.16 L458.8,822.67 L459.6,822.43 L460.3,821.98 L461.1,821.90 L461.8,821.74 L462.6,821.96 L463.3,821.97 L464.1,822.06 L464.8,822.20 L465.6,822.14 L466.3,822.23 L467.1,822.11 L467.8,822.21 L468.6,822.12 L469.3,821.97 L470.1,821.72 L470.8,821.42 L471.6,821.00 L472.3,820.65 L473.1,820.44 L473.8,820.19 L474.6,820.05 L475.3,819.74 L476.1,819.69 L476.8,819.48 L477.6,819.65 L478.3,819.49 L479.1,819.52 L479.8,819.42 L480.6,819.53 L481.3,819.55 L482.1,819.51 L482.8,819.45 L483.6,819.41 L484.3,819.28 L485.1,819.20 L485.8,818.98 L486.6,818.96 L487.3,819.03 L488.1,819.08 L488.8,818.97 L489.6,818.87 L490.3,819.00 L491.1,819.18 L491.8,819.07 L492.6,819.04 L493.3,818.93 L494.1,819.10 L494.8,818.95 L495.6,819.11 L496.3,819.12 L497.1,819.36 L497.8,819.35 L498.6,819.38 L499.3,819.48 L500.1,819.54 L500.8,819.65 L501.6,819.75 L502.3,819.87 L503.1,819.96 L503.8,820.07 L504.6,820.13 L505.3,820.27 L506.1,820.35 L506.8,820.56 L507.6,820.74 L508.3,820.91 L509.1,820.94 L509.8,820.91 L510.6,821.02 L511.3,821.24 L512.0,821.40 L512.8,821.46 L513.5,821.46 L514.3,821.51 L515.0,821.67 L515.8,821.87 L516.5,822.15 L517.3,822.35 L518.0,822.59 L518.8,822.69 L519.5,822.65 L520.3,822.57 L521.0,822.79 L521.8,823.02 L522.5,823.36 L523.3,823.53 L524.0,823.69 L524.8,823.81 L525.5,823.88 L526.3,824.20 L527.0,824.37 L527.8,824.72 L528.5,824.77 L529.3,825.01 L530.0,825.21 L530.8,825.44 L531.5,825.59 L532.3,825.92 L533.0,826.14 L533.8,826.46 L534.5,826.51 L535.3,826.70 L536.0,826.99 L536.8,827.26 L537.5,827.58 L538.3,827.56 L539.0,827.80 L539.8,828.10 L540.5,828.54 L541.3,828.77 L542.0,829.06 L542.8,829.33 L543.5,829.65 L544.3,829.92 L545.0,830.25 L545.8,830.41 L546.5,830.66 L547.3,830.86 L548.0,831.14 L548.8,831.48 L549.5,831.77 L550.3,832.22 L551.0,832.44 L551.8,832.86 L552.5,833.25 L553.3,833.76 L554.0,834.18 L554.8,834.56 L555.5,834.92 L556.3,835.42 L557.0,835.84 L557.8,836.28 L558.5,836.69 L559.3,837.03 L560.0,837.35 L560.8,837.63 L561.5,838.06 L562.3,838.47 L563.0,838.91 L563.8,839.37 L564.5,839.82 L565.3,840.31 L566.0,840.75 L566.8,841.27 L567.5,841.71 L568.3,842.19 L569.0,842.53 L569.8,842.80 L570.5,842.97 L571.3,843.08 L572.0,843.09 L572.8,843.05 L573.5,843.02 L574.3,842.98 L575.0,842.91 L575.8,842.81 L576.5,842.70 L577.3,842.60 L578.0,842.50 L578.8,842.39 L579.5,842.29 L580.3,842.20 L581.0,842.12 L581.8,842.06 L582.5,842.02 L583.3,842.00 L584.0,842.02 L584.8,842.09 L585.5,842.21 L586.3,842.37 L587.0,842.57 L587.8,842.80 L588.5,843.05 L589.3,843.32 L590.0,843.59 L590.8,843.87 L591.5,844.13 L592.3,844.39 L593.0,844.63 L593.8,844.84 L594.5,845.05 L595.3,845.26 L596.0,845.47 L596.8,845.68 L597.5,845.89 L598.3,846.11 L599.0,846.32 L599.8,846.54 L600.5,846.76 L601.3,846.99 L602.0,847.22 L602.8,847.46 L603.5,847.70 L604.3,847.96 L605.0,848.22 L605.8,848.49 L606.5,848.77 L607.3,849.07 L608.0,849.37 L608.8,849.68 L609.5,850.00 L610.3,850.32 L611.0,850.65 L611.8,850.99 L612.5,851.34 L613.3,851.68 L614.0,852.04 L614.8,852.39 L615.5,852.75 L616.3,853.11 L617.0,853.48 L617.8,853.84 L618.5,854.20 L619.3,854.57 L620.0,854.93 L620.8,855.30 L621.5,855.66 L622.3,856.03 L623.0,856.41 L623.8,856.79 L624.5,857.17 L625.3,857.55 L626.0,857.94 L626.8,858.33 L627.5,858.72 L628.3,859.12 L629.0,859.52 L629.8,859.92 L630.5,860.32 L631.3,860.72 L632.0,861.13 L632.8,861.53 L633.5,861.94 L634.3,862.34 L635.0,862.75 L635.8,863.16 L636.5,863.56 L637.3,863.97 L638.0,864.38 L638.8,864.80 L639.5,865.21 L640.3,865.63 L641.0,866.05 L641.8,866.47 L642.5,866.89 L643.3,867.31 L644.0,867.73 L644.8,868.16 L645.5,868.58 L646.3,869.01 L647.0,869.44 L647.8,869.86 L648.5,870.29 L649.3,870.72 L650.0,871.15 L650.8,871.57 L651.5,872.00 L652.3,872.42 L653.0,872.85 L653.8,873.27 L654.5,873.70 L655.3,874.12 L656.0,874.54 L656.8,874.96 L657.5,875.39 L658.3,875.81 L659.0,876.24 L659.8,876.66 L660.5,877.09 L661.3,877.52 L662.0,877.94 L662.8,878.37 L663.5,878.80 L664.3,879.22 L665.0,879.65 L665.8,880.08 L666.5,880.50 L667.3,880.92 L668.0,881.34 L668.8,881.76 L669.5,882.18 L670.3,882.60 L671.0,883.01 L671.8,883.42 L672.5,883.83 L673.3,884.23 L674.0,884.64 L674.8,885.04 L675.5,885.43 L676.3,885.83 L677.0,886.22 L677.8,886.62 L678.5,887.01 L679.3,887.41 L680.0,887.80 L680.8,888.20 L681.5,888.59 L682.3,888.98 L683.0,889.37 L683.8,889.76 L684.5,890.14 L685.3,890.52 L686.0,890.90 L686.8,891.28 L687.5,891.65 L688.3,892.01 L689.0,892.38 L689.8,892.74 L690.5,893.09 L691.3,893.44 L692.0,893.79 L692.8,894.13 L693.5,894.46 L694.3,894.79 L695.0,895.11 L695.8,895.43 L696.5,895.76 L697.3,896.08 L698.0,896.41 L698.8,896.74 L699.5,897.07 L700.3,897.39 L701.0,897.71 L701.8,898.03 L702.5,898.33 L703.3,898.64 L704.0,898.93 L704.8,899.21 L705.5,899.48 L706.3,899.74 L707.0,899.98 L707.8,900.21 L708.5,900.43 L709.3,900.62 L710.0,900.80 L710.8,900.96 L711.5,901.12 L712.3,901.28 L713.0,901.44 L713.8,901.59 L714.5,901.74 L715.3,901.89 L716.0,902.03 L716.8,902.17 L717.5,902.30 L718.3,902.42 L719.0,902.52 L719.8,902.62 L720.5,902.71 L721.3,902.78 L722.0,902.83 L722.8,902.87 L723.5,902.89 L724.3,902.90 L725.0,902.87 L725.8,902.81 L726.5,902.72 L727.3,902.61 L728.0,902.47 L728.8,902.32 L729.5,902.15 L730.3,901.96 L731.0,901.77 L731.8,901.58 L732.5,901.39 L733.3,901.19 L734.0,901.01 L734.8,900.83 L735.5,900.67 L736.3,900.53 L737.0,900.40 L737.8,900.30 L738.5,900.22 L739.3,900.14 L740.0,900.06 L740.8,899.99 L741.5,899.92 L742.3,899.86 L743.0,899.80 L743.8,899.74 L744.5,899.68 L745.3,899.62 L746.0,899.57 L746.8,899.52 L747.5,899.46 L748.3,899.41 L749.0,899.35 L749.8,899.30 L750.5,899.24 L751.3,899.18 L752.0,899.12 L752.8,899.05 L753.5,898.99 L754.3,898.92 L755.0,898.85 L755.8,898.78 L756.5,898.71 L757.3,898.64 L758.0,898.57 L758.8,898.50 L759.5,898.43 L760.3,898.35 L761.0,898.28 L761.8,898.20 L762.5,898.12 L763.3,898.03 L764.0,897.94 L764.8,897.85 L765.5,897.75 L766.3,897.65 L767.0,897.55 L767.8,897.44 L768.5,897.32 L769.3,897.21 L770.0,897.08 L770.8,896.96 L771.5,896.83 L772.3,896.69 L773.0,896.55 L773.8,896.41 L774.5,896.27 L775.3,896.12 L776.0,895.97 L776.8,895.82" stroke="#2f4ca0" stroke-width="2.1" fill="none" stroke-linejoin="round"/>
<path d="M225.2,895.0V1026.8" stroke="#ed1c24" stroke-width="1.9" fill="none"/>
<path d="M381.3,860.7V1026.8" stroke="#ed1c24" stroke-width="1.9" fill="none"/>
<text x="107.5" y="1056.6" font-family='"Liberation Sans", Arial, Helvetica, sans-serif' font-size="19.3" fill="#414042" text-anchor="middle" >0</text>
<text x="235.3" y="1056.6" font-family='"Liberation Sans", Arial, Helvetica, sans-serif' font-size="19.3" fill="#414042" text-anchor="middle" >0.25</text>
<text x="363.1" y="1056.6" font-family='"Liberation Sans", Arial, Helvetica, sans-serif' font-size="19.3" fill="#414042" text-anchor="middle" >0.5</text>
<text x="490.9" y="1056.6" font-family='"Liberation Sans", Arial, Helvetica, sans-serif' font-size="19.3" fill="#414042" text-anchor="middle" >0.75</text>
<text x="618.7" y="1056.6" font-family='"Liberation Sans", Arial, Helvetica, sans-serif' font-size="19.3" fill="#414042" text-anchor="middle" >1</text>
<text x="746.5" y="1056.6" font-family='"Liberation Sans", Arial, Helvetica, sans-serif' font-size="19.3" fill="#414042" text-anchor="middle" >1.25</text>
<text x="874.2" y="1056.6" font-family='"Liberation Sans", Arial, Helvetica, sans-serif' font-size="19.3" fill="#414042" text-anchor="middle" >1.5</text>
<text x="97.5" y="1035.6" font-family='"Liberation Sans", Arial, Helvetica, sans-serif' font-size="19.3" fill="#414042" text-anchor="end" >0</text>
<text x="97.5" y="996.3" font-family='"Liberation Sans", Arial, Helvetica, sans-serif' font-size="19.3" fill="#414042" text-anchor="end" >0.25</text>
<text x="97.5" y="966.9" font-family='"Liberation Sans", Arial, Helvetica, sans-serif' font-size="19.3" fill="#414042" text-anchor="end" >0.4375</text>
<text x="97.5" y="937.5" font-family='"Liberation Sans", Arial, Helvetica, sans-serif' font-size="19.3" fill="#414042" text-anchor="end" >0.625</text>
<text x="97.5" y="898.2" font-family='"Liberation Sans", Arial, Helvetica, sans-serif' font-size="19.3" fill="#414042" text-anchor="end" >0.875</text>
<text x="97.5" y="878.6" font-family='"Liberation Sans", Arial, Helvetica, sans-serif' font-size="19.3" fill="#414042" text-anchor="end" >1</text>
<text x="97.5" y="859.0" font-family='"Liberation Sans", Arial, Helvetica, sans-serif' font-size="19.3" fill="#414042" text-anchor="end" >1.125</text>
<text x="491.5" y="795.9" font-family='"Liberation Serif", "Times New Roman", serif' font-size="19.5" fill="#231f20" text-anchor="middle" letter-spacing="0.75">Long Period Wave</text>
<text x="427.5" y="1081.5" font-family='"Liberation Serif", "Times New Roman", serif' font-size="20.5" fill="#5f6062" textLength="126.5" lengthAdjust="spacingAndGlyphs"><tspan font-style="italic">t&#x302;</tspan><tspan font-size="14" dy="3.5">1</tspan><tspan dy="-3.5"> = (</tspan><tspan font-style="italic">t</tspan> &#x2212; <tspan font-style="italic">t</tspan><tspan font-size="14" dy="3.5">0</tspan><tspan dy="-3.5">)/</tspan><tspan font-style="italic">T</tspan></text>
<g transform="translate(25.2,916.5) rotate(-90)">
<text x="-37.8" y="0" font-family='"Liberation Serif", "Times New Roman", serif' font-size="20.5" fill="#5f6062" textLength="75.7" lengthAdjust="spacingAndGlyphs"><tspan font-style="italic">h&#x302;</tspan> = <tspan font-style="italic">h</tspan>/<tspan font-style="italic">h</tspan><tspan font-size="14" dy="3.5">0</tspan></text>
</g>
<text font-family='"Liberation Serif", "Times New Roman", serif' font-size="20.0" fill="#2b2a2c"><tspan x="231.0" y="913.4" font-style="italic">û</tspan><tspan x="249.0" y="913.4" textLength="14.2" lengthAdjust="spacingAndGlyphs">=</tspan><tspan x="269.6" y="913.4">-0.10</tspan></text>
<text font-family='"Liberation Serif", "Times New Roman", serif' font-size="20.0" fill="#2b2a2c"><tspan x="388.0" y="893.9" font-style="italic">û</tspan><tspan x="399.0" y="897.2" font-style="italic" font-size="15.2" textLength="26.5" lengthAdjust="spacingAndGlyphs">max</tspan><tspan x="434.0" y="893.9" textLength="14.2" lengthAdjust="spacingAndGlyphs">=</tspan><tspan x="455.0" y="893.9">0.20</tspan></text>
<rect x="910.3" y="1023.05" width="43.0" height="4.05" fill="#2b2f87"/>
<rect x="910.3" y="1019.61" width="43.0" height="4.05" fill="#2c348c"/>
<rect x="910.3" y="1016.16" width="43.0" height="4.05" fill="#2e3a94"/>
<rect x="910.3" y="1012.72" width="43.0" height="4.05" fill="#30419a"/>
<rect x="910.3" y="1009.27" width="43.0" height="4.05" fill="#33469d"/>
<rect x="910.3" y="1005.83" width="43.0" height="4.05" fill="#364b9f"/>
<rect x="910.3" y="1002.38" width="43.0" height="4.05" fill="#3950a2"/>
<rect x="910.3" y="998.94" width="43.0" height="4.05" fill="#3951a3"/>
<rect x="910.3" y="995.49" width="43.0" height="4.05" fill="#3a52a3"/>
<rect x="910.3" y="992.05" width="43.0" height="4.05" fill="#3a54a4"/>
<rect x="910.3" y="988.60" width="43.0" height="4.05" fill="#3a57a6"/>
<rect x="910.3" y="985.16" width="43.0" height="4.05" fill="#3b5aa8"/>
<rect x="910.3" y="981.71" width="43.0" height="4.05" fill="#3c5eab"/>
<rect x="910.3" y="978.27" width="43.0" height="4.05" fill="#3d64af"/>
<rect x="910.3" y="974.82" width="43.0" height="4.05" fill="#3f6cb4"/>
<rect x="910.3" y="971.38" width="43.0" height="4.05" fill="#4077bc"/>
<rect x="910.3" y="967.93" width="43.0" height="4.05" fill="#4188c8"/>
<rect x="910.3" y="964.48" width="43.0" height="4.05" fill="#4197d3"/>
<rect x="910.3" y="961.04" width="43.0" height="4.05" fill="#3fa6dc"/>
<rect x="910.3" y="957.59" width="43.0" height="4.05" fill="#3ab5e7"/>
<rect x="910.3" y="954.15" width="43.0" height="4.05" fill="#33c4f3"/>
<rect x="910.3" y="950.70" width="43.0" height="4.05" fill="#48c7ec"/>
<rect x="910.3" y="947.26" width="43.0" height="4.05" fill="#5fc9e3"/>
<rect x="910.3" y="943.81" width="43.0" height="4.05" fill="#6dcad9"/>
<rect x="910.3" y="940.37" width="43.0" height="4.05" fill="#6fc9cc"/>
<rect x="910.3" y="936.92" width="43.0" height="4.05" fill="#71c8bf"/>
<rect x="910.3" y="933.48" width="43.0" height="4.05" fill="#74c7b2"/>
<rect x="910.3" y="930.03" width="43.0" height="4.05" fill="#79c7a2"/>
<rect x="910.3" y="926.59" width="43.0" height="4.05" fill="#7fc793"/>
<rect x="910.3" y="923.14" width="43.0" height="4.05" fill="#85c783"/>
<rect x="910.3" y="919.70" width="43.0" height="4.05" fill="#8dc873"/>
<rect x="910.3" y="916.25" width="43.0" height="4.05" fill="#94c963"/>
<rect x="910.3" y="912.80" width="43.0" height="4.05" fill="#9ccb54"/>
<rect x="910.3" y="909.36" width="43.0" height="4.05" fill="#a5ce46"/>
<rect x="910.3" y="905.91" width="43.0" height="4.05" fill="#b0d13a"/>
<rect x="910.3" y="902.47" width="43.0" height="4.05" fill="#bed631"/>
<rect x="910.3" y="899.02" width="43.0" height="4.05" fill="#cfda2a"/>
<rect x="910.3" y="895.58" width="43.0" height="4.05" fill="#dbdf26"/>
<rect x="910.3" y="892.13" width="43.0" height="4.05" fill="#e5e424"/>
<rect x="910.3" y="888.69" width="43.0" height="4.05" fill="#efe921"/>
<rect x="910.3" y="885.24" width="43.0" height="4.05" fill="#f7e618"/>
<rect x="910.3" y="881.80" width="43.0" height="4.05" fill="#fdd907"/>
<rect x="910.3" y="878.35" width="43.0" height="4.05" fill="#fec809"/>
<rect x="910.3" y="874.91" width="43.0" height="4.05" fill="#fcb514"/>
<rect x="910.3" y="871.46" width="43.0" height="4.05" fill="#fbaa17"/>
<rect x="910.3" y="868.02" width="43.0" height="4.05" fill="#f99e1a"/>
<rect x="910.3" y="864.57" width="43.0" height="4.05" fill="#f7921d"/>
<rect x="910.3" y="861.12" width="43.0" height="4.05" fill="#f5831f"/>
<rect x="910.3" y="857.68" width="43.0" height="4.05" fill="#f47420"/>
<rect x="910.3" y="854.23" width="43.0" height="4.05" fill="#f26622"/>
<rect x="910.3" y="850.79" width="43.0" height="4.05" fill="#f15723"/>
<rect x="910.3" y="847.34" width="43.0" height="4.05" fill="#f04823"/>
<rect x="910.3" y="843.90" width="43.0" height="4.05" fill="#ee3924"/>
<rect x="910.3" y="840.45" width="43.0" height="4.05" fill="#ee2f24"/>
<rect x="910.3" y="837.01" width="43.0" height="4.05" fill="#ed2724"/>
<rect x="910.3" y="833.56" width="43.0" height="4.05" fill="#ed1f24"/>
<rect x="910.3" y="830.12" width="43.0" height="4.05" fill="#e61d24"/>
<rect x="910.3" y="826.67" width="43.0" height="4.05" fill="#d91e25"/>
<rect x="910.3" y="823.23" width="43.0" height="4.05" fill="#cb1f26"/>
<rect x="910.3" y="819.78" width="43.0" height="4.05" fill="#bd1f25"/>
<rect x="910.3" y="816.34" width="43.0" height="4.05" fill="#ac1d22"/>
<rect x="910.3" y="812.89" width="43.0" height="4.05" fill="#9b1b1f"/>
<rect x="910.3" y="809.45" width="43.0" height="4.05" fill="#8c181c"/>
<rect x="910.3" y="806.00" width="43.0" height="4.05" fill="#7e1518"/>
<text x="960.9" y="1001.7" font-family='"Liberation Sans", Arial, Helvetica, sans-serif' font-size="17.8" fill="#414042" text-anchor="start" >-0.2</text>
<text x="960.9" y="962.7" font-family='"Liberation Sans", Arial, Helvetica, sans-serif' font-size="17.8" fill="#414042" text-anchor="start" >-0.1</text>
<text x="960.9" y="923.8" font-family='"Liberation Sans", Arial, Helvetica, sans-serif' font-size="17.8" fill="#414042" text-anchor="start" >0</text>
<text x="960.9" y="884.8" font-family='"Liberation Sans", Arial, Helvetica, sans-serif' font-size="17.8" fill="#414042" text-anchor="start" >0.1</text>
<text x="960.9" y="845.8" font-family='"Liberation Sans", Arial, Helvetica, sans-serif' font-size="17.8" fill="#414042" text-anchor="start" >0.2</text>
<path d="M953.3,994.47h-3M953.3,955.51h-3M953.3,916.55h-3M953.3,877.59h-3M953.3,838.63h-3" stroke="#48484a" stroke-width="1.5" fill="none"/>
<rect x="910.30" y="806.30" width="43.00" height="220.50" fill="none" stroke="#48484a" stroke-width="1.8"/>
<g transform="translate(1013.6,916.5) rotate(-90)">
<text font-family='"Liberation Serif", "Times New Roman", serif' font-size="20.5" fill="#5f6062"><tspan x="-46.4" y="0" font-style="italic">u&#x302;</tspan><tspan x="-30.8" y="0">=</tspan><tspan x="-13.2" y="0" font-style="italic">u</tspan><tspan x="-2.6" y="3.2" font-size="25.5">/</tspan><tspan x="7.6" y="3.0" font-size="22">&#x221A;</tspan><tspan x="20.8" y="0" font-size="18.8" font-style="italic">g</tspan><tspan x="29.9" y="0" font-size="18.8" font-style="italic">h</tspan><tspan x="39.0" y="3.5" font-size="14.5">0</tspan></text>
<path d="M19.4,-14.3H47.2" stroke="#5f6062" stroke-width="1.3" fill="none"/>
</g>
</g>
</svg>
</body></html>
